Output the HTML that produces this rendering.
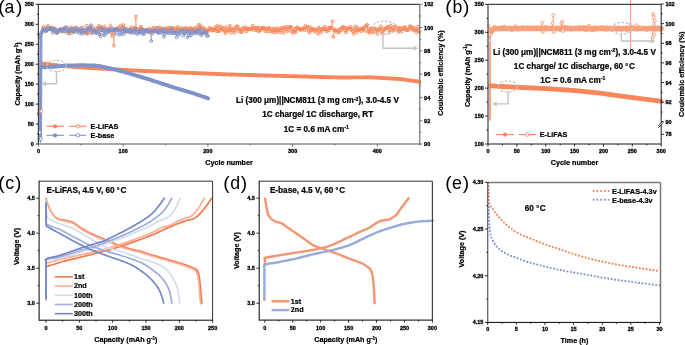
<!DOCTYPE html>
<html><head><meta charset="utf-8"><style>
html,body{margin:0;padding:0;background:#fff;width:685px;height:345px;overflow:hidden;}
svg{display:block;font-family:"Liberation Sans", sans-serif;filter:blur(0.3px);}
</style></head><body>
<svg width="685" height="345" viewBox="0 0 685 345">
<text x="-1.89" y="13.45" font-size="19.2" font-weight="normal" text-anchor="start" fill="#000" >(</text>
<text x="4.46" y="13" font-size="17.7" font-weight="normal" text-anchor="start" fill="#000" >a</text>
<text x="15.93" y="13.45" font-size="19.2" font-weight="normal" text-anchor="start" fill="#000" >)</text>
<text x="445.26" y="13.45" font-size="19.2" font-weight="normal" text-anchor="start" fill="#000" >(</text>
<text x="452.38" y="13" font-size="17.7" font-weight="normal" text-anchor="start" fill="#000" >b</text>
<text x="462.98" y="13.45" font-size="19.2" font-weight="normal" text-anchor="start" fill="#000" >)</text>
<text x="-1.89" y="189.05" font-size="19.2" font-weight="normal" text-anchor="start" fill="#000" >(</text>
<text x="5.18" y="188.6" font-size="17.7" font-weight="normal" text-anchor="start" fill="#000" >c</text>
<text x="14.88" y="189.05" font-size="19.2" font-weight="normal" text-anchor="start" fill="#000" >)</text>
<text x="223.31" y="189.05" font-size="19.2" font-weight="normal" text-anchor="start" fill="#000" >(</text>
<text x="230.17" y="188.6" font-size="17.7" font-weight="normal" text-anchor="start" fill="#000" >d</text>
<text x="240.78" y="189.05" font-size="19.2" font-weight="normal" text-anchor="start" fill="#000" >)</text>
<text x="445.31" y="189.05" font-size="19.2" font-weight="normal" text-anchor="start" fill="#000" >(</text>
<text x="451.95" y="188.6" font-size="17.7" font-weight="normal" text-anchor="start" fill="#000" >e</text>
<text x="462.73" y="189.05" font-size="19.2" font-weight="normal" text-anchor="start" fill="#000" >)</text>
<polyline points="39.35,112.08 40.2,63.3 41.04,63.39 41.89,63.49 42.73,63.59 43.58,63.7 44.42,63.81 45.27,63.92 46.11,64.03 46.96,64.13 47.8,64.24 48.65,64.35 49.49,64.46 50.34,64.57 51.18,64.67 52.03,64.78 52.87,64.89 53.72,65 54.56,65.11 55.41,65.21 56.25,65.32 57.1,65.43 57.94,65.54 58.79,65.65 59.63,65.75 60.48,65.84 61.32,65.9 62.17,65.96 63.01,66.02 63.86,66.08 64.7,66.15 65.55,66.21 66.39,66.27 67.24,66.33 68.08,66.39 68.93,66.45 69.77,66.52 70.62,66.58 71.46,66.64 72.31,66.7 73.15,66.76 74,66.83 74.84,66.89 75.69,66.95 76.53,67.01 77.38,67.07 78.22,67.14 79.07,67.2 79.91,67.26 80.76,67.32 81.6,67.38 82.45,67.45 83.29,67.51 84.14,67.57 84.98,67.63 85.83,67.69 86.67,67.76 87.52,67.82 88.36,67.88 89.21,67.94 90.05,68 90.9,68.05 91.74,68.1 92.59,68.15 93.43,68.19 94.28,68.24 95.12,68.29 95.97,68.33 96.81,68.38 97.66,68.43 98.5,68.48 99.35,68.52 100.19,68.57 101.04,68.62 101.88,68.67 102.73,68.71 103.57,68.76 104.42,68.81 105.26,68.85 106.11,68.9 106.95,68.95 107.8,69 108.64,69.04 109.49,69.09 110.33,69.14 111.18,69.19 112.02,69.23 112.87,69.28 113.71,69.33 114.56,69.38 115.4,69.42 116.25,69.47 117.09,69.52 117.94,69.56 118.78,69.61 119.63,69.66 120.47,69.71 121.32,69.75 122.16,69.8 123.01,69.85 123.85,69.9 124.7,69.94 125.54,69.99 126.39,70.04 127.23,70.09 128.08,70.13 128.92,70.18 129.77,70.23 130.61,70.27 131.46,70.32 132.3,70.37 133.15,70.42 133.99,70.46 134.84,70.51 135.68,70.56 136.53,70.61 137.37,70.65 138.22,70.7 139.06,70.75 139.91,70.79 140.75,70.83 141.6,70.87 142.44,70.9 143.29,70.94 144.13,70.97 144.98,71 145.82,71.04 146.67,71.07 147.51,71.11 148.36,71.14 149.2,71.18 150.05,71.21 150.89,71.25 151.74,71.28 152.58,71.32 153.43,71.35 154.27,71.39 155.12,71.42 155.96,71.46 156.81,71.49 157.65,71.53 158.5,71.56 159.34,71.6 160.19,71.63 161.03,71.66 161.88,71.7 162.72,71.73 163.57,71.77 164.41,71.8 165.26,71.84 166.1,71.87 166.95,71.91 167.79,71.94 168.64,71.98 169.48,72.01 170.33,72.05 171.17,72.08 172.02,72.12 172.86,72.15 173.71,72.19 174.55,72.22 175.4,72.26 176.24,72.29 177.09,72.32 177.93,72.36 178.78,72.39 179.62,72.43 180.47,72.46 181.31,72.5 182.16,72.53 183,72.57 183.85,72.6 184.69,72.64 185.54,72.67 186.38,72.71 187.23,72.74 188.07,72.78 188.92,72.81 189.76,72.85 190.61,72.88 191.45,72.92 192.3,72.95 193.14,72.98 193.99,73.02 194.83,73.05 195.68,73.09 196.52,73.12 197.37,73.16 198.21,73.19 199.06,73.23 199.9,73.26 200.75,73.3 201.59,73.33 202.44,73.37 203.28,73.4 204.13,73.44 204.97,73.47 205.82,73.51 206.66,73.54 207.51,73.58 208.35,73.61 209.2,73.64 210.04,73.68 210.89,73.71 211.73,73.75 212.58,73.78 213.42,73.82 214.27,73.85 215.11,73.89 215.96,73.92 216.8,73.96 217.65,73.99 218.49,74.03 219.34,74.06 220.18,74.1 221.03,74.13 221.87,74.17 222.72,74.2 223.56,74.24 224.41,74.27 225.25,74.3 226.1,74.34 226.94,74.37 227.79,74.41 228.63,74.44 229.48,74.48 230.32,74.51 231.17,74.53 232.01,74.55 232.86,74.58 233.7,74.6 234.55,74.62 235.39,74.65 236.24,74.67 237.08,74.69 237.93,74.72 238.77,74.74 239.62,74.76 240.46,74.79 241.31,74.81 242.15,74.83 243,74.85 243.84,74.88 244.69,74.9 245.53,74.92 246.38,74.95 247.22,74.97 248.07,74.99 248.91,75.02 249.76,75.04 250.6,75.06 251.45,75.08 252.29,75.11 253.14,75.13 253.98,75.15 254.83,75.18 255.67,75.2 256.52,75.22 257.36,75.25 258.21,75.27 259.05,75.29 259.9,75.32 260.74,75.34 261.59,75.36 262.43,75.38 263.28,75.41 264.12,75.43 264.97,75.45 265.81,75.48 266.66,75.5 267.5,75.52 268.35,75.55 269.19,75.57 270.04,75.59 270.88,75.61 271.73,75.64 272.57,75.66 273.42,75.68 274.26,75.71 275.11,75.73 275.95,75.75 276.8,75.78 277.64,75.8 278.49,75.82 279.33,75.85 280.18,75.87 281.02,75.89 281.87,75.91 282.71,75.94 283.56,75.96 284.4,75.98 285.25,76.01 286.09,76.03 286.94,76.05 287.78,76.08 288.63,76.1 289.47,76.12 290.32,76.15 291.16,76.17 292.01,76.19 292.85,76.21 293.7,76.24 294.54,76.26 295.39,76.28 296.23,76.31 297.08,76.33 297.92,76.35 298.77,76.38 299.61,76.4 300.46,76.42 301.3,76.44 302.15,76.47 302.99,76.49 303.84,76.51 304.68,76.54 305.53,76.56 306.37,76.58 307.22,76.61 308.06,76.63 308.91,76.65 309.75,76.68 310.6,76.7 311.44,76.72 312.29,76.74 313.13,76.77 313.98,76.79 314.82,76.81 315.67,76.84 316.51,76.86 317.36,76.88 318.2,76.91 319.05,76.93 319.89,76.95 320.74,76.97 321.58,77 322.43,77.02 323.27,77.04 324.12,77.07 324.96,77.09 325.81,77.11 326.65,77.14 327.5,77.16 328.34,77.18 329.19,77.21 330.03,77.23 330.88,77.25 331.72,77.27 332.57,77.3 333.41,77.32 334.26,77.34 335.1,77.37 335.95,77.39 336.79,77.41 337.64,77.44 338.48,77.46 339.33,77.48 340.17,77.5 341.02,77.49 341.86,77.49 342.71,77.48 343.55,77.48 344.4,77.47 345.24,77.47 346.09,77.46 346.93,77.45 347.78,77.45 348.62,77.44 349.47,77.44 350.31,77.43 351.16,77.43 352,77.42 352.85,77.41 353.69,77.41 354.54,77.4 355.38,77.4 356.23,77.39 357.07,77.39 357.92,77.38 358.76,77.37 359.61,77.37 360.45,77.36 361.3,77.36 362.14,77.35 362.99,77.35 363.83,77.34 364.68,77.34 365.52,77.33 366.37,77.32 367.21,77.32 368.06,77.31 368.9,77.31 369.75,77.3 370.59,77.33 371.44,77.38 372.28,77.43 373.13,77.48 373.97,77.53 374.82,77.57 375.66,77.62 376.51,77.67 377.35,77.72 378.2,77.76 379.04,77.81 379.89,77.86 380.73,77.91 381.58,77.96 382.42,78 383.27,78.05 384.11,78.1 384.96,78.15 385.8,78.2 386.65,78.24 387.49,78.29 388.34,78.34 389.18,78.39 390.03,78.43 390.87,78.48 391.72,78.53 392.56,78.58 393.41,78.63 394.25,78.67 395.1,78.72 395.94,78.77 396.79,78.82 397.63,78.87 398.48,78.91 399.32,78.96 400.17,79.02 401.01,79.14 401.86,79.27 402.7,79.39 403.55,79.51 404.39,79.63 405.24,79.75 406.08,79.87 406.93,79.99 407.77,80.11 408.62,80.23 409.46,80.35 410.31,80.47 411.15,80.59 412,80.71 412.84,80.83 413.69,80.96 414.53,81.08 415.38,81.2 416.22,81.32 417.07,81.44 417.91,81.56 418.76,81.68 419.6,81.8" fill="none" stroke="#F7875A" stroke-width="1.2" stroke-linejoin="round" stroke-linecap="round" />
<path d="M38.25,63.3a1.95,1.95 0 1,0 3.9,0a1.95,1.95 0 1,0 -3.9,0M39.09,63.39a1.95,1.95 0 1,0 3.9,0a1.95,1.95 0 1,0 -3.9,0M39.94,63.49a1.95,1.95 0 1,0 3.9,0a1.95,1.95 0 1,0 -3.9,0M40.78,63.59a1.95,1.95 0 1,0 3.9,0a1.95,1.95 0 1,0 -3.9,0M41.63,63.7a1.95,1.95 0 1,0 3.9,0a1.95,1.95 0 1,0 -3.9,0M42.47,63.81a1.95,1.95 0 1,0 3.9,0a1.95,1.95 0 1,0 -3.9,0M43.32,63.92a1.95,1.95 0 1,0 3.9,0a1.95,1.95 0 1,0 -3.9,0M44.16,64.03a1.95,1.95 0 1,0 3.9,0a1.95,1.95 0 1,0 -3.9,0M45.01,64.13a1.95,1.95 0 1,0 3.9,0a1.95,1.95 0 1,0 -3.9,0M45.85,64.24a1.95,1.95 0 1,0 3.9,0a1.95,1.95 0 1,0 -3.9,0M46.7,64.35a1.95,1.95 0 1,0 3.9,0a1.95,1.95 0 1,0 -3.9,0M47.54,64.46a1.95,1.95 0 1,0 3.9,0a1.95,1.95 0 1,0 -3.9,0M48.39,64.57a1.95,1.95 0 1,0 3.9,0a1.95,1.95 0 1,0 -3.9,0M49.23,64.67a1.95,1.95 0 1,0 3.9,0a1.95,1.95 0 1,0 -3.9,0M50.08,64.78a1.95,1.95 0 1,0 3.9,0a1.95,1.95 0 1,0 -3.9,0M50.92,64.89a1.95,1.95 0 1,0 3.9,0a1.95,1.95 0 1,0 -3.9,0M51.77,65a1.95,1.95 0 1,0 3.9,0a1.95,1.95 0 1,0 -3.9,0M52.61,65.11a1.95,1.95 0 1,0 3.9,0a1.95,1.95 0 1,0 -3.9,0M53.46,65.21a1.95,1.95 0 1,0 3.9,0a1.95,1.95 0 1,0 -3.9,0M54.3,65.32a1.95,1.95 0 1,0 3.9,0a1.95,1.95 0 1,0 -3.9,0M55.15,65.43a1.95,1.95 0 1,0 3.9,0a1.95,1.95 0 1,0 -3.9,0M55.99,65.54a1.95,1.95 0 1,0 3.9,0a1.95,1.95 0 1,0 -3.9,0M56.84,65.65a1.95,1.95 0 1,0 3.9,0a1.95,1.95 0 1,0 -3.9,0M57.68,65.75a1.95,1.95 0 1,0 3.9,0a1.95,1.95 0 1,0 -3.9,0M58.53,65.84a1.95,1.95 0 1,0 3.9,0a1.95,1.95 0 1,0 -3.9,0M59.37,65.9a1.95,1.95 0 1,0 3.9,0a1.95,1.95 0 1,0 -3.9,0M60.22,65.96a1.95,1.95 0 1,0 3.9,0a1.95,1.95 0 1,0 -3.9,0M61.06,66.02a1.95,1.95 0 1,0 3.9,0a1.95,1.95 0 1,0 -3.9,0M61.91,66.08a1.95,1.95 0 1,0 3.9,0a1.95,1.95 0 1,0 -3.9,0M62.75,66.15a1.95,1.95 0 1,0 3.9,0a1.95,1.95 0 1,0 -3.9,0M63.6,66.21a1.95,1.95 0 1,0 3.9,0a1.95,1.95 0 1,0 -3.9,0M64.44,66.27a1.95,1.95 0 1,0 3.9,0a1.95,1.95 0 1,0 -3.9,0M65.29,66.33a1.95,1.95 0 1,0 3.9,0a1.95,1.95 0 1,0 -3.9,0M66.13,66.39a1.95,1.95 0 1,0 3.9,0a1.95,1.95 0 1,0 -3.9,0M66.98,66.45a1.95,1.95 0 1,0 3.9,0a1.95,1.95 0 1,0 -3.9,0M67.82,66.52a1.95,1.95 0 1,0 3.9,0a1.95,1.95 0 1,0 -3.9,0M68.67,66.58a1.95,1.95 0 1,0 3.9,0a1.95,1.95 0 1,0 -3.9,0M69.51,66.64a1.95,1.95 0 1,0 3.9,0a1.95,1.95 0 1,0 -3.9,0M70.36,66.7a1.95,1.95 0 1,0 3.9,0a1.95,1.95 0 1,0 -3.9,0M71.2,66.76a1.95,1.95 0 1,0 3.9,0a1.95,1.95 0 1,0 -3.9,0M72.05,66.83a1.95,1.95 0 1,0 3.9,0a1.95,1.95 0 1,0 -3.9,0M72.89,66.89a1.95,1.95 0 1,0 3.9,0a1.95,1.95 0 1,0 -3.9,0M73.74,66.95a1.95,1.95 0 1,0 3.9,0a1.95,1.95 0 1,0 -3.9,0M74.58,67.01a1.95,1.95 0 1,0 3.9,0a1.95,1.95 0 1,0 -3.9,0M75.43,67.07a1.95,1.95 0 1,0 3.9,0a1.95,1.95 0 1,0 -3.9,0M76.27,67.14a1.95,1.95 0 1,0 3.9,0a1.95,1.95 0 1,0 -3.9,0M77.12,67.2a1.95,1.95 0 1,0 3.9,0a1.95,1.95 0 1,0 -3.9,0M77.96,67.26a1.95,1.95 0 1,0 3.9,0a1.95,1.95 0 1,0 -3.9,0M78.81,67.32a1.95,1.95 0 1,0 3.9,0a1.95,1.95 0 1,0 -3.9,0M79.65,67.38a1.95,1.95 0 1,0 3.9,0a1.95,1.95 0 1,0 -3.9,0M80.5,67.45a1.95,1.95 0 1,0 3.9,0a1.95,1.95 0 1,0 -3.9,0M81.34,67.51a1.95,1.95 0 1,0 3.9,0a1.95,1.95 0 1,0 -3.9,0M82.19,67.57a1.95,1.95 0 1,0 3.9,0a1.95,1.95 0 1,0 -3.9,0M83.03,67.63a1.95,1.95 0 1,0 3.9,0a1.95,1.95 0 1,0 -3.9,0M83.88,67.69a1.95,1.95 0 1,0 3.9,0a1.95,1.95 0 1,0 -3.9,0M84.72,67.76a1.95,1.95 0 1,0 3.9,0a1.95,1.95 0 1,0 -3.9,0M85.57,67.82a1.95,1.95 0 1,0 3.9,0a1.95,1.95 0 1,0 -3.9,0M86.41,67.88a1.95,1.95 0 1,0 3.9,0a1.95,1.95 0 1,0 -3.9,0M87.26,67.94a1.95,1.95 0 1,0 3.9,0a1.95,1.95 0 1,0 -3.9,0M88.1,68a1.95,1.95 0 1,0 3.9,0a1.95,1.95 0 1,0 -3.9,0M88.95,68.05a1.95,1.95 0 1,0 3.9,0a1.95,1.95 0 1,0 -3.9,0M89.79,68.1a1.95,1.95 0 1,0 3.9,0a1.95,1.95 0 1,0 -3.9,0M90.64,68.15a1.95,1.95 0 1,0 3.9,0a1.95,1.95 0 1,0 -3.9,0M91.48,68.19a1.95,1.95 0 1,0 3.9,0a1.95,1.95 0 1,0 -3.9,0M92.33,68.24a1.95,1.95 0 1,0 3.9,0a1.95,1.95 0 1,0 -3.9,0M93.17,68.29a1.95,1.95 0 1,0 3.9,0a1.95,1.95 0 1,0 -3.9,0M94.02,68.33a1.95,1.95 0 1,0 3.9,0a1.95,1.95 0 1,0 -3.9,0M94.86,68.38a1.95,1.95 0 1,0 3.9,0a1.95,1.95 0 1,0 -3.9,0M95.71,68.43a1.95,1.95 0 1,0 3.9,0a1.95,1.95 0 1,0 -3.9,0M96.55,68.48a1.95,1.95 0 1,0 3.9,0a1.95,1.95 0 1,0 -3.9,0M97.4,68.52a1.95,1.95 0 1,0 3.9,0a1.95,1.95 0 1,0 -3.9,0M98.24,68.57a1.95,1.95 0 1,0 3.9,0a1.95,1.95 0 1,0 -3.9,0M99.09,68.62a1.95,1.95 0 1,0 3.9,0a1.95,1.95 0 1,0 -3.9,0M99.93,68.67a1.95,1.95 0 1,0 3.9,0a1.95,1.95 0 1,0 -3.9,0M100.78,68.71a1.95,1.95 0 1,0 3.9,0a1.95,1.95 0 1,0 -3.9,0M101.62,68.76a1.95,1.95 0 1,0 3.9,0a1.95,1.95 0 1,0 -3.9,0M102.47,68.81a1.95,1.95 0 1,0 3.9,0a1.95,1.95 0 1,0 -3.9,0M103.31,68.85a1.95,1.95 0 1,0 3.9,0a1.95,1.95 0 1,0 -3.9,0M104.16,68.9a1.95,1.95 0 1,0 3.9,0a1.95,1.95 0 1,0 -3.9,0M105,68.95a1.95,1.95 0 1,0 3.9,0a1.95,1.95 0 1,0 -3.9,0M105.85,69a1.95,1.95 0 1,0 3.9,0a1.95,1.95 0 1,0 -3.9,0M106.69,69.04a1.95,1.95 0 1,0 3.9,0a1.95,1.95 0 1,0 -3.9,0M107.54,69.09a1.95,1.95 0 1,0 3.9,0a1.95,1.95 0 1,0 -3.9,0M108.38,69.14a1.95,1.95 0 1,0 3.9,0a1.95,1.95 0 1,0 -3.9,0M109.23,69.19a1.95,1.95 0 1,0 3.9,0a1.95,1.95 0 1,0 -3.9,0M110.07,69.23a1.95,1.95 0 1,0 3.9,0a1.95,1.95 0 1,0 -3.9,0M110.92,69.28a1.95,1.95 0 1,0 3.9,0a1.95,1.95 0 1,0 -3.9,0M111.76,69.33a1.95,1.95 0 1,0 3.9,0a1.95,1.95 0 1,0 -3.9,0M112.61,69.38a1.95,1.95 0 1,0 3.9,0a1.95,1.95 0 1,0 -3.9,0M113.45,69.42a1.95,1.95 0 1,0 3.9,0a1.95,1.95 0 1,0 -3.9,0M114.3,69.47a1.95,1.95 0 1,0 3.9,0a1.95,1.95 0 1,0 -3.9,0M115.14,69.52a1.95,1.95 0 1,0 3.9,0a1.95,1.95 0 1,0 -3.9,0M115.99,69.56a1.95,1.95 0 1,0 3.9,0a1.95,1.95 0 1,0 -3.9,0M116.83,69.61a1.95,1.95 0 1,0 3.9,0a1.95,1.95 0 1,0 -3.9,0M117.68,69.66a1.95,1.95 0 1,0 3.9,0a1.95,1.95 0 1,0 -3.9,0M118.52,69.71a1.95,1.95 0 1,0 3.9,0a1.95,1.95 0 1,0 -3.9,0M119.37,69.75a1.95,1.95 0 1,0 3.9,0a1.95,1.95 0 1,0 -3.9,0M120.21,69.8a1.95,1.95 0 1,0 3.9,0a1.95,1.95 0 1,0 -3.9,0M121.06,69.85a1.95,1.95 0 1,0 3.9,0a1.95,1.95 0 1,0 -3.9,0M121.9,69.9a1.95,1.95 0 1,0 3.9,0a1.95,1.95 0 1,0 -3.9,0M122.75,69.94a1.95,1.95 0 1,0 3.9,0a1.95,1.95 0 1,0 -3.9,0M123.59,69.99a1.95,1.95 0 1,0 3.9,0a1.95,1.95 0 1,0 -3.9,0M124.44,70.04a1.95,1.95 0 1,0 3.9,0a1.95,1.95 0 1,0 -3.9,0M125.28,70.09a1.95,1.95 0 1,0 3.9,0a1.95,1.95 0 1,0 -3.9,0M126.13,70.13a1.95,1.95 0 1,0 3.9,0a1.95,1.95 0 1,0 -3.9,0M126.97,70.18a1.95,1.95 0 1,0 3.9,0a1.95,1.95 0 1,0 -3.9,0M127.82,70.23a1.95,1.95 0 1,0 3.9,0a1.95,1.95 0 1,0 -3.9,0M128.66,70.27a1.95,1.95 0 1,0 3.9,0a1.95,1.95 0 1,0 -3.9,0M129.51,70.32a1.95,1.95 0 1,0 3.9,0a1.95,1.95 0 1,0 -3.9,0M130.35,70.37a1.95,1.95 0 1,0 3.9,0a1.95,1.95 0 1,0 -3.9,0M131.2,70.42a1.95,1.95 0 1,0 3.9,0a1.95,1.95 0 1,0 -3.9,0M132.04,70.46a1.95,1.95 0 1,0 3.9,0a1.95,1.95 0 1,0 -3.9,0M132.89,70.51a1.95,1.95 0 1,0 3.9,0a1.95,1.95 0 1,0 -3.9,0M133.73,70.56a1.95,1.95 0 1,0 3.9,0a1.95,1.95 0 1,0 -3.9,0M134.58,70.61a1.95,1.95 0 1,0 3.9,0a1.95,1.95 0 1,0 -3.9,0M135.42,70.65a1.95,1.95 0 1,0 3.9,0a1.95,1.95 0 1,0 -3.9,0M136.27,70.7a1.95,1.95 0 1,0 3.9,0a1.95,1.95 0 1,0 -3.9,0M137.11,70.75a1.95,1.95 0 1,0 3.9,0a1.95,1.95 0 1,0 -3.9,0M137.96,70.79a1.95,1.95 0 1,0 3.9,0a1.95,1.95 0 1,0 -3.9,0M138.8,70.83a1.95,1.95 0 1,0 3.9,0a1.95,1.95 0 1,0 -3.9,0M139.65,70.87a1.95,1.95 0 1,0 3.9,0a1.95,1.95 0 1,0 -3.9,0M140.49,70.9a1.95,1.95 0 1,0 3.9,0a1.95,1.95 0 1,0 -3.9,0M141.34,70.94a1.95,1.95 0 1,0 3.9,0a1.95,1.95 0 1,0 -3.9,0M142.18,70.97a1.95,1.95 0 1,0 3.9,0a1.95,1.95 0 1,0 -3.9,0M143.03,71a1.95,1.95 0 1,0 3.9,0a1.95,1.95 0 1,0 -3.9,0M143.87,71.04a1.95,1.95 0 1,0 3.9,0a1.95,1.95 0 1,0 -3.9,0M144.72,71.07a1.95,1.95 0 1,0 3.9,0a1.95,1.95 0 1,0 -3.9,0M145.56,71.11a1.95,1.95 0 1,0 3.9,0a1.95,1.95 0 1,0 -3.9,0M146.41,71.14a1.95,1.95 0 1,0 3.9,0a1.95,1.95 0 1,0 -3.9,0M147.25,71.18a1.95,1.95 0 1,0 3.9,0a1.95,1.95 0 1,0 -3.9,0M148.1,71.21a1.95,1.95 0 1,0 3.9,0a1.95,1.95 0 1,0 -3.9,0M148.94,71.25a1.95,1.95 0 1,0 3.9,0a1.95,1.95 0 1,0 -3.9,0M149.79,71.28a1.95,1.95 0 1,0 3.9,0a1.95,1.95 0 1,0 -3.9,0M150.63,71.32a1.95,1.95 0 1,0 3.9,0a1.95,1.95 0 1,0 -3.9,0M151.48,71.35a1.95,1.95 0 1,0 3.9,0a1.95,1.95 0 1,0 -3.9,0M152.32,71.39a1.95,1.95 0 1,0 3.9,0a1.95,1.95 0 1,0 -3.9,0M153.17,71.42a1.95,1.95 0 1,0 3.9,0a1.95,1.95 0 1,0 -3.9,0M154.01,71.46a1.95,1.95 0 1,0 3.9,0a1.95,1.95 0 1,0 -3.9,0M154.86,71.49a1.95,1.95 0 1,0 3.9,0a1.95,1.95 0 1,0 -3.9,0M155.7,71.53a1.95,1.95 0 1,0 3.9,0a1.95,1.95 0 1,0 -3.9,0M156.55,71.56a1.95,1.95 0 1,0 3.9,0a1.95,1.95 0 1,0 -3.9,0M157.39,71.6a1.95,1.95 0 1,0 3.9,0a1.95,1.95 0 1,0 -3.9,0M158.24,71.63a1.95,1.95 0 1,0 3.9,0a1.95,1.95 0 1,0 -3.9,0M159.08,71.66a1.95,1.95 0 1,0 3.9,0a1.95,1.95 0 1,0 -3.9,0M159.93,71.7a1.95,1.95 0 1,0 3.9,0a1.95,1.95 0 1,0 -3.9,0M160.77,71.73a1.95,1.95 0 1,0 3.9,0a1.95,1.95 0 1,0 -3.9,0M161.62,71.77a1.95,1.95 0 1,0 3.9,0a1.95,1.95 0 1,0 -3.9,0M162.46,71.8a1.95,1.95 0 1,0 3.9,0a1.95,1.95 0 1,0 -3.9,0M163.31,71.84a1.95,1.95 0 1,0 3.9,0a1.95,1.95 0 1,0 -3.9,0M164.15,71.87a1.95,1.95 0 1,0 3.9,0a1.95,1.95 0 1,0 -3.9,0M165,71.91a1.95,1.95 0 1,0 3.9,0a1.95,1.95 0 1,0 -3.9,0M165.84,71.94a1.95,1.95 0 1,0 3.9,0a1.95,1.95 0 1,0 -3.9,0M166.69,71.98a1.95,1.95 0 1,0 3.9,0a1.95,1.95 0 1,0 -3.9,0M167.53,72.01a1.95,1.95 0 1,0 3.9,0a1.95,1.95 0 1,0 -3.9,0M168.38,72.05a1.95,1.95 0 1,0 3.9,0a1.95,1.95 0 1,0 -3.9,0M169.22,72.08a1.95,1.95 0 1,0 3.9,0a1.95,1.95 0 1,0 -3.9,0M170.07,72.12a1.95,1.95 0 1,0 3.9,0a1.95,1.95 0 1,0 -3.9,0M170.91,72.15a1.95,1.95 0 1,0 3.9,0a1.95,1.95 0 1,0 -3.9,0M171.76,72.19a1.95,1.95 0 1,0 3.9,0a1.95,1.95 0 1,0 -3.9,0M172.6,72.22a1.95,1.95 0 1,0 3.9,0a1.95,1.95 0 1,0 -3.9,0M173.45,72.26a1.95,1.95 0 1,0 3.9,0a1.95,1.95 0 1,0 -3.9,0M174.29,72.29a1.95,1.95 0 1,0 3.9,0a1.95,1.95 0 1,0 -3.9,0M175.14,72.32a1.95,1.95 0 1,0 3.9,0a1.95,1.95 0 1,0 -3.9,0M175.98,72.36a1.95,1.95 0 1,0 3.9,0a1.95,1.95 0 1,0 -3.9,0M176.83,72.39a1.95,1.95 0 1,0 3.9,0a1.95,1.95 0 1,0 -3.9,0M177.67,72.43a1.95,1.95 0 1,0 3.9,0a1.95,1.95 0 1,0 -3.9,0M178.52,72.46a1.95,1.95 0 1,0 3.9,0a1.95,1.95 0 1,0 -3.9,0M179.36,72.5a1.95,1.95 0 1,0 3.9,0a1.95,1.95 0 1,0 -3.9,0M180.21,72.53a1.95,1.95 0 1,0 3.9,0a1.95,1.95 0 1,0 -3.9,0M181.05,72.57a1.95,1.95 0 1,0 3.9,0a1.95,1.95 0 1,0 -3.9,0M181.9,72.6a1.95,1.95 0 1,0 3.9,0a1.95,1.95 0 1,0 -3.9,0M182.74,72.64a1.95,1.95 0 1,0 3.9,0a1.95,1.95 0 1,0 -3.9,0M183.59,72.67a1.95,1.95 0 1,0 3.9,0a1.95,1.95 0 1,0 -3.9,0M184.43,72.71a1.95,1.95 0 1,0 3.9,0a1.95,1.95 0 1,0 -3.9,0M185.28,72.74a1.95,1.95 0 1,0 3.9,0a1.95,1.95 0 1,0 -3.9,0M186.12,72.78a1.95,1.95 0 1,0 3.9,0a1.95,1.95 0 1,0 -3.9,0M186.97,72.81a1.95,1.95 0 1,0 3.9,0a1.95,1.95 0 1,0 -3.9,0M187.81,72.85a1.95,1.95 0 1,0 3.9,0a1.95,1.95 0 1,0 -3.9,0M188.66,72.88a1.95,1.95 0 1,0 3.9,0a1.95,1.95 0 1,0 -3.9,0M189.5,72.92a1.95,1.95 0 1,0 3.9,0a1.95,1.95 0 1,0 -3.9,0M190.35,72.95a1.95,1.95 0 1,0 3.9,0a1.95,1.95 0 1,0 -3.9,0M191.19,72.98a1.95,1.95 0 1,0 3.9,0a1.95,1.95 0 1,0 -3.9,0M192.04,73.02a1.95,1.95 0 1,0 3.9,0a1.95,1.95 0 1,0 -3.9,0M192.88,73.05a1.95,1.95 0 1,0 3.9,0a1.95,1.95 0 1,0 -3.9,0M193.73,73.09a1.95,1.95 0 1,0 3.9,0a1.95,1.95 0 1,0 -3.9,0M194.57,73.12a1.95,1.95 0 1,0 3.9,0a1.95,1.95 0 1,0 -3.9,0M195.42,73.16a1.95,1.95 0 1,0 3.9,0a1.95,1.95 0 1,0 -3.9,0M196.26,73.19a1.95,1.95 0 1,0 3.9,0a1.95,1.95 0 1,0 -3.9,0M197.11,73.23a1.95,1.95 0 1,0 3.9,0a1.95,1.95 0 1,0 -3.9,0M197.95,73.26a1.95,1.95 0 1,0 3.9,0a1.95,1.95 0 1,0 -3.9,0M198.8,73.3a1.95,1.95 0 1,0 3.9,0a1.95,1.95 0 1,0 -3.9,0M199.64,73.33a1.95,1.95 0 1,0 3.9,0a1.95,1.95 0 1,0 -3.9,0M200.49,73.37a1.95,1.95 0 1,0 3.9,0a1.95,1.95 0 1,0 -3.9,0M201.33,73.4a1.95,1.95 0 1,0 3.9,0a1.95,1.95 0 1,0 -3.9,0M202.18,73.44a1.95,1.95 0 1,0 3.9,0a1.95,1.95 0 1,0 -3.9,0M203.02,73.47a1.95,1.95 0 1,0 3.9,0a1.95,1.95 0 1,0 -3.9,0M203.87,73.51a1.95,1.95 0 1,0 3.9,0a1.95,1.95 0 1,0 -3.9,0M204.71,73.54a1.95,1.95 0 1,0 3.9,0a1.95,1.95 0 1,0 -3.9,0M205.56,73.58a1.95,1.95 0 1,0 3.9,0a1.95,1.95 0 1,0 -3.9,0M206.4,73.61a1.95,1.95 0 1,0 3.9,0a1.95,1.95 0 1,0 -3.9,0M207.25,73.64a1.95,1.95 0 1,0 3.9,0a1.95,1.95 0 1,0 -3.9,0M208.09,73.68a1.95,1.95 0 1,0 3.9,0a1.95,1.95 0 1,0 -3.9,0M208.94,73.71a1.95,1.95 0 1,0 3.9,0a1.95,1.95 0 1,0 -3.9,0M209.78,73.75a1.95,1.95 0 1,0 3.9,0a1.95,1.95 0 1,0 -3.9,0M210.63,73.78a1.95,1.95 0 1,0 3.9,0a1.95,1.95 0 1,0 -3.9,0M211.47,73.82a1.95,1.95 0 1,0 3.9,0a1.95,1.95 0 1,0 -3.9,0M212.32,73.85a1.95,1.95 0 1,0 3.9,0a1.95,1.95 0 1,0 -3.9,0M213.16,73.89a1.95,1.95 0 1,0 3.9,0a1.95,1.95 0 1,0 -3.9,0M214.01,73.92a1.95,1.95 0 1,0 3.9,0a1.95,1.95 0 1,0 -3.9,0M214.85,73.96a1.95,1.95 0 1,0 3.9,0a1.95,1.95 0 1,0 -3.9,0M215.7,73.99a1.95,1.95 0 1,0 3.9,0a1.95,1.95 0 1,0 -3.9,0M216.54,74.03a1.95,1.95 0 1,0 3.9,0a1.95,1.95 0 1,0 -3.9,0M217.39,74.06a1.95,1.95 0 1,0 3.9,0a1.95,1.95 0 1,0 -3.9,0M218.23,74.1a1.95,1.95 0 1,0 3.9,0a1.95,1.95 0 1,0 -3.9,0M219.08,74.13a1.95,1.95 0 1,0 3.9,0a1.95,1.95 0 1,0 -3.9,0M219.92,74.17a1.95,1.95 0 1,0 3.9,0a1.95,1.95 0 1,0 -3.9,0M220.77,74.2a1.95,1.95 0 1,0 3.9,0a1.95,1.95 0 1,0 -3.9,0M221.61,74.24a1.95,1.95 0 1,0 3.9,0a1.95,1.95 0 1,0 -3.9,0M222.46,74.27a1.95,1.95 0 1,0 3.9,0a1.95,1.95 0 1,0 -3.9,0M223.3,74.3a1.95,1.95 0 1,0 3.9,0a1.95,1.95 0 1,0 -3.9,0M224.15,74.34a1.95,1.95 0 1,0 3.9,0a1.95,1.95 0 1,0 -3.9,0M224.99,74.37a1.95,1.95 0 1,0 3.9,0a1.95,1.95 0 1,0 -3.9,0M225.84,74.41a1.95,1.95 0 1,0 3.9,0a1.95,1.95 0 1,0 -3.9,0M226.68,74.44a1.95,1.95 0 1,0 3.9,0a1.95,1.95 0 1,0 -3.9,0M227.53,74.48a1.95,1.95 0 1,0 3.9,0a1.95,1.95 0 1,0 -3.9,0M228.37,74.51a1.95,1.95 0 1,0 3.9,0a1.95,1.95 0 1,0 -3.9,0M229.22,74.53a1.95,1.95 0 1,0 3.9,0a1.95,1.95 0 1,0 -3.9,0M230.06,74.55a1.95,1.95 0 1,0 3.9,0a1.95,1.95 0 1,0 -3.9,0M230.91,74.58a1.95,1.95 0 1,0 3.9,0a1.95,1.95 0 1,0 -3.9,0M231.75,74.6a1.95,1.95 0 1,0 3.9,0a1.95,1.95 0 1,0 -3.9,0M232.6,74.62a1.95,1.95 0 1,0 3.9,0a1.95,1.95 0 1,0 -3.9,0M233.44,74.65a1.95,1.95 0 1,0 3.9,0a1.95,1.95 0 1,0 -3.9,0M234.29,74.67a1.95,1.95 0 1,0 3.9,0a1.95,1.95 0 1,0 -3.9,0M235.13,74.69a1.95,1.95 0 1,0 3.9,0a1.95,1.95 0 1,0 -3.9,0M235.98,74.72a1.95,1.95 0 1,0 3.9,0a1.95,1.95 0 1,0 -3.9,0M236.82,74.74a1.95,1.95 0 1,0 3.9,0a1.95,1.95 0 1,0 -3.9,0M237.67,74.76a1.95,1.95 0 1,0 3.9,0a1.95,1.95 0 1,0 -3.9,0M238.51,74.79a1.95,1.95 0 1,0 3.9,0a1.95,1.95 0 1,0 -3.9,0M239.36,74.81a1.95,1.95 0 1,0 3.9,0a1.95,1.95 0 1,0 -3.9,0M240.2,74.83a1.95,1.95 0 1,0 3.9,0a1.95,1.95 0 1,0 -3.9,0M241.05,74.85a1.95,1.95 0 1,0 3.9,0a1.95,1.95 0 1,0 -3.9,0M241.89,74.88a1.95,1.95 0 1,0 3.9,0a1.95,1.95 0 1,0 -3.9,0M242.74,74.9a1.95,1.95 0 1,0 3.9,0a1.95,1.95 0 1,0 -3.9,0M243.58,74.92a1.95,1.95 0 1,0 3.9,0a1.95,1.95 0 1,0 -3.9,0M244.43,74.95a1.95,1.95 0 1,0 3.9,0a1.95,1.95 0 1,0 -3.9,0M245.27,74.97a1.95,1.95 0 1,0 3.9,0a1.95,1.95 0 1,0 -3.9,0M246.12,74.99a1.95,1.95 0 1,0 3.9,0a1.95,1.95 0 1,0 -3.9,0M246.96,75.02a1.95,1.95 0 1,0 3.9,0a1.95,1.95 0 1,0 -3.9,0M247.81,75.04a1.95,1.95 0 1,0 3.9,0a1.95,1.95 0 1,0 -3.9,0M248.65,75.06a1.95,1.95 0 1,0 3.9,0a1.95,1.95 0 1,0 -3.9,0M249.5,75.08a1.95,1.95 0 1,0 3.9,0a1.95,1.95 0 1,0 -3.9,0M250.34,75.11a1.95,1.95 0 1,0 3.9,0a1.95,1.95 0 1,0 -3.9,0M251.19,75.13a1.95,1.95 0 1,0 3.9,0a1.95,1.95 0 1,0 -3.9,0M252.03,75.15a1.95,1.95 0 1,0 3.9,0a1.95,1.95 0 1,0 -3.9,0M252.88,75.18a1.95,1.95 0 1,0 3.9,0a1.95,1.95 0 1,0 -3.9,0M253.72,75.2a1.95,1.95 0 1,0 3.9,0a1.95,1.95 0 1,0 -3.9,0M254.57,75.22a1.95,1.95 0 1,0 3.9,0a1.95,1.95 0 1,0 -3.9,0M255.41,75.25a1.95,1.95 0 1,0 3.9,0a1.95,1.95 0 1,0 -3.9,0M256.26,75.27a1.95,1.95 0 1,0 3.9,0a1.95,1.95 0 1,0 -3.9,0M257.1,75.29a1.95,1.95 0 1,0 3.9,0a1.95,1.95 0 1,0 -3.9,0M257.95,75.32a1.95,1.95 0 1,0 3.9,0a1.95,1.95 0 1,0 -3.9,0M258.79,75.34a1.95,1.95 0 1,0 3.9,0a1.95,1.95 0 1,0 -3.9,0M259.64,75.36a1.95,1.95 0 1,0 3.9,0a1.95,1.95 0 1,0 -3.9,0M260.48,75.38a1.95,1.95 0 1,0 3.9,0a1.95,1.95 0 1,0 -3.9,0M261.33,75.41a1.95,1.95 0 1,0 3.9,0a1.95,1.95 0 1,0 -3.9,0M262.17,75.43a1.95,1.95 0 1,0 3.9,0a1.95,1.95 0 1,0 -3.9,0M263.02,75.45a1.95,1.95 0 1,0 3.9,0a1.95,1.95 0 1,0 -3.9,0M263.86,75.48a1.95,1.95 0 1,0 3.9,0a1.95,1.95 0 1,0 -3.9,0M264.71,75.5a1.95,1.95 0 1,0 3.9,0a1.95,1.95 0 1,0 -3.9,0M265.55,75.52a1.95,1.95 0 1,0 3.9,0a1.95,1.95 0 1,0 -3.9,0M266.4,75.55a1.95,1.95 0 1,0 3.9,0a1.95,1.95 0 1,0 -3.9,0M267.24,75.57a1.95,1.95 0 1,0 3.9,0a1.95,1.95 0 1,0 -3.9,0M268.09,75.59a1.95,1.95 0 1,0 3.9,0a1.95,1.95 0 1,0 -3.9,0M268.93,75.61a1.95,1.95 0 1,0 3.9,0a1.95,1.95 0 1,0 -3.9,0M269.78,75.64a1.95,1.95 0 1,0 3.9,0a1.95,1.95 0 1,0 -3.9,0M270.62,75.66a1.95,1.95 0 1,0 3.9,0a1.95,1.95 0 1,0 -3.9,0M271.47,75.68a1.95,1.95 0 1,0 3.9,0a1.95,1.95 0 1,0 -3.9,0M272.31,75.71a1.95,1.95 0 1,0 3.9,0a1.95,1.95 0 1,0 -3.9,0M273.16,75.73a1.95,1.95 0 1,0 3.9,0a1.95,1.95 0 1,0 -3.9,0M274,75.75a1.95,1.95 0 1,0 3.9,0a1.95,1.95 0 1,0 -3.9,0M274.85,75.78a1.95,1.95 0 1,0 3.9,0a1.95,1.95 0 1,0 -3.9,0M275.69,75.8a1.95,1.95 0 1,0 3.9,0a1.95,1.95 0 1,0 -3.9,0M276.54,75.82a1.95,1.95 0 1,0 3.9,0a1.95,1.95 0 1,0 -3.9,0M277.38,75.85a1.95,1.95 0 1,0 3.9,0a1.95,1.95 0 1,0 -3.9,0M278.23,75.87a1.95,1.95 0 1,0 3.9,0a1.95,1.95 0 1,0 -3.9,0M279.07,75.89a1.95,1.95 0 1,0 3.9,0a1.95,1.95 0 1,0 -3.9,0M279.92,75.91a1.95,1.95 0 1,0 3.9,0a1.95,1.95 0 1,0 -3.9,0M280.76,75.94a1.95,1.95 0 1,0 3.9,0a1.95,1.95 0 1,0 -3.9,0M281.61,75.96a1.95,1.95 0 1,0 3.9,0a1.95,1.95 0 1,0 -3.9,0M282.45,75.98a1.95,1.95 0 1,0 3.9,0a1.95,1.95 0 1,0 -3.9,0M283.3,76.01a1.95,1.95 0 1,0 3.9,0a1.95,1.95 0 1,0 -3.9,0M284.14,76.03a1.95,1.95 0 1,0 3.9,0a1.95,1.95 0 1,0 -3.9,0M284.99,76.05a1.95,1.95 0 1,0 3.9,0a1.95,1.95 0 1,0 -3.9,0M285.83,76.08a1.95,1.95 0 1,0 3.9,0a1.95,1.95 0 1,0 -3.9,0M286.68,76.1a1.95,1.95 0 1,0 3.9,0a1.95,1.95 0 1,0 -3.9,0M287.52,76.12a1.95,1.95 0 1,0 3.9,0a1.95,1.95 0 1,0 -3.9,0M288.37,76.15a1.95,1.95 0 1,0 3.9,0a1.95,1.95 0 1,0 -3.9,0M289.21,76.17a1.95,1.95 0 1,0 3.9,0a1.95,1.95 0 1,0 -3.9,0M290.06,76.19a1.95,1.95 0 1,0 3.9,0a1.95,1.95 0 1,0 -3.9,0M290.9,76.21a1.95,1.95 0 1,0 3.9,0a1.95,1.95 0 1,0 -3.9,0M291.75,76.24a1.95,1.95 0 1,0 3.9,0a1.95,1.95 0 1,0 -3.9,0M292.59,76.26a1.95,1.95 0 1,0 3.9,0a1.95,1.95 0 1,0 -3.9,0M293.44,76.28a1.95,1.95 0 1,0 3.9,0a1.95,1.95 0 1,0 -3.9,0M294.28,76.31a1.95,1.95 0 1,0 3.9,0a1.95,1.95 0 1,0 -3.9,0M295.13,76.33a1.95,1.95 0 1,0 3.9,0a1.95,1.95 0 1,0 -3.9,0M295.97,76.35a1.95,1.95 0 1,0 3.9,0a1.95,1.95 0 1,0 -3.9,0M296.82,76.38a1.95,1.95 0 1,0 3.9,0a1.95,1.95 0 1,0 -3.9,0M297.66,76.4a1.95,1.95 0 1,0 3.9,0a1.95,1.95 0 1,0 -3.9,0M298.51,76.42a1.95,1.95 0 1,0 3.9,0a1.95,1.95 0 1,0 -3.9,0M299.35,76.44a1.95,1.95 0 1,0 3.9,0a1.95,1.95 0 1,0 -3.9,0M300.2,76.47a1.95,1.95 0 1,0 3.9,0a1.95,1.95 0 1,0 -3.9,0M301.04,76.49a1.95,1.95 0 1,0 3.9,0a1.95,1.95 0 1,0 -3.9,0M301.89,76.51a1.95,1.95 0 1,0 3.9,0a1.95,1.95 0 1,0 -3.9,0M302.73,76.54a1.95,1.95 0 1,0 3.9,0a1.95,1.95 0 1,0 -3.9,0M303.58,76.56a1.95,1.95 0 1,0 3.9,0a1.95,1.95 0 1,0 -3.9,0M304.42,76.58a1.95,1.95 0 1,0 3.9,0a1.95,1.95 0 1,0 -3.9,0M305.27,76.61a1.95,1.95 0 1,0 3.9,0a1.95,1.95 0 1,0 -3.9,0M306.11,76.63a1.95,1.95 0 1,0 3.9,0a1.95,1.95 0 1,0 -3.9,0M306.96,76.65a1.95,1.95 0 1,0 3.9,0a1.95,1.95 0 1,0 -3.9,0M307.8,76.68a1.95,1.95 0 1,0 3.9,0a1.95,1.95 0 1,0 -3.9,0M308.65,76.7a1.95,1.95 0 1,0 3.9,0a1.95,1.95 0 1,0 -3.9,0M309.49,76.72a1.95,1.95 0 1,0 3.9,0a1.95,1.95 0 1,0 -3.9,0M310.34,76.74a1.95,1.95 0 1,0 3.9,0a1.95,1.95 0 1,0 -3.9,0M311.18,76.77a1.95,1.95 0 1,0 3.9,0a1.95,1.95 0 1,0 -3.9,0M312.03,76.79a1.95,1.95 0 1,0 3.9,0a1.95,1.95 0 1,0 -3.9,0M312.87,76.81a1.95,1.95 0 1,0 3.9,0a1.95,1.95 0 1,0 -3.9,0M313.72,76.84a1.95,1.95 0 1,0 3.9,0a1.95,1.95 0 1,0 -3.9,0M314.56,76.86a1.95,1.95 0 1,0 3.9,0a1.95,1.95 0 1,0 -3.9,0M315.41,76.88a1.95,1.95 0 1,0 3.9,0a1.95,1.95 0 1,0 -3.9,0M316.25,76.91a1.95,1.95 0 1,0 3.9,0a1.95,1.95 0 1,0 -3.9,0M317.1,76.93a1.95,1.95 0 1,0 3.9,0a1.95,1.95 0 1,0 -3.9,0M317.94,76.95a1.95,1.95 0 1,0 3.9,0a1.95,1.95 0 1,0 -3.9,0M318.79,76.97a1.95,1.95 0 1,0 3.9,0a1.95,1.95 0 1,0 -3.9,0M319.63,77a1.95,1.95 0 1,0 3.9,0a1.95,1.95 0 1,0 -3.9,0M320.48,77.02a1.95,1.95 0 1,0 3.9,0a1.95,1.95 0 1,0 -3.9,0M321.32,77.04a1.95,1.95 0 1,0 3.9,0a1.95,1.95 0 1,0 -3.9,0M322.17,77.07a1.95,1.95 0 1,0 3.9,0a1.95,1.95 0 1,0 -3.9,0M323.01,77.09a1.95,1.95 0 1,0 3.9,0a1.95,1.95 0 1,0 -3.9,0M323.86,77.11a1.95,1.95 0 1,0 3.9,0a1.95,1.95 0 1,0 -3.9,0M324.7,77.14a1.95,1.95 0 1,0 3.9,0a1.95,1.95 0 1,0 -3.9,0M325.55,77.16a1.95,1.95 0 1,0 3.9,0a1.95,1.95 0 1,0 -3.9,0M326.39,77.18a1.95,1.95 0 1,0 3.9,0a1.95,1.95 0 1,0 -3.9,0M327.24,77.21a1.95,1.95 0 1,0 3.9,0a1.95,1.95 0 1,0 -3.9,0M328.08,77.23a1.95,1.95 0 1,0 3.9,0a1.95,1.95 0 1,0 -3.9,0M328.93,77.25a1.95,1.95 0 1,0 3.9,0a1.95,1.95 0 1,0 -3.9,0M329.77,77.27a1.95,1.95 0 1,0 3.9,0a1.95,1.95 0 1,0 -3.9,0M330.62,77.3a1.95,1.95 0 1,0 3.9,0a1.95,1.95 0 1,0 -3.9,0M331.46,77.32a1.95,1.95 0 1,0 3.9,0a1.95,1.95 0 1,0 -3.9,0M332.31,77.34a1.95,1.95 0 1,0 3.9,0a1.95,1.95 0 1,0 -3.9,0M333.15,77.37a1.95,1.95 0 1,0 3.9,0a1.95,1.95 0 1,0 -3.9,0M334,77.39a1.95,1.95 0 1,0 3.9,0a1.95,1.95 0 1,0 -3.9,0M334.84,77.41a1.95,1.95 0 1,0 3.9,0a1.95,1.95 0 1,0 -3.9,0M335.69,77.44a1.95,1.95 0 1,0 3.9,0a1.95,1.95 0 1,0 -3.9,0M336.53,77.46a1.95,1.95 0 1,0 3.9,0a1.95,1.95 0 1,0 -3.9,0M337.38,77.48a1.95,1.95 0 1,0 3.9,0a1.95,1.95 0 1,0 -3.9,0M338.22,77.5a1.95,1.95 0 1,0 3.9,0a1.95,1.95 0 1,0 -3.9,0M339.07,77.49a1.95,1.95 0 1,0 3.9,0a1.95,1.95 0 1,0 -3.9,0M339.91,77.49a1.95,1.95 0 1,0 3.9,0a1.95,1.95 0 1,0 -3.9,0M340.76,77.48a1.95,1.95 0 1,0 3.9,0a1.95,1.95 0 1,0 -3.9,0M341.6,77.48a1.95,1.95 0 1,0 3.9,0a1.95,1.95 0 1,0 -3.9,0M342.45,77.47a1.95,1.95 0 1,0 3.9,0a1.95,1.95 0 1,0 -3.9,0M343.29,77.47a1.95,1.95 0 1,0 3.9,0a1.95,1.95 0 1,0 -3.9,0M344.14,77.46a1.95,1.95 0 1,0 3.9,0a1.95,1.95 0 1,0 -3.9,0M344.98,77.45a1.95,1.95 0 1,0 3.9,0a1.95,1.95 0 1,0 -3.9,0M345.83,77.45a1.95,1.95 0 1,0 3.9,0a1.95,1.95 0 1,0 -3.9,0M346.67,77.44a1.95,1.95 0 1,0 3.9,0a1.95,1.95 0 1,0 -3.9,0M347.52,77.44a1.95,1.95 0 1,0 3.9,0a1.95,1.95 0 1,0 -3.9,0M348.36,77.43a1.95,1.95 0 1,0 3.9,0a1.95,1.95 0 1,0 -3.9,0M349.21,77.43a1.95,1.95 0 1,0 3.9,0a1.95,1.95 0 1,0 -3.9,0M350.05,77.42a1.95,1.95 0 1,0 3.9,0a1.95,1.95 0 1,0 -3.9,0M350.9,77.41a1.95,1.95 0 1,0 3.9,0a1.95,1.95 0 1,0 -3.9,0M351.74,77.41a1.95,1.95 0 1,0 3.9,0a1.95,1.95 0 1,0 -3.9,0M352.59,77.4a1.95,1.95 0 1,0 3.9,0a1.95,1.95 0 1,0 -3.9,0M353.43,77.4a1.95,1.95 0 1,0 3.9,0a1.95,1.95 0 1,0 -3.9,0M354.28,77.39a1.95,1.95 0 1,0 3.9,0a1.95,1.95 0 1,0 -3.9,0M355.12,77.39a1.95,1.95 0 1,0 3.9,0a1.95,1.95 0 1,0 -3.9,0M355.97,77.38a1.95,1.95 0 1,0 3.9,0a1.95,1.95 0 1,0 -3.9,0M356.81,77.37a1.95,1.95 0 1,0 3.9,0a1.95,1.95 0 1,0 -3.9,0M357.66,77.37a1.95,1.95 0 1,0 3.9,0a1.95,1.95 0 1,0 -3.9,0M358.5,77.36a1.95,1.95 0 1,0 3.9,0a1.95,1.95 0 1,0 -3.9,0M359.35,77.36a1.95,1.95 0 1,0 3.9,0a1.95,1.95 0 1,0 -3.9,0M360.19,77.35a1.95,1.95 0 1,0 3.9,0a1.95,1.95 0 1,0 -3.9,0M361.04,77.35a1.95,1.95 0 1,0 3.9,0a1.95,1.95 0 1,0 -3.9,0M361.88,77.34a1.95,1.95 0 1,0 3.9,0a1.95,1.95 0 1,0 -3.9,0M362.73,77.34a1.95,1.95 0 1,0 3.9,0a1.95,1.95 0 1,0 -3.9,0M363.57,77.33a1.95,1.95 0 1,0 3.9,0a1.95,1.95 0 1,0 -3.9,0M364.42,77.32a1.95,1.95 0 1,0 3.9,0a1.95,1.95 0 1,0 -3.9,0M365.26,77.32a1.95,1.95 0 1,0 3.9,0a1.95,1.95 0 1,0 -3.9,0M366.11,77.31a1.95,1.95 0 1,0 3.9,0a1.95,1.95 0 1,0 -3.9,0M366.95,77.31a1.95,1.95 0 1,0 3.9,0a1.95,1.95 0 1,0 -3.9,0M367.8,77.3a1.95,1.95 0 1,0 3.9,0a1.95,1.95 0 1,0 -3.9,0M368.64,77.33a1.95,1.95 0 1,0 3.9,0a1.95,1.95 0 1,0 -3.9,0M369.49,77.38a1.95,1.95 0 1,0 3.9,0a1.95,1.95 0 1,0 -3.9,0M370.33,77.43a1.95,1.95 0 1,0 3.9,0a1.95,1.95 0 1,0 -3.9,0M371.18,77.48a1.95,1.95 0 1,0 3.9,0a1.95,1.95 0 1,0 -3.9,0M372.02,77.53a1.95,1.95 0 1,0 3.9,0a1.95,1.95 0 1,0 -3.9,0M372.87,77.57a1.95,1.95 0 1,0 3.9,0a1.95,1.95 0 1,0 -3.9,0M373.71,77.62a1.95,1.95 0 1,0 3.9,0a1.95,1.95 0 1,0 -3.9,0M374.56,77.67a1.95,1.95 0 1,0 3.9,0a1.95,1.95 0 1,0 -3.9,0M375.4,77.72a1.95,1.95 0 1,0 3.9,0a1.95,1.95 0 1,0 -3.9,0M376.25,77.76a1.95,1.95 0 1,0 3.9,0a1.95,1.95 0 1,0 -3.9,0M377.09,77.81a1.95,1.95 0 1,0 3.9,0a1.95,1.95 0 1,0 -3.9,0M377.94,77.86a1.95,1.95 0 1,0 3.9,0a1.95,1.95 0 1,0 -3.9,0M378.78,77.91a1.95,1.95 0 1,0 3.9,0a1.95,1.95 0 1,0 -3.9,0M379.63,77.96a1.95,1.95 0 1,0 3.9,0a1.95,1.95 0 1,0 -3.9,0M380.47,78a1.95,1.95 0 1,0 3.9,0a1.95,1.95 0 1,0 -3.9,0M381.32,78.05a1.95,1.95 0 1,0 3.9,0a1.95,1.95 0 1,0 -3.9,0M382.16,78.1a1.95,1.95 0 1,0 3.9,0a1.95,1.95 0 1,0 -3.9,0M383.01,78.15a1.95,1.95 0 1,0 3.9,0a1.95,1.95 0 1,0 -3.9,0M383.85,78.2a1.95,1.95 0 1,0 3.9,0a1.95,1.95 0 1,0 -3.9,0M384.7,78.24a1.95,1.95 0 1,0 3.9,0a1.95,1.95 0 1,0 -3.9,0M385.54,78.29a1.95,1.95 0 1,0 3.9,0a1.95,1.95 0 1,0 -3.9,0M386.39,78.34a1.95,1.95 0 1,0 3.9,0a1.95,1.95 0 1,0 -3.9,0M387.23,78.39a1.95,1.95 0 1,0 3.9,0a1.95,1.95 0 1,0 -3.9,0M388.08,78.43a1.95,1.95 0 1,0 3.9,0a1.95,1.95 0 1,0 -3.9,0M388.92,78.48a1.95,1.95 0 1,0 3.9,0a1.95,1.95 0 1,0 -3.9,0M389.77,78.53a1.95,1.95 0 1,0 3.9,0a1.95,1.95 0 1,0 -3.9,0M390.61,78.58a1.95,1.95 0 1,0 3.9,0a1.95,1.95 0 1,0 -3.9,0M391.46,78.63a1.95,1.95 0 1,0 3.9,0a1.95,1.95 0 1,0 -3.9,0M392.3,78.67a1.95,1.95 0 1,0 3.9,0a1.95,1.95 0 1,0 -3.9,0M393.15,78.72a1.95,1.95 0 1,0 3.9,0a1.95,1.95 0 1,0 -3.9,0M393.99,78.77a1.95,1.95 0 1,0 3.9,0a1.95,1.95 0 1,0 -3.9,0M394.84,78.82a1.95,1.95 0 1,0 3.9,0a1.95,1.95 0 1,0 -3.9,0M395.68,78.87a1.95,1.95 0 1,0 3.9,0a1.95,1.95 0 1,0 -3.9,0M396.53,78.91a1.95,1.95 0 1,0 3.9,0a1.95,1.95 0 1,0 -3.9,0M397.37,78.96a1.95,1.95 0 1,0 3.9,0a1.95,1.95 0 1,0 -3.9,0M398.22,79.02a1.95,1.95 0 1,0 3.9,0a1.95,1.95 0 1,0 -3.9,0M399.06,79.14a1.95,1.95 0 1,0 3.9,0a1.95,1.95 0 1,0 -3.9,0M399.91,79.27a1.95,1.95 0 1,0 3.9,0a1.95,1.95 0 1,0 -3.9,0M400.75,79.39a1.95,1.95 0 1,0 3.9,0a1.95,1.95 0 1,0 -3.9,0M401.6,79.51a1.95,1.95 0 1,0 3.9,0a1.95,1.95 0 1,0 -3.9,0M402.44,79.63a1.95,1.95 0 1,0 3.9,0a1.95,1.95 0 1,0 -3.9,0M403.29,79.75a1.95,1.95 0 1,0 3.9,0a1.95,1.95 0 1,0 -3.9,0M404.13,79.87a1.95,1.95 0 1,0 3.9,0a1.95,1.95 0 1,0 -3.9,0M404.98,79.99a1.95,1.95 0 1,0 3.9,0a1.95,1.95 0 1,0 -3.9,0M405.82,80.11a1.95,1.95 0 1,0 3.9,0a1.95,1.95 0 1,0 -3.9,0M406.67,80.23a1.95,1.95 0 1,0 3.9,0a1.95,1.95 0 1,0 -3.9,0M407.51,80.35a1.95,1.95 0 1,0 3.9,0a1.95,1.95 0 1,0 -3.9,0M408.36,80.47a1.95,1.95 0 1,0 3.9,0a1.95,1.95 0 1,0 -3.9,0M409.2,80.59a1.95,1.95 0 1,0 3.9,0a1.95,1.95 0 1,0 -3.9,0M410.05,80.71a1.95,1.95 0 1,0 3.9,0a1.95,1.95 0 1,0 -3.9,0M410.89,80.83a1.95,1.95 0 1,0 3.9,0a1.95,1.95 0 1,0 -3.9,0M411.74,80.96a1.95,1.95 0 1,0 3.9,0a1.95,1.95 0 1,0 -3.9,0M412.58,81.08a1.95,1.95 0 1,0 3.9,0a1.95,1.95 0 1,0 -3.9,0M413.43,81.2a1.95,1.95 0 1,0 3.9,0a1.95,1.95 0 1,0 -3.9,0M414.27,81.32a1.95,1.95 0 1,0 3.9,0a1.95,1.95 0 1,0 -3.9,0M415.12,81.44a1.95,1.95 0 1,0 3.9,0a1.95,1.95 0 1,0 -3.9,0M415.96,81.56a1.95,1.95 0 1,0 3.9,0a1.95,1.95 0 1,0 -3.9,0M416.81,81.68a1.95,1.95 0 1,0 3.9,0a1.95,1.95 0 1,0 -3.9,0M417.65,81.8a1.95,1.95 0 1,0 3.9,0a1.95,1.95 0 1,0 -3.9,0" fill="#F7875A" stroke="none" stroke-width="0"/>
<polyline points="39.35,112.58 40.19,36.35 41.04,33.44 41.89,31.7 42.74,29.19 43.58,27.04 44.43,31.1 45.28,27.52 46.12,29.85 46.97,29.86 47.82,25.83 48.67,29.08 49.51,29.45 50.36,28.01 51.21,27.27 52.05,29.43 52.9,28.28 53.75,31.18 54.6,30.05 55.44,30.19 56.29,31.85 57.14,32.18 57.98,32.4 58.83,29.81 59.68,29.69 60.52,29.97 61.37,29.24 62.22,31.86 63.07,29.52 63.91,28.93 64.76,27.97 65.61,30.95 66.45,30.12 67.3,33.12 68.15,30.31 69,33.46 69.84,32.01 70.69,27.32 71.54,33.47 72.38,27.88 73.23,28.76 74.08,29.95 74.93,28.52 75.77,28.39 76.62,27.42 77.47,29.8 78.31,30.47 79.16,30.5 80.01,31.21 80.86,29.45 81.7,30.83 82.55,27.38 83.4,32.85 84.24,31.41 85.09,31.15 85.94,33.27 86.79,25.83 87.63,33.85 88.48,29.9 89.33,30.35 90.17,26.29 91.02,33.07 91.87,27.37 92.72,30.73 93.56,29.66 94.41,30.62 95.26,28.18 96.1,31.49 96.95,29.52 97.8,28.71 98.64,25.94 99.49,33.85 100.34,26.53 101.19,27.61 102.03,30.27 102.88,28.8 103.73,30.24 104.57,26.3 105.42,28.98 106.27,29.77 107.12,29.8 107.96,29.74 108.81,29.7 109.66,31.01 110.5,25.54 111.35,32.93 112.2,36.08 113.05,29.6 113.89,45.66 114.74,28.68 115.59,29.75 116.43,29.65 117.28,28.75 118.13,27.57 118.98,30.2 119.82,30.06 120.67,25.76 121.52,28.38 122.36,31.21 123.21,25.04 124.06,27.93 124.91,30.47 125.75,31.56 126.6,28.82 127.45,30.92 128.29,31.34 129.14,31.78 129.99,30.31 130.84,27.31 131.68,30.18 132.53,32.07 133.38,28.13 134.22,29.25 135.07,27.8 135.92,16.69 136.76,29.68 137.61,29.64 138.46,29.46 139.31,31.48 140.15,28.12 141,26.82 141.85,29.05 142.69,29.81 143.54,29.85 144.39,30.82 145.24,30.87 146.08,30.12 146.93,30.94 147.78,30.18 148.62,32.31 149.47,28.72 150.32,29.28 151.17,31.52 152.01,33.65 152.86,29.39 153.71,27.32 154.55,30.74 155.4,30.27 156.25,30.43 157.1,28.15 157.94,31.08 158.79,27.54 159.64,29.93 160.48,27.65 161.33,29.31 162.18,29.8 163.03,32.12 163.87,30.65 164.72,29.86 165.57,28.14 166.41,28.91 167.26,30.67 168.11,28.61 168.96,27.53 169.8,29.65 170.65,30.19 171.5,30.1 172.34,27.86 173.19,28.37 174.04,31.1 174.88,28.67 175.73,30.26 176.58,30.77 177.43,27.06 178.27,27.84 179.12,30.72 179.97,29.22 180.81,28.44 181.66,30.56 182.51,29.59 183.36,28.13 184.2,32.7 185.05,28.76 185.9,27.99 186.74,28.43 187.59,31.87 188.44,28.78 189.29,30.98 190.13,28.31 190.98,28.24 191.83,28.97 192.67,30.8 193.52,30.47 194.37,27.78 195.22,31.04 196.06,28.45 196.91,28.42 197.76,29.89 198.6,24.91 199.45,29.24 200.3,25.37 201.15,33.12 201.99,33.55 202.84,27.54 203.69,28.19 204.53,29.95 205.38,29.47 206.23,32.91 207.08,30.54 207.92,31.3 208.77,29.78 209.62,27.72 210.46,29.27 211.31,28.68 212.16,30.67 213,30.18 213.85,29.16 214.7,29.9 215.55,27.02 216.39,31 217.24,25.85 218.09,31.2 218.93,27.4 219.78,30.81 220.63,26.3 221.48,29.12 222.32,28.63 223.17,27.98 224.02,30.55 224.86,31.31 225.71,33.14 226.56,27.1 227.41,30.67 228.25,30.47 229.1,29.43 229.95,25.67 230.79,32.59 231.64,28.91 232.49,30.11 233.34,28.38 234.18,32.72 235.03,30.11 235.88,27.81 236.72,26.47 237.57,26.4 238.42,30.96 239.27,29.27 240.11,29.58 240.96,31.93 241.81,32.05 242.65,27.96 243.5,28.91 244.35,29.64 245.2,27.11 246.04,31.24 246.89,28.39 247.74,29.35 248.58,29.48 249.43,28.46 250.28,29.04 251.12,28.87 251.97,28.88 252.82,25.76 253.67,29.95 254.51,27.49 255.36,28.24 256.21,30.02 257.05,27.89 257.9,30.97 258.75,27.21 259.6,30.88 260.44,30.28 261.29,28.77 262.14,27.82 262.98,27.68 263.83,27.71 264.68,29.76 265.53,31.15 266.37,28.35 267.22,28.81 268.07,31.14 268.91,27.56 269.76,29 270.61,31.15 271.46,28.55 272.3,31.84 273.15,31 274,28.62 274.84,32.27 275.69,29.3 276.54,31.89 277.39,28 278.23,30.72 279.08,29.03 279.93,32.17 280.77,30.01 281.62,27.61 282.47,28.52 283.32,32.79 284.16,27.65 285.01,27.71 285.86,30.07 286.7,26.73 287.55,31.34 288.4,29.53 289.24,27.3 290.09,26.93 290.94,26.99 291.79,31.41 292.63,32.69 293.48,28.64 294.33,32.04 295.17,29.62 296.02,31.76 296.87,27.39 297.72,27.87 298.56,28.33 299.41,29.34 300.26,29.29 301.1,29.92 301.95,28.66 302.8,28.91 303.65,28.52 304.49,30.17 305.34,25.84 306.19,28.85 307.03,26.77 307.88,26.89 308.73,31.01 309.58,32.51 310.42,27.03 311.27,30.09 312.12,29.22 312.96,29.85 313.81,29.13 314.66,31.59 315.51,29.56 316.35,30.23 317.2,29.4 318.05,33.72 318.89,27.84 319.74,28.75 320.59,32.59 321.44,30.74 322.28,29.31 323.13,28.2 323.98,29.37 324.82,26.79 325.67,29.33 326.52,31.23 327.36,30.63 328.21,27.99 329.06,30.51 329.91,27.8 330.75,27.47 331.6,28.27 332.45,21.22 333.29,36.82 334.14,29.39 334.99,30.47 335.84,30.51 336.68,32.28 337.53,30.4 338.38,31.37 339.22,32.03 340.07,29.1 340.92,28.52 341.77,30.01 342.61,26.82 343.46,27.62 344.31,27.42 345.15,30.49 346,32.15 346.85,28.33 347.7,28.8 348.54,28.02 349.39,28.59 350.24,27.02 351.08,29.91 351.93,28.13 352.78,31.04 353.63,33.67 354.47,30.2 355.32,26.58 356.17,32.49 357.01,27.48 357.86,30.64 358.71,30.12 359.56,29.29 360.4,28.98 361.25,31.18 362.1,29.14 362.94,28.54 363.79,27.82 364.64,30.78 365.48,26.48 366.33,25.82 367.18,24.87 368.03,31.87 368.87,29.05 369.72,32.83 370.57,28.67 371.41,28.34 372.26,31.51 373.11,32.32 373.96,29.02 374.8,28.2 375.65,30.85 376.5,29.86 377.34,34.07 378.19,30.69 379.04,29.1 379.89,29.09 380.73,26.42 381.58,31.5 382.43,33.56 383.27,28.53 384.12,30.47 384.97,28.84 385.82,28.03 386.66,28.25 387.51,26.69 388.36,26.85 389.2,32.47 390.05,29.49 390.9,25.65 391.75,30.13 392.59,27.57 393.44,29.47 394.29,30.15 395.13,26.42 395.98,27.43 396.83,29.82 397.68,27.68 398.52,31.82 399.37,30.72 400.22,27.69 401.06,29.3 401.91,31.35 402.76,28.53 403.6,28.76 404.45,26.98 405.3,27.59 406.15,29.88 406.99,30.27 407.84,29.63 408.69,29.8 409.53,26.65 410.38,26.41 411.23,26.84 412.08,28.66 412.92,29.83 413.77,27.69 414.62,30.02 415.46,28.93 416.31,32.47 417.16,30.16 418.01,26.69 418.85,31.28 419.7,32.15" fill="none" stroke="#F7875A" stroke-width="0.6" stroke-linejoin="round" stroke-linecap="round" />
<path d="M37.9,112.58a1.45,1.45 0 1,0 2.9,0a1.45,1.45 0 1,0 -2.9,0M38.74,36.35a1.45,1.45 0 1,0 2.9,0a1.45,1.45 0 1,0 -2.9,0M39.59,33.44a1.45,1.45 0 1,0 2.9,0a1.45,1.45 0 1,0 -2.9,0M40.44,31.7a1.45,1.45 0 1,0 2.9,0a1.45,1.45 0 1,0 -2.9,0M41.29,29.19a1.45,1.45 0 1,0 2.9,0a1.45,1.45 0 1,0 -2.9,0M42.13,27.04a1.45,1.45 0 1,0 2.9,0a1.45,1.45 0 1,0 -2.9,0M42.98,31.1a1.45,1.45 0 1,0 2.9,0a1.45,1.45 0 1,0 -2.9,0M43.83,27.52a1.45,1.45 0 1,0 2.9,0a1.45,1.45 0 1,0 -2.9,0M44.67,29.85a1.45,1.45 0 1,0 2.9,0a1.45,1.45 0 1,0 -2.9,0M45.52,29.86a1.45,1.45 0 1,0 2.9,0a1.45,1.45 0 1,0 -2.9,0M46.37,25.83a1.45,1.45 0 1,0 2.9,0a1.45,1.45 0 1,0 -2.9,0M47.22,29.08a1.45,1.45 0 1,0 2.9,0a1.45,1.45 0 1,0 -2.9,0M48.06,29.45a1.45,1.45 0 1,0 2.9,0a1.45,1.45 0 1,0 -2.9,0M48.91,28.01a1.45,1.45 0 1,0 2.9,0a1.45,1.45 0 1,0 -2.9,0M49.76,27.27a1.45,1.45 0 1,0 2.9,0a1.45,1.45 0 1,0 -2.9,0M50.6,29.43a1.45,1.45 0 1,0 2.9,0a1.45,1.45 0 1,0 -2.9,0M51.45,28.28a1.45,1.45 0 1,0 2.9,0a1.45,1.45 0 1,0 -2.9,0M52.3,31.18a1.45,1.45 0 1,0 2.9,0a1.45,1.45 0 1,0 -2.9,0M53.15,30.05a1.45,1.45 0 1,0 2.9,0a1.45,1.45 0 1,0 -2.9,0M53.99,30.19a1.45,1.45 0 1,0 2.9,0a1.45,1.45 0 1,0 -2.9,0M54.84,31.85a1.45,1.45 0 1,0 2.9,0a1.45,1.45 0 1,0 -2.9,0M55.69,32.18a1.45,1.45 0 1,0 2.9,0a1.45,1.45 0 1,0 -2.9,0M56.53,32.4a1.45,1.45 0 1,0 2.9,0a1.45,1.45 0 1,0 -2.9,0M57.38,29.81a1.45,1.45 0 1,0 2.9,0a1.45,1.45 0 1,0 -2.9,0M58.23,29.69a1.45,1.45 0 1,0 2.9,0a1.45,1.45 0 1,0 -2.9,0M59.07,29.97a1.45,1.45 0 1,0 2.9,0a1.45,1.45 0 1,0 -2.9,0M59.92,29.24a1.45,1.45 0 1,0 2.9,0a1.45,1.45 0 1,0 -2.9,0M60.77,31.86a1.45,1.45 0 1,0 2.9,0a1.45,1.45 0 1,0 -2.9,0M61.62,29.52a1.45,1.45 0 1,0 2.9,0a1.45,1.45 0 1,0 -2.9,0M62.46,28.93a1.45,1.45 0 1,0 2.9,0a1.45,1.45 0 1,0 -2.9,0M63.31,27.97a1.45,1.45 0 1,0 2.9,0a1.45,1.45 0 1,0 -2.9,0M64.16,30.95a1.45,1.45 0 1,0 2.9,0a1.45,1.45 0 1,0 -2.9,0M65,30.12a1.45,1.45 0 1,0 2.9,0a1.45,1.45 0 1,0 -2.9,0M65.85,33.12a1.45,1.45 0 1,0 2.9,0a1.45,1.45 0 1,0 -2.9,0M66.7,30.31a1.45,1.45 0 1,0 2.9,0a1.45,1.45 0 1,0 -2.9,0M67.55,33.46a1.45,1.45 0 1,0 2.9,0a1.45,1.45 0 1,0 -2.9,0M68.39,32.01a1.45,1.45 0 1,0 2.9,0a1.45,1.45 0 1,0 -2.9,0M69.24,27.32a1.45,1.45 0 1,0 2.9,0a1.45,1.45 0 1,0 -2.9,0M70.09,33.47a1.45,1.45 0 1,0 2.9,0a1.45,1.45 0 1,0 -2.9,0M70.93,27.88a1.45,1.45 0 1,0 2.9,0a1.45,1.45 0 1,0 -2.9,0M71.78,28.76a1.45,1.45 0 1,0 2.9,0a1.45,1.45 0 1,0 -2.9,0M72.63,29.95a1.45,1.45 0 1,0 2.9,0a1.45,1.45 0 1,0 -2.9,0M73.48,28.52a1.45,1.45 0 1,0 2.9,0a1.45,1.45 0 1,0 -2.9,0M74.32,28.39a1.45,1.45 0 1,0 2.9,0a1.45,1.45 0 1,0 -2.9,0M75.17,27.42a1.45,1.45 0 1,0 2.9,0a1.45,1.45 0 1,0 -2.9,0M76.02,29.8a1.45,1.45 0 1,0 2.9,0a1.45,1.45 0 1,0 -2.9,0M76.86,30.47a1.45,1.45 0 1,0 2.9,0a1.45,1.45 0 1,0 -2.9,0M77.71,30.5a1.45,1.45 0 1,0 2.9,0a1.45,1.45 0 1,0 -2.9,0M78.56,31.21a1.45,1.45 0 1,0 2.9,0a1.45,1.45 0 1,0 -2.9,0M79.41,29.45a1.45,1.45 0 1,0 2.9,0a1.45,1.45 0 1,0 -2.9,0M80.25,30.83a1.45,1.45 0 1,0 2.9,0a1.45,1.45 0 1,0 -2.9,0M81.1,27.38a1.45,1.45 0 1,0 2.9,0a1.45,1.45 0 1,0 -2.9,0M81.95,32.85a1.45,1.45 0 1,0 2.9,0a1.45,1.45 0 1,0 -2.9,0M82.79,31.41a1.45,1.45 0 1,0 2.9,0a1.45,1.45 0 1,0 -2.9,0M83.64,31.15a1.45,1.45 0 1,0 2.9,0a1.45,1.45 0 1,0 -2.9,0M84.49,33.27a1.45,1.45 0 1,0 2.9,0a1.45,1.45 0 1,0 -2.9,0M85.34,25.83a1.45,1.45 0 1,0 2.9,0a1.45,1.45 0 1,0 -2.9,0M86.18,33.85a1.45,1.45 0 1,0 2.9,0a1.45,1.45 0 1,0 -2.9,0M87.03,29.9a1.45,1.45 0 1,0 2.9,0a1.45,1.45 0 1,0 -2.9,0M87.88,30.35a1.45,1.45 0 1,0 2.9,0a1.45,1.45 0 1,0 -2.9,0M88.72,26.29a1.45,1.45 0 1,0 2.9,0a1.45,1.45 0 1,0 -2.9,0M89.57,33.07a1.45,1.45 0 1,0 2.9,0a1.45,1.45 0 1,0 -2.9,0M90.42,27.37a1.45,1.45 0 1,0 2.9,0a1.45,1.45 0 1,0 -2.9,0M91.27,30.73a1.45,1.45 0 1,0 2.9,0a1.45,1.45 0 1,0 -2.9,0M92.11,29.66a1.45,1.45 0 1,0 2.9,0a1.45,1.45 0 1,0 -2.9,0M92.96,30.62a1.45,1.45 0 1,0 2.9,0a1.45,1.45 0 1,0 -2.9,0M93.81,28.18a1.45,1.45 0 1,0 2.9,0a1.45,1.45 0 1,0 -2.9,0M94.65,31.49a1.45,1.45 0 1,0 2.9,0a1.45,1.45 0 1,0 -2.9,0M95.5,29.52a1.45,1.45 0 1,0 2.9,0a1.45,1.45 0 1,0 -2.9,0M96.35,28.71a1.45,1.45 0 1,0 2.9,0a1.45,1.45 0 1,0 -2.9,0M97.19,25.94a1.45,1.45 0 1,0 2.9,0a1.45,1.45 0 1,0 -2.9,0M98.04,33.85a1.45,1.45 0 1,0 2.9,0a1.45,1.45 0 1,0 -2.9,0M98.89,26.53a1.45,1.45 0 1,0 2.9,0a1.45,1.45 0 1,0 -2.9,0M99.74,27.61a1.45,1.45 0 1,0 2.9,0a1.45,1.45 0 1,0 -2.9,0M100.58,30.27a1.45,1.45 0 1,0 2.9,0a1.45,1.45 0 1,0 -2.9,0M101.43,28.8a1.45,1.45 0 1,0 2.9,0a1.45,1.45 0 1,0 -2.9,0M102.28,30.24a1.45,1.45 0 1,0 2.9,0a1.45,1.45 0 1,0 -2.9,0M103.12,26.3a1.45,1.45 0 1,0 2.9,0a1.45,1.45 0 1,0 -2.9,0M103.97,28.98a1.45,1.45 0 1,0 2.9,0a1.45,1.45 0 1,0 -2.9,0M104.82,29.77a1.45,1.45 0 1,0 2.9,0a1.45,1.45 0 1,0 -2.9,0M105.67,29.8a1.45,1.45 0 1,0 2.9,0a1.45,1.45 0 1,0 -2.9,0M106.51,29.74a1.45,1.45 0 1,0 2.9,0a1.45,1.45 0 1,0 -2.9,0M107.36,29.7a1.45,1.45 0 1,0 2.9,0a1.45,1.45 0 1,0 -2.9,0M108.21,31.01a1.45,1.45 0 1,0 2.9,0a1.45,1.45 0 1,0 -2.9,0M109.05,25.54a1.45,1.45 0 1,0 2.9,0a1.45,1.45 0 1,0 -2.9,0M109.9,32.93a1.45,1.45 0 1,0 2.9,0a1.45,1.45 0 1,0 -2.9,0M110.75,36.08a1.45,1.45 0 1,0 2.9,0a1.45,1.45 0 1,0 -2.9,0M111.6,29.6a1.45,1.45 0 1,0 2.9,0a1.45,1.45 0 1,0 -2.9,0M112.44,45.66a1.45,1.45 0 1,0 2.9,0a1.45,1.45 0 1,0 -2.9,0M113.29,28.68a1.45,1.45 0 1,0 2.9,0a1.45,1.45 0 1,0 -2.9,0M114.14,29.75a1.45,1.45 0 1,0 2.9,0a1.45,1.45 0 1,0 -2.9,0M114.98,29.65a1.45,1.45 0 1,0 2.9,0a1.45,1.45 0 1,0 -2.9,0M115.83,28.75a1.45,1.45 0 1,0 2.9,0a1.45,1.45 0 1,0 -2.9,0M116.68,27.57a1.45,1.45 0 1,0 2.9,0a1.45,1.45 0 1,0 -2.9,0M117.53,30.2a1.45,1.45 0 1,0 2.9,0a1.45,1.45 0 1,0 -2.9,0M118.37,30.06a1.45,1.45 0 1,0 2.9,0a1.45,1.45 0 1,0 -2.9,0M119.22,25.76a1.45,1.45 0 1,0 2.9,0a1.45,1.45 0 1,0 -2.9,0M120.07,28.38a1.45,1.45 0 1,0 2.9,0a1.45,1.45 0 1,0 -2.9,0M120.91,31.21a1.45,1.45 0 1,0 2.9,0a1.45,1.45 0 1,0 -2.9,0M121.76,25.04a1.45,1.45 0 1,0 2.9,0a1.45,1.45 0 1,0 -2.9,0M122.61,27.93a1.45,1.45 0 1,0 2.9,0a1.45,1.45 0 1,0 -2.9,0M123.46,30.47a1.45,1.45 0 1,0 2.9,0a1.45,1.45 0 1,0 -2.9,0M124.3,31.56a1.45,1.45 0 1,0 2.9,0a1.45,1.45 0 1,0 -2.9,0M125.15,28.82a1.45,1.45 0 1,0 2.9,0a1.45,1.45 0 1,0 -2.9,0M126,30.92a1.45,1.45 0 1,0 2.9,0a1.45,1.45 0 1,0 -2.9,0M126.84,31.34a1.45,1.45 0 1,0 2.9,0a1.45,1.45 0 1,0 -2.9,0M127.69,31.78a1.45,1.45 0 1,0 2.9,0a1.45,1.45 0 1,0 -2.9,0M128.54,30.31a1.45,1.45 0 1,0 2.9,0a1.45,1.45 0 1,0 -2.9,0M129.39,27.31a1.45,1.45 0 1,0 2.9,0a1.45,1.45 0 1,0 -2.9,0M130.23,30.18a1.45,1.45 0 1,0 2.9,0a1.45,1.45 0 1,0 -2.9,0M131.08,32.07a1.45,1.45 0 1,0 2.9,0a1.45,1.45 0 1,0 -2.9,0M131.93,28.13a1.45,1.45 0 1,0 2.9,0a1.45,1.45 0 1,0 -2.9,0M132.77,29.25a1.45,1.45 0 1,0 2.9,0a1.45,1.45 0 1,0 -2.9,0M133.62,27.8a1.45,1.45 0 1,0 2.9,0a1.45,1.45 0 1,0 -2.9,0M134.47,16.69a1.45,1.45 0 1,0 2.9,0a1.45,1.45 0 1,0 -2.9,0M135.31,29.68a1.45,1.45 0 1,0 2.9,0a1.45,1.45 0 1,0 -2.9,0M136.16,29.64a1.45,1.45 0 1,0 2.9,0a1.45,1.45 0 1,0 -2.9,0M137.01,29.46a1.45,1.45 0 1,0 2.9,0a1.45,1.45 0 1,0 -2.9,0M137.86,31.48a1.45,1.45 0 1,0 2.9,0a1.45,1.45 0 1,0 -2.9,0M138.7,28.12a1.45,1.45 0 1,0 2.9,0a1.45,1.45 0 1,0 -2.9,0M139.55,26.82a1.45,1.45 0 1,0 2.9,0a1.45,1.45 0 1,0 -2.9,0M140.4,29.05a1.45,1.45 0 1,0 2.9,0a1.45,1.45 0 1,0 -2.9,0M141.24,29.81a1.45,1.45 0 1,0 2.9,0a1.45,1.45 0 1,0 -2.9,0M142.09,29.85a1.45,1.45 0 1,0 2.9,0a1.45,1.45 0 1,0 -2.9,0M142.94,30.82a1.45,1.45 0 1,0 2.9,0a1.45,1.45 0 1,0 -2.9,0M143.79,30.87a1.45,1.45 0 1,0 2.9,0a1.45,1.45 0 1,0 -2.9,0M144.63,30.12a1.45,1.45 0 1,0 2.9,0a1.45,1.45 0 1,0 -2.9,0M145.48,30.94a1.45,1.45 0 1,0 2.9,0a1.45,1.45 0 1,0 -2.9,0M146.33,30.18a1.45,1.45 0 1,0 2.9,0a1.45,1.45 0 1,0 -2.9,0M147.17,32.31a1.45,1.45 0 1,0 2.9,0a1.45,1.45 0 1,0 -2.9,0M148.02,28.72a1.45,1.45 0 1,0 2.9,0a1.45,1.45 0 1,0 -2.9,0M148.87,29.28a1.45,1.45 0 1,0 2.9,0a1.45,1.45 0 1,0 -2.9,0M149.72,31.52a1.45,1.45 0 1,0 2.9,0a1.45,1.45 0 1,0 -2.9,0M150.56,33.65a1.45,1.45 0 1,0 2.9,0a1.45,1.45 0 1,0 -2.9,0M151.41,29.39a1.45,1.45 0 1,0 2.9,0a1.45,1.45 0 1,0 -2.9,0M152.26,27.32a1.45,1.45 0 1,0 2.9,0a1.45,1.45 0 1,0 -2.9,0M153.1,30.74a1.45,1.45 0 1,0 2.9,0a1.45,1.45 0 1,0 -2.9,0M153.95,30.27a1.45,1.45 0 1,0 2.9,0a1.45,1.45 0 1,0 -2.9,0M154.8,30.43a1.45,1.45 0 1,0 2.9,0a1.45,1.45 0 1,0 -2.9,0M155.65,28.15a1.45,1.45 0 1,0 2.9,0a1.45,1.45 0 1,0 -2.9,0M156.49,31.08a1.45,1.45 0 1,0 2.9,0a1.45,1.45 0 1,0 -2.9,0M157.34,27.54a1.45,1.45 0 1,0 2.9,0a1.45,1.45 0 1,0 -2.9,0M158.19,29.93a1.45,1.45 0 1,0 2.9,0a1.45,1.45 0 1,0 -2.9,0M159.03,27.65a1.45,1.45 0 1,0 2.9,0a1.45,1.45 0 1,0 -2.9,0M159.88,29.31a1.45,1.45 0 1,0 2.9,0a1.45,1.45 0 1,0 -2.9,0M160.73,29.8a1.45,1.45 0 1,0 2.9,0a1.45,1.45 0 1,0 -2.9,0M161.58,32.12a1.45,1.45 0 1,0 2.9,0a1.45,1.45 0 1,0 -2.9,0M162.42,30.65a1.45,1.45 0 1,0 2.9,0a1.45,1.45 0 1,0 -2.9,0M163.27,29.86a1.45,1.45 0 1,0 2.9,0a1.45,1.45 0 1,0 -2.9,0M164.12,28.14a1.45,1.45 0 1,0 2.9,0a1.45,1.45 0 1,0 -2.9,0M164.96,28.91a1.45,1.45 0 1,0 2.9,0a1.45,1.45 0 1,0 -2.9,0M165.81,30.67a1.45,1.45 0 1,0 2.9,0a1.45,1.45 0 1,0 -2.9,0M166.66,28.61a1.45,1.45 0 1,0 2.9,0a1.45,1.45 0 1,0 -2.9,0M167.51,27.53a1.45,1.45 0 1,0 2.9,0a1.45,1.45 0 1,0 -2.9,0M168.35,29.65a1.45,1.45 0 1,0 2.9,0a1.45,1.45 0 1,0 -2.9,0M169.2,30.19a1.45,1.45 0 1,0 2.9,0a1.45,1.45 0 1,0 -2.9,0M170.05,30.1a1.45,1.45 0 1,0 2.9,0a1.45,1.45 0 1,0 -2.9,0M170.89,27.86a1.45,1.45 0 1,0 2.9,0a1.45,1.45 0 1,0 -2.9,0M171.74,28.37a1.45,1.45 0 1,0 2.9,0a1.45,1.45 0 1,0 -2.9,0M172.59,31.1a1.45,1.45 0 1,0 2.9,0a1.45,1.45 0 1,0 -2.9,0M173.43,28.67a1.45,1.45 0 1,0 2.9,0a1.45,1.45 0 1,0 -2.9,0M174.28,30.26a1.45,1.45 0 1,0 2.9,0a1.45,1.45 0 1,0 -2.9,0M175.13,30.77a1.45,1.45 0 1,0 2.9,0a1.45,1.45 0 1,0 -2.9,0M175.98,27.06a1.45,1.45 0 1,0 2.9,0a1.45,1.45 0 1,0 -2.9,0M176.82,27.84a1.45,1.45 0 1,0 2.9,0a1.45,1.45 0 1,0 -2.9,0M177.67,30.72a1.45,1.45 0 1,0 2.9,0a1.45,1.45 0 1,0 -2.9,0M178.52,29.22a1.45,1.45 0 1,0 2.9,0a1.45,1.45 0 1,0 -2.9,0M179.36,28.44a1.45,1.45 0 1,0 2.9,0a1.45,1.45 0 1,0 -2.9,0M180.21,30.56a1.45,1.45 0 1,0 2.9,0a1.45,1.45 0 1,0 -2.9,0M181.06,29.59a1.45,1.45 0 1,0 2.9,0a1.45,1.45 0 1,0 -2.9,0M181.91,28.13a1.45,1.45 0 1,0 2.9,0a1.45,1.45 0 1,0 -2.9,0M182.75,32.7a1.45,1.45 0 1,0 2.9,0a1.45,1.45 0 1,0 -2.9,0M183.6,28.76a1.45,1.45 0 1,0 2.9,0a1.45,1.45 0 1,0 -2.9,0M184.45,27.99a1.45,1.45 0 1,0 2.9,0a1.45,1.45 0 1,0 -2.9,0M185.29,28.43a1.45,1.45 0 1,0 2.9,0a1.45,1.45 0 1,0 -2.9,0M186.14,31.87a1.45,1.45 0 1,0 2.9,0a1.45,1.45 0 1,0 -2.9,0M186.99,28.78a1.45,1.45 0 1,0 2.9,0a1.45,1.45 0 1,0 -2.9,0M187.84,30.98a1.45,1.45 0 1,0 2.9,0a1.45,1.45 0 1,0 -2.9,0M188.68,28.31a1.45,1.45 0 1,0 2.9,0a1.45,1.45 0 1,0 -2.9,0M189.53,28.24a1.45,1.45 0 1,0 2.9,0a1.45,1.45 0 1,0 -2.9,0M190.38,28.97a1.45,1.45 0 1,0 2.9,0a1.45,1.45 0 1,0 -2.9,0M191.22,30.8a1.45,1.45 0 1,0 2.9,0a1.45,1.45 0 1,0 -2.9,0M192.07,30.47a1.45,1.45 0 1,0 2.9,0a1.45,1.45 0 1,0 -2.9,0M192.92,27.78a1.45,1.45 0 1,0 2.9,0a1.45,1.45 0 1,0 -2.9,0M193.77,31.04a1.45,1.45 0 1,0 2.9,0a1.45,1.45 0 1,0 -2.9,0M194.61,28.45a1.45,1.45 0 1,0 2.9,0a1.45,1.45 0 1,0 -2.9,0M195.46,28.42a1.45,1.45 0 1,0 2.9,0a1.45,1.45 0 1,0 -2.9,0M196.31,29.89a1.45,1.45 0 1,0 2.9,0a1.45,1.45 0 1,0 -2.9,0M197.15,24.91a1.45,1.45 0 1,0 2.9,0a1.45,1.45 0 1,0 -2.9,0M198,29.24a1.45,1.45 0 1,0 2.9,0a1.45,1.45 0 1,0 -2.9,0M198.85,25.37a1.45,1.45 0 1,0 2.9,0a1.45,1.45 0 1,0 -2.9,0M199.7,33.12a1.45,1.45 0 1,0 2.9,0a1.45,1.45 0 1,0 -2.9,0M200.54,33.55a1.45,1.45 0 1,0 2.9,0a1.45,1.45 0 1,0 -2.9,0M201.39,27.54a1.45,1.45 0 1,0 2.9,0a1.45,1.45 0 1,0 -2.9,0M202.24,28.19a1.45,1.45 0 1,0 2.9,0a1.45,1.45 0 1,0 -2.9,0M203.08,29.95a1.45,1.45 0 1,0 2.9,0a1.45,1.45 0 1,0 -2.9,0M203.93,29.47a1.45,1.45 0 1,0 2.9,0a1.45,1.45 0 1,0 -2.9,0M204.78,32.91a1.45,1.45 0 1,0 2.9,0a1.45,1.45 0 1,0 -2.9,0M205.63,30.54a1.45,1.45 0 1,0 2.9,0a1.45,1.45 0 1,0 -2.9,0M206.47,31.3a1.45,1.45 0 1,0 2.9,0a1.45,1.45 0 1,0 -2.9,0M207.32,29.78a1.45,1.45 0 1,0 2.9,0a1.45,1.45 0 1,0 -2.9,0M208.17,27.72a1.45,1.45 0 1,0 2.9,0a1.45,1.45 0 1,0 -2.9,0M209.01,29.27a1.45,1.45 0 1,0 2.9,0a1.45,1.45 0 1,0 -2.9,0M209.86,28.68a1.45,1.45 0 1,0 2.9,0a1.45,1.45 0 1,0 -2.9,0M210.71,30.67a1.45,1.45 0 1,0 2.9,0a1.45,1.45 0 1,0 -2.9,0M211.55,30.18a1.45,1.45 0 1,0 2.9,0a1.45,1.45 0 1,0 -2.9,0M212.4,29.16a1.45,1.45 0 1,0 2.9,0a1.45,1.45 0 1,0 -2.9,0M213.25,29.9a1.45,1.45 0 1,0 2.9,0a1.45,1.45 0 1,0 -2.9,0M214.1,27.02a1.45,1.45 0 1,0 2.9,0a1.45,1.45 0 1,0 -2.9,0M214.94,31a1.45,1.45 0 1,0 2.9,0a1.45,1.45 0 1,0 -2.9,0M215.79,25.85a1.45,1.45 0 1,0 2.9,0a1.45,1.45 0 1,0 -2.9,0M216.64,31.2a1.45,1.45 0 1,0 2.9,0a1.45,1.45 0 1,0 -2.9,0M217.48,27.4a1.45,1.45 0 1,0 2.9,0a1.45,1.45 0 1,0 -2.9,0M218.33,30.81a1.45,1.45 0 1,0 2.9,0a1.45,1.45 0 1,0 -2.9,0M219.18,26.3a1.45,1.45 0 1,0 2.9,0a1.45,1.45 0 1,0 -2.9,0M220.03,29.12a1.45,1.45 0 1,0 2.9,0a1.45,1.45 0 1,0 -2.9,0M220.87,28.63a1.45,1.45 0 1,0 2.9,0a1.45,1.45 0 1,0 -2.9,0M221.72,27.98a1.45,1.45 0 1,0 2.9,0a1.45,1.45 0 1,0 -2.9,0M222.57,30.55a1.45,1.45 0 1,0 2.9,0a1.45,1.45 0 1,0 -2.9,0M223.41,31.31a1.45,1.45 0 1,0 2.9,0a1.45,1.45 0 1,0 -2.9,0M224.26,33.14a1.45,1.45 0 1,0 2.9,0a1.45,1.45 0 1,0 -2.9,0M225.11,27.1a1.45,1.45 0 1,0 2.9,0a1.45,1.45 0 1,0 -2.9,0M225.96,30.67a1.45,1.45 0 1,0 2.9,0a1.45,1.45 0 1,0 -2.9,0M226.8,30.47a1.45,1.45 0 1,0 2.9,0a1.45,1.45 0 1,0 -2.9,0M227.65,29.43a1.45,1.45 0 1,0 2.9,0a1.45,1.45 0 1,0 -2.9,0M228.5,25.67a1.45,1.45 0 1,0 2.9,0a1.45,1.45 0 1,0 -2.9,0M229.34,32.59a1.45,1.45 0 1,0 2.9,0a1.45,1.45 0 1,0 -2.9,0M230.19,28.91a1.45,1.45 0 1,0 2.9,0a1.45,1.45 0 1,0 -2.9,0M231.04,30.11a1.45,1.45 0 1,0 2.9,0a1.45,1.45 0 1,0 -2.9,0M231.89,28.38a1.45,1.45 0 1,0 2.9,0a1.45,1.45 0 1,0 -2.9,0M232.73,32.72a1.45,1.45 0 1,0 2.9,0a1.45,1.45 0 1,0 -2.9,0M233.58,30.11a1.45,1.45 0 1,0 2.9,0a1.45,1.45 0 1,0 -2.9,0M234.43,27.81a1.45,1.45 0 1,0 2.9,0a1.45,1.45 0 1,0 -2.9,0M235.27,26.47a1.45,1.45 0 1,0 2.9,0a1.45,1.45 0 1,0 -2.9,0M236.12,26.4a1.45,1.45 0 1,0 2.9,0a1.45,1.45 0 1,0 -2.9,0M236.97,30.96a1.45,1.45 0 1,0 2.9,0a1.45,1.45 0 1,0 -2.9,0M237.82,29.27a1.45,1.45 0 1,0 2.9,0a1.45,1.45 0 1,0 -2.9,0M238.66,29.58a1.45,1.45 0 1,0 2.9,0a1.45,1.45 0 1,0 -2.9,0M239.51,31.93a1.45,1.45 0 1,0 2.9,0a1.45,1.45 0 1,0 -2.9,0M240.36,32.05a1.45,1.45 0 1,0 2.9,0a1.45,1.45 0 1,0 -2.9,0M241.2,27.96a1.45,1.45 0 1,0 2.9,0a1.45,1.45 0 1,0 -2.9,0M242.05,28.91a1.45,1.45 0 1,0 2.9,0a1.45,1.45 0 1,0 -2.9,0M242.9,29.64a1.45,1.45 0 1,0 2.9,0a1.45,1.45 0 1,0 -2.9,0M243.75,27.11a1.45,1.45 0 1,0 2.9,0a1.45,1.45 0 1,0 -2.9,0M244.59,31.24a1.45,1.45 0 1,0 2.9,0a1.45,1.45 0 1,0 -2.9,0M245.44,28.39a1.45,1.45 0 1,0 2.9,0a1.45,1.45 0 1,0 -2.9,0M246.29,29.35a1.45,1.45 0 1,0 2.9,0a1.45,1.45 0 1,0 -2.9,0M247.13,29.48a1.45,1.45 0 1,0 2.9,0a1.45,1.45 0 1,0 -2.9,0M247.98,28.46a1.45,1.45 0 1,0 2.9,0a1.45,1.45 0 1,0 -2.9,0M248.83,29.04a1.45,1.45 0 1,0 2.9,0a1.45,1.45 0 1,0 -2.9,0M249.67,28.87a1.45,1.45 0 1,0 2.9,0a1.45,1.45 0 1,0 -2.9,0M250.52,28.88a1.45,1.45 0 1,0 2.9,0a1.45,1.45 0 1,0 -2.9,0M251.37,25.76a1.45,1.45 0 1,0 2.9,0a1.45,1.45 0 1,0 -2.9,0M252.22,29.95a1.45,1.45 0 1,0 2.9,0a1.45,1.45 0 1,0 -2.9,0M253.06,27.49a1.45,1.45 0 1,0 2.9,0a1.45,1.45 0 1,0 -2.9,0M253.91,28.24a1.45,1.45 0 1,0 2.9,0a1.45,1.45 0 1,0 -2.9,0M254.76,30.02a1.45,1.45 0 1,0 2.9,0a1.45,1.45 0 1,0 -2.9,0M255.6,27.89a1.45,1.45 0 1,0 2.9,0a1.45,1.45 0 1,0 -2.9,0M256.45,30.97a1.45,1.45 0 1,0 2.9,0a1.45,1.45 0 1,0 -2.9,0M257.3,27.21a1.45,1.45 0 1,0 2.9,0a1.45,1.45 0 1,0 -2.9,0M258.15,30.88a1.45,1.45 0 1,0 2.9,0a1.45,1.45 0 1,0 -2.9,0M258.99,30.28a1.45,1.45 0 1,0 2.9,0a1.45,1.45 0 1,0 -2.9,0M259.84,28.77a1.45,1.45 0 1,0 2.9,0a1.45,1.45 0 1,0 -2.9,0M260.69,27.82a1.45,1.45 0 1,0 2.9,0a1.45,1.45 0 1,0 -2.9,0M261.53,27.68a1.45,1.45 0 1,0 2.9,0a1.45,1.45 0 1,0 -2.9,0M262.38,27.71a1.45,1.45 0 1,0 2.9,0a1.45,1.45 0 1,0 -2.9,0M263.23,29.76a1.45,1.45 0 1,0 2.9,0a1.45,1.45 0 1,0 -2.9,0M264.08,31.15a1.45,1.45 0 1,0 2.9,0a1.45,1.45 0 1,0 -2.9,0M264.92,28.35a1.45,1.45 0 1,0 2.9,0a1.45,1.45 0 1,0 -2.9,0M265.77,28.81a1.45,1.45 0 1,0 2.9,0a1.45,1.45 0 1,0 -2.9,0M266.62,31.14a1.45,1.45 0 1,0 2.9,0a1.45,1.45 0 1,0 -2.9,0M267.46,27.56a1.45,1.45 0 1,0 2.9,0a1.45,1.45 0 1,0 -2.9,0M268.31,29a1.45,1.45 0 1,0 2.9,0a1.45,1.45 0 1,0 -2.9,0M269.16,31.15a1.45,1.45 0 1,0 2.9,0a1.45,1.45 0 1,0 -2.9,0M270.01,28.55a1.45,1.45 0 1,0 2.9,0a1.45,1.45 0 1,0 -2.9,0M270.85,31.84a1.45,1.45 0 1,0 2.9,0a1.45,1.45 0 1,0 -2.9,0M271.7,31a1.45,1.45 0 1,0 2.9,0a1.45,1.45 0 1,0 -2.9,0M272.55,28.62a1.45,1.45 0 1,0 2.9,0a1.45,1.45 0 1,0 -2.9,0M273.39,32.27a1.45,1.45 0 1,0 2.9,0a1.45,1.45 0 1,0 -2.9,0M274.24,29.3a1.45,1.45 0 1,0 2.9,0a1.45,1.45 0 1,0 -2.9,0M275.09,31.89a1.45,1.45 0 1,0 2.9,0a1.45,1.45 0 1,0 -2.9,0M275.94,28a1.45,1.45 0 1,0 2.9,0a1.45,1.45 0 1,0 -2.9,0M276.78,30.72a1.45,1.45 0 1,0 2.9,0a1.45,1.45 0 1,0 -2.9,0M277.63,29.03a1.45,1.45 0 1,0 2.9,0a1.45,1.45 0 1,0 -2.9,0M278.48,32.17a1.45,1.45 0 1,0 2.9,0a1.45,1.45 0 1,0 -2.9,0M279.32,30.01a1.45,1.45 0 1,0 2.9,0a1.45,1.45 0 1,0 -2.9,0M280.17,27.61a1.45,1.45 0 1,0 2.9,0a1.45,1.45 0 1,0 -2.9,0M281.02,28.52a1.45,1.45 0 1,0 2.9,0a1.45,1.45 0 1,0 -2.9,0M281.87,32.79a1.45,1.45 0 1,0 2.9,0a1.45,1.45 0 1,0 -2.9,0M282.71,27.65a1.45,1.45 0 1,0 2.9,0a1.45,1.45 0 1,0 -2.9,0M283.56,27.71a1.45,1.45 0 1,0 2.9,0a1.45,1.45 0 1,0 -2.9,0M284.41,30.07a1.45,1.45 0 1,0 2.9,0a1.45,1.45 0 1,0 -2.9,0M285.25,26.73a1.45,1.45 0 1,0 2.9,0a1.45,1.45 0 1,0 -2.9,0M286.1,31.34a1.45,1.45 0 1,0 2.9,0a1.45,1.45 0 1,0 -2.9,0M286.95,29.53a1.45,1.45 0 1,0 2.9,0a1.45,1.45 0 1,0 -2.9,0M287.79,27.3a1.45,1.45 0 1,0 2.9,0a1.45,1.45 0 1,0 -2.9,0M288.64,26.93a1.45,1.45 0 1,0 2.9,0a1.45,1.45 0 1,0 -2.9,0M289.49,26.99a1.45,1.45 0 1,0 2.9,0a1.45,1.45 0 1,0 -2.9,0M290.34,31.41a1.45,1.45 0 1,0 2.9,0a1.45,1.45 0 1,0 -2.9,0M291.18,32.69a1.45,1.45 0 1,0 2.9,0a1.45,1.45 0 1,0 -2.9,0M292.03,28.64a1.45,1.45 0 1,0 2.9,0a1.45,1.45 0 1,0 -2.9,0M292.88,32.04a1.45,1.45 0 1,0 2.9,0a1.45,1.45 0 1,0 -2.9,0M293.72,29.62a1.45,1.45 0 1,0 2.9,0a1.45,1.45 0 1,0 -2.9,0M294.57,31.76a1.45,1.45 0 1,0 2.9,0a1.45,1.45 0 1,0 -2.9,0M295.42,27.39a1.45,1.45 0 1,0 2.9,0a1.45,1.45 0 1,0 -2.9,0M296.27,27.87a1.45,1.45 0 1,0 2.9,0a1.45,1.45 0 1,0 -2.9,0M297.11,28.33a1.45,1.45 0 1,0 2.9,0a1.45,1.45 0 1,0 -2.9,0M297.96,29.34a1.45,1.45 0 1,0 2.9,0a1.45,1.45 0 1,0 -2.9,0M298.81,29.29a1.45,1.45 0 1,0 2.9,0a1.45,1.45 0 1,0 -2.9,0M299.65,29.92a1.45,1.45 0 1,0 2.9,0a1.45,1.45 0 1,0 -2.9,0M300.5,28.66a1.45,1.45 0 1,0 2.9,0a1.45,1.45 0 1,0 -2.9,0M301.35,28.91a1.45,1.45 0 1,0 2.9,0a1.45,1.45 0 1,0 -2.9,0M302.2,28.52a1.45,1.45 0 1,0 2.9,0a1.45,1.45 0 1,0 -2.9,0M303.04,30.17a1.45,1.45 0 1,0 2.9,0a1.45,1.45 0 1,0 -2.9,0M303.89,25.84a1.45,1.45 0 1,0 2.9,0a1.45,1.45 0 1,0 -2.9,0M304.74,28.85a1.45,1.45 0 1,0 2.9,0a1.45,1.45 0 1,0 -2.9,0M305.58,26.77a1.45,1.45 0 1,0 2.9,0a1.45,1.45 0 1,0 -2.9,0M306.43,26.89a1.45,1.45 0 1,0 2.9,0a1.45,1.45 0 1,0 -2.9,0M307.28,31.01a1.45,1.45 0 1,0 2.9,0a1.45,1.45 0 1,0 -2.9,0M308.13,32.51a1.45,1.45 0 1,0 2.9,0a1.45,1.45 0 1,0 -2.9,0M308.97,27.03a1.45,1.45 0 1,0 2.9,0a1.45,1.45 0 1,0 -2.9,0M309.82,30.09a1.45,1.45 0 1,0 2.9,0a1.45,1.45 0 1,0 -2.9,0M310.67,29.22a1.45,1.45 0 1,0 2.9,0a1.45,1.45 0 1,0 -2.9,0M311.51,29.85a1.45,1.45 0 1,0 2.9,0a1.45,1.45 0 1,0 -2.9,0M312.36,29.13a1.45,1.45 0 1,0 2.9,0a1.45,1.45 0 1,0 -2.9,0M313.21,31.59a1.45,1.45 0 1,0 2.9,0a1.45,1.45 0 1,0 -2.9,0M314.06,29.56a1.45,1.45 0 1,0 2.9,0a1.45,1.45 0 1,0 -2.9,0M314.9,30.23a1.45,1.45 0 1,0 2.9,0a1.45,1.45 0 1,0 -2.9,0M315.75,29.4a1.45,1.45 0 1,0 2.9,0a1.45,1.45 0 1,0 -2.9,0M316.6,33.72a1.45,1.45 0 1,0 2.9,0a1.45,1.45 0 1,0 -2.9,0M317.44,27.84a1.45,1.45 0 1,0 2.9,0a1.45,1.45 0 1,0 -2.9,0M318.29,28.75a1.45,1.45 0 1,0 2.9,0a1.45,1.45 0 1,0 -2.9,0M319.14,32.59a1.45,1.45 0 1,0 2.9,0a1.45,1.45 0 1,0 -2.9,0M319.99,30.74a1.45,1.45 0 1,0 2.9,0a1.45,1.45 0 1,0 -2.9,0M320.83,29.31a1.45,1.45 0 1,0 2.9,0a1.45,1.45 0 1,0 -2.9,0M321.68,28.2a1.45,1.45 0 1,0 2.9,0a1.45,1.45 0 1,0 -2.9,0M322.53,29.37a1.45,1.45 0 1,0 2.9,0a1.45,1.45 0 1,0 -2.9,0M323.37,26.79a1.45,1.45 0 1,0 2.9,0a1.45,1.45 0 1,0 -2.9,0M324.22,29.33a1.45,1.45 0 1,0 2.9,0a1.45,1.45 0 1,0 -2.9,0M325.07,31.23a1.45,1.45 0 1,0 2.9,0a1.45,1.45 0 1,0 -2.9,0M325.91,30.63a1.45,1.45 0 1,0 2.9,0a1.45,1.45 0 1,0 -2.9,0M326.76,27.99a1.45,1.45 0 1,0 2.9,0a1.45,1.45 0 1,0 -2.9,0M327.61,30.51a1.45,1.45 0 1,0 2.9,0a1.45,1.45 0 1,0 -2.9,0M328.46,27.8a1.45,1.45 0 1,0 2.9,0a1.45,1.45 0 1,0 -2.9,0M329.3,27.47a1.45,1.45 0 1,0 2.9,0a1.45,1.45 0 1,0 -2.9,0M330.15,28.27a1.45,1.45 0 1,0 2.9,0a1.45,1.45 0 1,0 -2.9,0M331,21.22a1.45,1.45 0 1,0 2.9,0a1.45,1.45 0 1,0 -2.9,0M331.84,36.82a1.45,1.45 0 1,0 2.9,0a1.45,1.45 0 1,0 -2.9,0M332.69,29.39a1.45,1.45 0 1,0 2.9,0a1.45,1.45 0 1,0 -2.9,0M333.54,30.47a1.45,1.45 0 1,0 2.9,0a1.45,1.45 0 1,0 -2.9,0M334.39,30.51a1.45,1.45 0 1,0 2.9,0a1.45,1.45 0 1,0 -2.9,0M335.23,32.28a1.45,1.45 0 1,0 2.9,0a1.45,1.45 0 1,0 -2.9,0M336.08,30.4a1.45,1.45 0 1,0 2.9,0a1.45,1.45 0 1,0 -2.9,0M336.93,31.37a1.45,1.45 0 1,0 2.9,0a1.45,1.45 0 1,0 -2.9,0M337.77,32.03a1.45,1.45 0 1,0 2.9,0a1.45,1.45 0 1,0 -2.9,0M338.62,29.1a1.45,1.45 0 1,0 2.9,0a1.45,1.45 0 1,0 -2.9,0M339.47,28.52a1.45,1.45 0 1,0 2.9,0a1.45,1.45 0 1,0 -2.9,0M340.32,30.01a1.45,1.45 0 1,0 2.9,0a1.45,1.45 0 1,0 -2.9,0M341.16,26.82a1.45,1.45 0 1,0 2.9,0a1.45,1.45 0 1,0 -2.9,0M342.01,27.62a1.45,1.45 0 1,0 2.9,0a1.45,1.45 0 1,0 -2.9,0M342.86,27.42a1.45,1.45 0 1,0 2.9,0a1.45,1.45 0 1,0 -2.9,0M343.7,30.49a1.45,1.45 0 1,0 2.9,0a1.45,1.45 0 1,0 -2.9,0M344.55,32.15a1.45,1.45 0 1,0 2.9,0a1.45,1.45 0 1,0 -2.9,0M345.4,28.33a1.45,1.45 0 1,0 2.9,0a1.45,1.45 0 1,0 -2.9,0M346.25,28.8a1.45,1.45 0 1,0 2.9,0a1.45,1.45 0 1,0 -2.9,0M347.09,28.02a1.45,1.45 0 1,0 2.9,0a1.45,1.45 0 1,0 -2.9,0M347.94,28.59a1.45,1.45 0 1,0 2.9,0a1.45,1.45 0 1,0 -2.9,0M348.79,27.02a1.45,1.45 0 1,0 2.9,0a1.45,1.45 0 1,0 -2.9,0M349.63,29.91a1.45,1.45 0 1,0 2.9,0a1.45,1.45 0 1,0 -2.9,0M350.48,28.13a1.45,1.45 0 1,0 2.9,0a1.45,1.45 0 1,0 -2.9,0M351.33,31.04a1.45,1.45 0 1,0 2.9,0a1.45,1.45 0 1,0 -2.9,0M352.18,33.67a1.45,1.45 0 1,0 2.9,0a1.45,1.45 0 1,0 -2.9,0M353.02,30.2a1.45,1.45 0 1,0 2.9,0a1.45,1.45 0 1,0 -2.9,0M353.87,26.58a1.45,1.45 0 1,0 2.9,0a1.45,1.45 0 1,0 -2.9,0M354.72,32.49a1.45,1.45 0 1,0 2.9,0a1.45,1.45 0 1,0 -2.9,0M355.56,27.48a1.45,1.45 0 1,0 2.9,0a1.45,1.45 0 1,0 -2.9,0M356.41,30.64a1.45,1.45 0 1,0 2.9,0a1.45,1.45 0 1,0 -2.9,0M357.26,30.12a1.45,1.45 0 1,0 2.9,0a1.45,1.45 0 1,0 -2.9,0M358.11,29.29a1.45,1.45 0 1,0 2.9,0a1.45,1.45 0 1,0 -2.9,0M358.95,28.98a1.45,1.45 0 1,0 2.9,0a1.45,1.45 0 1,0 -2.9,0M359.8,31.18a1.45,1.45 0 1,0 2.9,0a1.45,1.45 0 1,0 -2.9,0M360.65,29.14a1.45,1.45 0 1,0 2.9,0a1.45,1.45 0 1,0 -2.9,0M361.49,28.54a1.45,1.45 0 1,0 2.9,0a1.45,1.45 0 1,0 -2.9,0M362.34,27.82a1.45,1.45 0 1,0 2.9,0a1.45,1.45 0 1,0 -2.9,0M363.19,30.78a1.45,1.45 0 1,0 2.9,0a1.45,1.45 0 1,0 -2.9,0M364.03,26.48a1.45,1.45 0 1,0 2.9,0a1.45,1.45 0 1,0 -2.9,0M364.88,25.82a1.45,1.45 0 1,0 2.9,0a1.45,1.45 0 1,0 -2.9,0M365.73,24.87a1.45,1.45 0 1,0 2.9,0a1.45,1.45 0 1,0 -2.9,0M366.58,31.87a1.45,1.45 0 1,0 2.9,0a1.45,1.45 0 1,0 -2.9,0M367.42,29.05a1.45,1.45 0 1,0 2.9,0a1.45,1.45 0 1,0 -2.9,0M368.27,32.83a1.45,1.45 0 1,0 2.9,0a1.45,1.45 0 1,0 -2.9,0M369.12,28.67a1.45,1.45 0 1,0 2.9,0a1.45,1.45 0 1,0 -2.9,0M369.96,28.34a1.45,1.45 0 1,0 2.9,0a1.45,1.45 0 1,0 -2.9,0M370.81,31.51a1.45,1.45 0 1,0 2.9,0a1.45,1.45 0 1,0 -2.9,0M371.66,32.32a1.45,1.45 0 1,0 2.9,0a1.45,1.45 0 1,0 -2.9,0M372.51,29.02a1.45,1.45 0 1,0 2.9,0a1.45,1.45 0 1,0 -2.9,0M373.35,28.2a1.45,1.45 0 1,0 2.9,0a1.45,1.45 0 1,0 -2.9,0M374.2,30.85a1.45,1.45 0 1,0 2.9,0a1.45,1.45 0 1,0 -2.9,0M375.05,29.86a1.45,1.45 0 1,0 2.9,0a1.45,1.45 0 1,0 -2.9,0M375.89,34.07a1.45,1.45 0 1,0 2.9,0a1.45,1.45 0 1,0 -2.9,0M376.74,30.69a1.45,1.45 0 1,0 2.9,0a1.45,1.45 0 1,0 -2.9,0M377.59,29.1a1.45,1.45 0 1,0 2.9,0a1.45,1.45 0 1,0 -2.9,0M378.44,29.09a1.45,1.45 0 1,0 2.9,0a1.45,1.45 0 1,0 -2.9,0M379.28,26.42a1.45,1.45 0 1,0 2.9,0a1.45,1.45 0 1,0 -2.9,0M380.13,31.5a1.45,1.45 0 1,0 2.9,0a1.45,1.45 0 1,0 -2.9,0M380.98,33.56a1.45,1.45 0 1,0 2.9,0a1.45,1.45 0 1,0 -2.9,0M381.82,28.53a1.45,1.45 0 1,0 2.9,0a1.45,1.45 0 1,0 -2.9,0M382.67,30.47a1.45,1.45 0 1,0 2.9,0a1.45,1.45 0 1,0 -2.9,0M383.52,28.84a1.45,1.45 0 1,0 2.9,0a1.45,1.45 0 1,0 -2.9,0M384.37,28.03a1.45,1.45 0 1,0 2.9,0a1.45,1.45 0 1,0 -2.9,0M385.21,28.25a1.45,1.45 0 1,0 2.9,0a1.45,1.45 0 1,0 -2.9,0M386.06,26.69a1.45,1.45 0 1,0 2.9,0a1.45,1.45 0 1,0 -2.9,0M386.91,26.85a1.45,1.45 0 1,0 2.9,0a1.45,1.45 0 1,0 -2.9,0M387.75,32.47a1.45,1.45 0 1,0 2.9,0a1.45,1.45 0 1,0 -2.9,0M388.6,29.49a1.45,1.45 0 1,0 2.9,0a1.45,1.45 0 1,0 -2.9,0M389.45,25.65a1.45,1.45 0 1,0 2.9,0a1.45,1.45 0 1,0 -2.9,0M390.3,30.13a1.45,1.45 0 1,0 2.9,0a1.45,1.45 0 1,0 -2.9,0M391.14,27.57a1.45,1.45 0 1,0 2.9,0a1.45,1.45 0 1,0 -2.9,0M391.99,29.47a1.45,1.45 0 1,0 2.9,0a1.45,1.45 0 1,0 -2.9,0M392.84,30.15a1.45,1.45 0 1,0 2.9,0a1.45,1.45 0 1,0 -2.9,0M393.68,26.42a1.45,1.45 0 1,0 2.9,0a1.45,1.45 0 1,0 -2.9,0M394.53,27.43a1.45,1.45 0 1,0 2.9,0a1.45,1.45 0 1,0 -2.9,0M395.38,29.82a1.45,1.45 0 1,0 2.9,0a1.45,1.45 0 1,0 -2.9,0M396.23,27.68a1.45,1.45 0 1,0 2.9,0a1.45,1.45 0 1,0 -2.9,0M397.07,31.82a1.45,1.45 0 1,0 2.9,0a1.45,1.45 0 1,0 -2.9,0M397.92,30.72a1.45,1.45 0 1,0 2.9,0a1.45,1.45 0 1,0 -2.9,0M398.77,27.69a1.45,1.45 0 1,0 2.9,0a1.45,1.45 0 1,0 -2.9,0M399.61,29.3a1.45,1.45 0 1,0 2.9,0a1.45,1.45 0 1,0 -2.9,0M400.46,31.35a1.45,1.45 0 1,0 2.9,0a1.45,1.45 0 1,0 -2.9,0M401.31,28.53a1.45,1.45 0 1,0 2.9,0a1.45,1.45 0 1,0 -2.9,0M402.15,28.76a1.45,1.45 0 1,0 2.9,0a1.45,1.45 0 1,0 -2.9,0M403,26.98a1.45,1.45 0 1,0 2.9,0a1.45,1.45 0 1,0 -2.9,0M403.85,27.59a1.45,1.45 0 1,0 2.9,0a1.45,1.45 0 1,0 -2.9,0M404.7,29.88a1.45,1.45 0 1,0 2.9,0a1.45,1.45 0 1,0 -2.9,0M405.54,30.27a1.45,1.45 0 1,0 2.9,0a1.45,1.45 0 1,0 -2.9,0M406.39,29.63a1.45,1.45 0 1,0 2.9,0a1.45,1.45 0 1,0 -2.9,0M407.24,29.8a1.45,1.45 0 1,0 2.9,0a1.45,1.45 0 1,0 -2.9,0M408.08,26.65a1.45,1.45 0 1,0 2.9,0a1.45,1.45 0 1,0 -2.9,0M408.93,26.41a1.45,1.45 0 1,0 2.9,0a1.45,1.45 0 1,0 -2.9,0M409.78,26.84a1.45,1.45 0 1,0 2.9,0a1.45,1.45 0 1,0 -2.9,0M410.63,28.66a1.45,1.45 0 1,0 2.9,0a1.45,1.45 0 1,0 -2.9,0M411.47,29.83a1.45,1.45 0 1,0 2.9,0a1.45,1.45 0 1,0 -2.9,0M412.32,27.69a1.45,1.45 0 1,0 2.9,0a1.45,1.45 0 1,0 -2.9,0M413.17,30.02a1.45,1.45 0 1,0 2.9,0a1.45,1.45 0 1,0 -2.9,0M414.01,28.93a1.45,1.45 0 1,0 2.9,0a1.45,1.45 0 1,0 -2.9,0M414.86,32.47a1.45,1.45 0 1,0 2.9,0a1.45,1.45 0 1,0 -2.9,0M415.71,30.16a1.45,1.45 0 1,0 2.9,0a1.45,1.45 0 1,0 -2.9,0M416.56,26.69a1.45,1.45 0 1,0 2.9,0a1.45,1.45 0 1,0 -2.9,0M417.4,31.28a1.45,1.45 0 1,0 2.9,0a1.45,1.45 0 1,0 -2.9,0M418.25,32.15a1.45,1.45 0 1,0 2.9,0a1.45,1.45 0 1,0 -2.9,0" fill="none" stroke="#F7875A" stroke-width="0.95"/>
<polyline points="40.5,138.8 41,33.5" fill="none" stroke="#8C9DD2" stroke-width="3" stroke-linejoin="round" stroke-linecap="round" />
<polyline points="40.6,142 40.6,67 41.44,67.04 42.28,67.08 43.13,67.11 43.97,67.15 44.81,67.19 45.65,67.16 46.49,67.11 47.33,67.06 48.18,67.01 49.02,66.96 49.86,66.91 50.7,66.86 51.54,66.81 52.38,66.76 53.23,66.71 54.07,66.66 54.91,66.61 55.75,66.53 56.59,66.46 57.43,66.38 58.28,66.31 59.12,66.23 59.96,66.15 60.8,66.08 61.64,66 62.48,65.93 63.33,65.85 64.17,65.77 65.01,65.7 65.85,65.68 66.69,65.65 67.53,65.63 68.38,65.61 69.22,65.59 70.06,65.57 70.9,65.54 71.74,65.52 72.58,65.5 73.43,65.48 74.27,65.45 75.11,65.43 75.95,65.41 76.79,65.39 77.64,65.36 78.48,65.34 79.32,65.32 80.16,65.3 81,65.31 81.84,65.33 82.69,65.34 83.53,65.35 84.37,65.36 85.21,65.37 86.05,65.39 86.89,65.4 87.74,65.41 88.58,65.42 89.42,65.43 90.26,65.45 91.1,65.46 91.94,65.47 92.79,65.48 93.63,65.49 94.47,65.55 95.31,65.65 96.15,65.75 96.99,65.85 97.84,65.95 98.68,66.05 99.52,66.14 100.36,66.28 101.2,66.47 102.04,66.65 102.89,66.84 103.73,67.02 104.57,67.21 105.41,67.39 106.25,67.58 107.09,67.77 107.94,67.95 108.78,68.14 109.62,68.32 110.46,68.51 111.3,68.69 112.15,68.88 112.99,69.07 113.83,69.25 114.67,69.45 115.51,69.69 116.35,69.93 117.2,70.17 118.04,70.41 118.88,70.65 119.72,70.9 120.56,71.14 121.4,71.38 122.25,71.62 123.09,71.86 123.93,72.1 124.77,72.34 125.61,72.58 126.45,72.83 127.3,73.07 128.14,73.31 128.98,73.55 129.82,73.79 130.66,74.03 131.5,74.28 132.35,74.53 133.19,74.78 134.03,75.04 134.87,75.29 135.71,75.54 136.55,75.79 137.4,76.04 138.24,76.29 139.08,76.55 139.92,76.8 140.76,77.05 141.61,77.3 142.45,77.55 143.29,77.8 144.13,78.05 144.97,78.31 145.81,78.56 146.66,78.81 147.5,79.06 148.34,79.31 149.18,79.56 150.02,79.84 150.86,80.11 151.71,80.38 152.55,80.66 153.39,80.93 154.23,81.21 155.07,81.48 155.91,81.76 156.76,82.03 157.6,82.3 158.44,82.58 159.28,82.85 160.12,83.13 160.96,83.4 161.81,83.68 162.65,83.95 163.49,84.22 164.33,84.5 165.17,84.77 166.01,85.05 166.86,85.32 167.7,85.6 168.54,85.87 169.38,86.14 170.22,86.42 171.06,86.69 171.91,86.96 172.75,87.21 173.59,87.46 174.43,87.71 175.27,87.96 176.12,88.21 176.96,88.46 177.8,88.71 178.64,88.97 179.48,89.22 180.32,89.47 181.17,89.72 182.01,89.97 182.85,90.22 183.69,90.47 184.53,90.72 185.37,90.97 186.22,91.22 187.06,91.47 187.9,91.72 188.74,91.97 189.58,92.22 190.42,92.47 191.27,92.72 192.11,92.97 192.95,93.25 193.79,93.54 194.63,93.83 195.47,94.11 196.32,94.4 197.16,94.68 198,94.97 198.84,95.26 199.68,95.54 200.52,95.83 201.37,96.11 202.21,96.4 203.05,96.68 203.89,96.97 204.73,97.26 205.57,97.54 206.42,97.83 207.26,98.11 208.1,98.4" fill="none" stroke="#7F92C9" stroke-width="1.4" stroke-linejoin="round" stroke-linecap="round" />
<path d="M38.6,67a2,2 0 1,0 4,0a2,2 0 1,0 -4,0M39.44,67.04a2,2 0 1,0 4,0a2,2 0 1,0 -4,0M40.28,67.08a2,2 0 1,0 4,0a2,2 0 1,0 -4,0M41.13,67.11a2,2 0 1,0 4,0a2,2 0 1,0 -4,0M41.97,67.15a2,2 0 1,0 4,0a2,2 0 1,0 -4,0M42.81,67.19a2,2 0 1,0 4,0a2,2 0 1,0 -4,0M43.65,67.16a2,2 0 1,0 4,0a2,2 0 1,0 -4,0M44.49,67.11a2,2 0 1,0 4,0a2,2 0 1,0 -4,0M45.33,67.06a2,2 0 1,0 4,0a2,2 0 1,0 -4,0M46.18,67.01a2,2 0 1,0 4,0a2,2 0 1,0 -4,0M47.02,66.96a2,2 0 1,0 4,0a2,2 0 1,0 -4,0M47.86,66.91a2,2 0 1,0 4,0a2,2 0 1,0 -4,0M48.7,66.86a2,2 0 1,0 4,0a2,2 0 1,0 -4,0M49.54,66.81a2,2 0 1,0 4,0a2,2 0 1,0 -4,0M50.38,66.76a2,2 0 1,0 4,0a2,2 0 1,0 -4,0M51.23,66.71a2,2 0 1,0 4,0a2,2 0 1,0 -4,0M52.07,66.66a2,2 0 1,0 4,0a2,2 0 1,0 -4,0M52.91,66.61a2,2 0 1,0 4,0a2,2 0 1,0 -4,0M53.75,66.53a2,2 0 1,0 4,0a2,2 0 1,0 -4,0M54.59,66.46a2,2 0 1,0 4,0a2,2 0 1,0 -4,0M55.43,66.38a2,2 0 1,0 4,0a2,2 0 1,0 -4,0M56.28,66.31a2,2 0 1,0 4,0a2,2 0 1,0 -4,0M57.12,66.23a2,2 0 1,0 4,0a2,2 0 1,0 -4,0M57.96,66.15a2,2 0 1,0 4,0a2,2 0 1,0 -4,0M58.8,66.08a2,2 0 1,0 4,0a2,2 0 1,0 -4,0M59.64,66a2,2 0 1,0 4,0a2,2 0 1,0 -4,0M60.48,65.93a2,2 0 1,0 4,0a2,2 0 1,0 -4,0M61.33,65.85a2,2 0 1,0 4,0a2,2 0 1,0 -4,0M62.17,65.77a2,2 0 1,0 4,0a2,2 0 1,0 -4,0M63.01,65.7a2,2 0 1,0 4,0a2,2 0 1,0 -4,0M63.85,65.68a2,2 0 1,0 4,0a2,2 0 1,0 -4,0M64.69,65.65a2,2 0 1,0 4,0a2,2 0 1,0 -4,0M65.53,65.63a2,2 0 1,0 4,0a2,2 0 1,0 -4,0M66.38,65.61a2,2 0 1,0 4,0a2,2 0 1,0 -4,0M67.22,65.59a2,2 0 1,0 4,0a2,2 0 1,0 -4,0M68.06,65.57a2,2 0 1,0 4,0a2,2 0 1,0 -4,0M68.9,65.54a2,2 0 1,0 4,0a2,2 0 1,0 -4,0M69.74,65.52a2,2 0 1,0 4,0a2,2 0 1,0 -4,0M70.58,65.5a2,2 0 1,0 4,0a2,2 0 1,0 -4,0M71.43,65.48a2,2 0 1,0 4,0a2,2 0 1,0 -4,0M72.27,65.45a2,2 0 1,0 4,0a2,2 0 1,0 -4,0M73.11,65.43a2,2 0 1,0 4,0a2,2 0 1,0 -4,0M73.95,65.41a2,2 0 1,0 4,0a2,2 0 1,0 -4,0M74.79,65.39a2,2 0 1,0 4,0a2,2 0 1,0 -4,0M75.64,65.36a2,2 0 1,0 4,0a2,2 0 1,0 -4,0M76.48,65.34a2,2 0 1,0 4,0a2,2 0 1,0 -4,0M77.32,65.32a2,2 0 1,0 4,0a2,2 0 1,0 -4,0M78.16,65.3a2,2 0 1,0 4,0a2,2 0 1,0 -4,0M79,65.31a2,2 0 1,0 4,0a2,2 0 1,0 -4,0M79.84,65.33a2,2 0 1,0 4,0a2,2 0 1,0 -4,0M80.69,65.34a2,2 0 1,0 4,0a2,2 0 1,0 -4,0M81.53,65.35a2,2 0 1,0 4,0a2,2 0 1,0 -4,0M82.37,65.36a2,2 0 1,0 4,0a2,2 0 1,0 -4,0M83.21,65.37a2,2 0 1,0 4,0a2,2 0 1,0 -4,0M84.05,65.39a2,2 0 1,0 4,0a2,2 0 1,0 -4,0M84.89,65.4a2,2 0 1,0 4,0a2,2 0 1,0 -4,0M85.74,65.41a2,2 0 1,0 4,0a2,2 0 1,0 -4,0M86.58,65.42a2,2 0 1,0 4,0a2,2 0 1,0 -4,0M87.42,65.43a2,2 0 1,0 4,0a2,2 0 1,0 -4,0M88.26,65.45a2,2 0 1,0 4,0a2,2 0 1,0 -4,0M89.1,65.46a2,2 0 1,0 4,0a2,2 0 1,0 -4,0M89.94,65.47a2,2 0 1,0 4,0a2,2 0 1,0 -4,0M90.79,65.48a2,2 0 1,0 4,0a2,2 0 1,0 -4,0M91.63,65.49a2,2 0 1,0 4,0a2,2 0 1,0 -4,0M92.47,65.55a2,2 0 1,0 4,0a2,2 0 1,0 -4,0M93.31,65.65a2,2 0 1,0 4,0a2,2 0 1,0 -4,0M94.15,65.75a2,2 0 1,0 4,0a2,2 0 1,0 -4,0M94.99,65.85a2,2 0 1,0 4,0a2,2 0 1,0 -4,0M95.84,65.95a2,2 0 1,0 4,0a2,2 0 1,0 -4,0M96.68,66.05a2,2 0 1,0 4,0a2,2 0 1,0 -4,0M97.52,66.14a2,2 0 1,0 4,0a2,2 0 1,0 -4,0M98.36,66.28a2,2 0 1,0 4,0a2,2 0 1,0 -4,0M99.2,66.47a2,2 0 1,0 4,0a2,2 0 1,0 -4,0M100.04,66.65a2,2 0 1,0 4,0a2,2 0 1,0 -4,0M100.89,66.84a2,2 0 1,0 4,0a2,2 0 1,0 -4,0M101.73,67.02a2,2 0 1,0 4,0a2,2 0 1,0 -4,0M102.57,67.21a2,2 0 1,0 4,0a2,2 0 1,0 -4,0M103.41,67.39a2,2 0 1,0 4,0a2,2 0 1,0 -4,0M104.25,67.58a2,2 0 1,0 4,0a2,2 0 1,0 -4,0M105.09,67.77a2,2 0 1,0 4,0a2,2 0 1,0 -4,0M105.94,67.95a2,2 0 1,0 4,0a2,2 0 1,0 -4,0M106.78,68.14a2,2 0 1,0 4,0a2,2 0 1,0 -4,0M107.62,68.32a2,2 0 1,0 4,0a2,2 0 1,0 -4,0M108.46,68.51a2,2 0 1,0 4,0a2,2 0 1,0 -4,0M109.3,68.69a2,2 0 1,0 4,0a2,2 0 1,0 -4,0M110.15,68.88a2,2 0 1,0 4,0a2,2 0 1,0 -4,0M110.99,69.07a2,2 0 1,0 4,0a2,2 0 1,0 -4,0M111.83,69.25a2,2 0 1,0 4,0a2,2 0 1,0 -4,0M112.67,69.45a2,2 0 1,0 4,0a2,2 0 1,0 -4,0M113.51,69.69a2,2 0 1,0 4,0a2,2 0 1,0 -4,0M114.35,69.93a2,2 0 1,0 4,0a2,2 0 1,0 -4,0M115.2,70.17a2,2 0 1,0 4,0a2,2 0 1,0 -4,0M116.04,70.41a2,2 0 1,0 4,0a2,2 0 1,0 -4,0M116.88,70.65a2,2 0 1,0 4,0a2,2 0 1,0 -4,0M117.72,70.9a2,2 0 1,0 4,0a2,2 0 1,0 -4,0M118.56,71.14a2,2 0 1,0 4,0a2,2 0 1,0 -4,0M119.4,71.38a2,2 0 1,0 4,0a2,2 0 1,0 -4,0M120.25,71.62a2,2 0 1,0 4,0a2,2 0 1,0 -4,0M121.09,71.86a2,2 0 1,0 4,0a2,2 0 1,0 -4,0M121.93,72.1a2,2 0 1,0 4,0a2,2 0 1,0 -4,0M122.77,72.34a2,2 0 1,0 4,0a2,2 0 1,0 -4,0M123.61,72.58a2,2 0 1,0 4,0a2,2 0 1,0 -4,0M124.45,72.83a2,2 0 1,0 4,0a2,2 0 1,0 -4,0M125.3,73.07a2,2 0 1,0 4,0a2,2 0 1,0 -4,0M126.14,73.31a2,2 0 1,0 4,0a2,2 0 1,0 -4,0M126.98,73.55a2,2 0 1,0 4,0a2,2 0 1,0 -4,0M127.82,73.79a2,2 0 1,0 4,0a2,2 0 1,0 -4,0M128.66,74.03a2,2 0 1,0 4,0a2,2 0 1,0 -4,0M129.5,74.28a2,2 0 1,0 4,0a2,2 0 1,0 -4,0M130.35,74.53a2,2 0 1,0 4,0a2,2 0 1,0 -4,0M131.19,74.78a2,2 0 1,0 4,0a2,2 0 1,0 -4,0M132.03,75.04a2,2 0 1,0 4,0a2,2 0 1,0 -4,0M132.87,75.29a2,2 0 1,0 4,0a2,2 0 1,0 -4,0M133.71,75.54a2,2 0 1,0 4,0a2,2 0 1,0 -4,0M134.55,75.79a2,2 0 1,0 4,0a2,2 0 1,0 -4,0M135.4,76.04a2,2 0 1,0 4,0a2,2 0 1,0 -4,0M136.24,76.29a2,2 0 1,0 4,0a2,2 0 1,0 -4,0M137.08,76.55a2,2 0 1,0 4,0a2,2 0 1,0 -4,0M137.92,76.8a2,2 0 1,0 4,0a2,2 0 1,0 -4,0M138.76,77.05a2,2 0 1,0 4,0a2,2 0 1,0 -4,0M139.61,77.3a2,2 0 1,0 4,0a2,2 0 1,0 -4,0M140.45,77.55a2,2 0 1,0 4,0a2,2 0 1,0 -4,0M141.29,77.8a2,2 0 1,0 4,0a2,2 0 1,0 -4,0M142.13,78.05a2,2 0 1,0 4,0a2,2 0 1,0 -4,0M142.97,78.31a2,2 0 1,0 4,0a2,2 0 1,0 -4,0M143.81,78.56a2,2 0 1,0 4,0a2,2 0 1,0 -4,0M144.66,78.81a2,2 0 1,0 4,0a2,2 0 1,0 -4,0M145.5,79.06a2,2 0 1,0 4,0a2,2 0 1,0 -4,0M146.34,79.31a2,2 0 1,0 4,0a2,2 0 1,0 -4,0M147.18,79.56a2,2 0 1,0 4,0a2,2 0 1,0 -4,0M148.02,79.84a2,2 0 1,0 4,0a2,2 0 1,0 -4,0M148.86,80.11a2,2 0 1,0 4,0a2,2 0 1,0 -4,0M149.71,80.38a2,2 0 1,0 4,0a2,2 0 1,0 -4,0M150.55,80.66a2,2 0 1,0 4,0a2,2 0 1,0 -4,0M151.39,80.93a2,2 0 1,0 4,0a2,2 0 1,0 -4,0M152.23,81.21a2,2 0 1,0 4,0a2,2 0 1,0 -4,0M153.07,81.48a2,2 0 1,0 4,0a2,2 0 1,0 -4,0M153.91,81.76a2,2 0 1,0 4,0a2,2 0 1,0 -4,0M154.76,82.03a2,2 0 1,0 4,0a2,2 0 1,0 -4,0M155.6,82.3a2,2 0 1,0 4,0a2,2 0 1,0 -4,0M156.44,82.58a2,2 0 1,0 4,0a2,2 0 1,0 -4,0M157.28,82.85a2,2 0 1,0 4,0a2,2 0 1,0 -4,0M158.12,83.13a2,2 0 1,0 4,0a2,2 0 1,0 -4,0M158.96,83.4a2,2 0 1,0 4,0a2,2 0 1,0 -4,0M159.81,83.68a2,2 0 1,0 4,0a2,2 0 1,0 -4,0M160.65,83.95a2,2 0 1,0 4,0a2,2 0 1,0 -4,0M161.49,84.22a2,2 0 1,0 4,0a2,2 0 1,0 -4,0M162.33,84.5a2,2 0 1,0 4,0a2,2 0 1,0 -4,0M163.17,84.77a2,2 0 1,0 4,0a2,2 0 1,0 -4,0M164.01,85.05a2,2 0 1,0 4,0a2,2 0 1,0 -4,0M164.86,85.32a2,2 0 1,0 4,0a2,2 0 1,0 -4,0M165.7,85.6a2,2 0 1,0 4,0a2,2 0 1,0 -4,0M166.54,85.87a2,2 0 1,0 4,0a2,2 0 1,0 -4,0M167.38,86.14a2,2 0 1,0 4,0a2,2 0 1,0 -4,0M168.22,86.42a2,2 0 1,0 4,0a2,2 0 1,0 -4,0M169.06,86.69a2,2 0 1,0 4,0a2,2 0 1,0 -4,0M169.91,86.96a2,2 0 1,0 4,0a2,2 0 1,0 -4,0M170.75,87.21a2,2 0 1,0 4,0a2,2 0 1,0 -4,0M171.59,87.46a2,2 0 1,0 4,0a2,2 0 1,0 -4,0M172.43,87.71a2,2 0 1,0 4,0a2,2 0 1,0 -4,0M173.27,87.96a2,2 0 1,0 4,0a2,2 0 1,0 -4,0M174.12,88.21a2,2 0 1,0 4,0a2,2 0 1,0 -4,0M174.96,88.46a2,2 0 1,0 4,0a2,2 0 1,0 -4,0M175.8,88.71a2,2 0 1,0 4,0a2,2 0 1,0 -4,0M176.64,88.97a2,2 0 1,0 4,0a2,2 0 1,0 -4,0M177.48,89.22a2,2 0 1,0 4,0a2,2 0 1,0 -4,0M178.32,89.47a2,2 0 1,0 4,0a2,2 0 1,0 -4,0M179.17,89.72a2,2 0 1,0 4,0a2,2 0 1,0 -4,0M180.01,89.97a2,2 0 1,0 4,0a2,2 0 1,0 -4,0M180.85,90.22a2,2 0 1,0 4,0a2,2 0 1,0 -4,0M181.69,90.47a2,2 0 1,0 4,0a2,2 0 1,0 -4,0M182.53,90.72a2,2 0 1,0 4,0a2,2 0 1,0 -4,0M183.37,90.97a2,2 0 1,0 4,0a2,2 0 1,0 -4,0M184.22,91.22a2,2 0 1,0 4,0a2,2 0 1,0 -4,0M185.06,91.47a2,2 0 1,0 4,0a2,2 0 1,0 -4,0M185.9,91.72a2,2 0 1,0 4,0a2,2 0 1,0 -4,0M186.74,91.97a2,2 0 1,0 4,0a2,2 0 1,0 -4,0M187.58,92.22a2,2 0 1,0 4,0a2,2 0 1,0 -4,0M188.42,92.47a2,2 0 1,0 4,0a2,2 0 1,0 -4,0M189.27,92.72a2,2 0 1,0 4,0a2,2 0 1,0 -4,0M190.11,92.97a2,2 0 1,0 4,0a2,2 0 1,0 -4,0M190.95,93.25a2,2 0 1,0 4,0a2,2 0 1,0 -4,0M191.79,93.54a2,2 0 1,0 4,0a2,2 0 1,0 -4,0M192.63,93.83a2,2 0 1,0 4,0a2,2 0 1,0 -4,0M193.47,94.11a2,2 0 1,0 4,0a2,2 0 1,0 -4,0M194.32,94.4a2,2 0 1,0 4,0a2,2 0 1,0 -4,0M195.16,94.68a2,2 0 1,0 4,0a2,2 0 1,0 -4,0M196,94.97a2,2 0 1,0 4,0a2,2 0 1,0 -4,0M196.84,95.26a2,2 0 1,0 4,0a2,2 0 1,0 -4,0M197.68,95.54a2,2 0 1,0 4,0a2,2 0 1,0 -4,0M198.52,95.83a2,2 0 1,0 4,0a2,2 0 1,0 -4,0M199.37,96.11a2,2 0 1,0 4,0a2,2 0 1,0 -4,0M200.21,96.4a2,2 0 1,0 4,0a2,2 0 1,0 -4,0M201.05,96.68a2,2 0 1,0 4,0a2,2 0 1,0 -4,0M201.89,96.97a2,2 0 1,0 4,0a2,2 0 1,0 -4,0M202.73,97.26a2,2 0 1,0 4,0a2,2 0 1,0 -4,0M203.57,97.54a2,2 0 1,0 4,0a2,2 0 1,0 -4,0M204.42,97.83a2,2 0 1,0 4,0a2,2 0 1,0 -4,0M205.26,98.11a2,2 0 1,0 4,0a2,2 0 1,0 -4,0M206.1,98.4a2,2 0 1,0 4,0a2,2 0 1,0 -4,0" fill="#7F92C9" stroke="none" stroke-width="0"/>
<polyline points="39.35,139.34 40.19,36.93 41.04,34.03 41.89,32.28 42.74,30.03 43.58,28.71 44.43,30.01 45.28,30.19 46.12,31.28 46.97,30.05 47.82,27.75 48.67,28.97 49.51,27.92 50.36,29.31 51.21,29.08 52.05,29.46 52.9,32.71 53.75,28.33 54.6,28.96 55.44,28.99 56.29,32.83 57.14,32.94 57.98,31.47 58.83,30.75 59.68,29.42 60.52,30.05 61.37,29.08 62.22,31.13 63.07,29.49 63.91,29.36 64.76,31.22 65.61,27.08 66.45,29.13 67.3,28.03 68.15,31.22 69,31.45 69.84,30.78 70.69,30.38 71.54,29.11 72.38,29.8 73.23,31.03 74.08,31.94 74.93,31.2 75.77,28.18 76.62,31.74 77.47,29.92 78.31,29.62 79.16,32.98 80.01,30.31 80.86,28.14 81.7,33.95 82.55,31.02 83.4,30.66 84.24,31.92 85.09,29.64 85.94,30.64 86.79,33.11 87.63,29.12 88.48,29.42 89.33,28.95 90.17,28.11 91.02,25.3 91.87,30.45 92.72,32.95 93.56,29.62 94.41,31.78 95.26,31.52 96.1,32.96 96.95,32.46 97.8,31.72 98.64,28.56 99.49,34.37 100.34,36.35 101.19,30.45 102.03,28.36 102.88,29.89 103.73,34.24 104.57,35.34 105.42,30.33 106.27,32.26 107.12,32.95 107.96,29.31 108.81,29.11 109.66,30.78 110.5,30.64 111.35,30.33 112.2,28.32 113.05,30.04 113.89,30.24 114.74,30.21 115.59,33.92 116.43,28.96 117.28,29.55 118.13,30.31 118.98,34.7 119.82,32.38 120.67,29.82 121.52,34.47 122.36,31.65 123.21,29.57 124.06,33.66 124.91,28.58 125.75,30.44 126.6,31.69 127.45,30.88 128.29,30.33 129.14,31.27 129.99,29.5 130.84,32.67 131.68,32.26 132.53,29.74 133.38,31.53 134.22,33.13 135.07,29.96 135.92,29.07 136.76,32.42 137.61,34.07 138.46,31.92 139.31,31.96 140.15,32.24 141,29.29 141.85,33.55 142.69,29.58 143.54,34.01 144.39,33.19 145.24,30.73 146.08,29.88 146.93,30.37 147.78,31.29 148.62,31.66 149.47,31.66 150.32,30.94 151.17,41.01 152.01,31.5 152.86,31 153.71,32.02 154.55,30.7 155.4,31.07 156.25,28.57 157.1,31.53 157.94,32.86 158.79,32.78 159.64,32.17 160.48,30.56 161.33,32.77 162.18,31.53 163.03,29.02 163.87,36.72 164.72,34.22 165.57,31.85 166.41,31.6 167.26,31.9 168.11,33.09 168.96,31.21 169.8,31.88 170.65,33.3 171.5,28.17 172.34,31.81 173.19,33.42 174.04,32.64 174.88,32.88 175.73,32.61 176.58,37.28 177.43,33.39 178.27,30.8 179.12,34.62 179.97,32.71 180.81,30.95 181.66,31.14 182.51,30.05 183.36,35.64 184.2,33.31 185.05,33.3 185.9,31.64 186.74,30.84 187.59,37.45 188.44,30.88 189.29,35.33 190.13,31.63 190.98,35.44 191.83,32.55 192.67,30.79 193.52,33.16 194.37,32.58 195.22,31.54 196.06,32.7 196.91,33.12 197.76,30.31 198.6,31.18 199.45,33.54 200.3,28.25 201.15,35.06 201.99,31.48 202.84,33.56 203.69,32.89 204.53,31.91 205.38,32.77 206.23,32.06 207.08,35.86 207.92,35.85" fill="none" stroke="#7F92C9" stroke-width="0.6" stroke-linejoin="round" stroke-linecap="round" />
<path d="M37.9,139.34a1.45,1.45 0 1,0 2.9,0a1.45,1.45 0 1,0 -2.9,0M38.74,36.93a1.45,1.45 0 1,0 2.9,0a1.45,1.45 0 1,0 -2.9,0M39.59,34.03a1.45,1.45 0 1,0 2.9,0a1.45,1.45 0 1,0 -2.9,0M40.44,32.28a1.45,1.45 0 1,0 2.9,0a1.45,1.45 0 1,0 -2.9,0M41.29,30.03a1.45,1.45 0 1,0 2.9,0a1.45,1.45 0 1,0 -2.9,0M42.13,28.71a1.45,1.45 0 1,0 2.9,0a1.45,1.45 0 1,0 -2.9,0M42.98,30.01a1.45,1.45 0 1,0 2.9,0a1.45,1.45 0 1,0 -2.9,0M43.83,30.19a1.45,1.45 0 1,0 2.9,0a1.45,1.45 0 1,0 -2.9,0M44.67,31.28a1.45,1.45 0 1,0 2.9,0a1.45,1.45 0 1,0 -2.9,0M45.52,30.05a1.45,1.45 0 1,0 2.9,0a1.45,1.45 0 1,0 -2.9,0M46.37,27.75a1.45,1.45 0 1,0 2.9,0a1.45,1.45 0 1,0 -2.9,0M47.22,28.97a1.45,1.45 0 1,0 2.9,0a1.45,1.45 0 1,0 -2.9,0M48.06,27.92a1.45,1.45 0 1,0 2.9,0a1.45,1.45 0 1,0 -2.9,0M48.91,29.31a1.45,1.45 0 1,0 2.9,0a1.45,1.45 0 1,0 -2.9,0M49.76,29.08a1.45,1.45 0 1,0 2.9,0a1.45,1.45 0 1,0 -2.9,0M50.6,29.46a1.45,1.45 0 1,0 2.9,0a1.45,1.45 0 1,0 -2.9,0M51.45,32.71a1.45,1.45 0 1,0 2.9,0a1.45,1.45 0 1,0 -2.9,0M52.3,28.33a1.45,1.45 0 1,0 2.9,0a1.45,1.45 0 1,0 -2.9,0M53.15,28.96a1.45,1.45 0 1,0 2.9,0a1.45,1.45 0 1,0 -2.9,0M53.99,28.99a1.45,1.45 0 1,0 2.9,0a1.45,1.45 0 1,0 -2.9,0M54.84,32.83a1.45,1.45 0 1,0 2.9,0a1.45,1.45 0 1,0 -2.9,0M55.69,32.94a1.45,1.45 0 1,0 2.9,0a1.45,1.45 0 1,0 -2.9,0M56.53,31.47a1.45,1.45 0 1,0 2.9,0a1.45,1.45 0 1,0 -2.9,0M57.38,30.75a1.45,1.45 0 1,0 2.9,0a1.45,1.45 0 1,0 -2.9,0M58.23,29.42a1.45,1.45 0 1,0 2.9,0a1.45,1.45 0 1,0 -2.9,0M59.07,30.05a1.45,1.45 0 1,0 2.9,0a1.45,1.45 0 1,0 -2.9,0M59.92,29.08a1.45,1.45 0 1,0 2.9,0a1.45,1.45 0 1,0 -2.9,0M60.77,31.13a1.45,1.45 0 1,0 2.9,0a1.45,1.45 0 1,0 -2.9,0M61.62,29.49a1.45,1.45 0 1,0 2.9,0a1.45,1.45 0 1,0 -2.9,0M62.46,29.36a1.45,1.45 0 1,0 2.9,0a1.45,1.45 0 1,0 -2.9,0M63.31,31.22a1.45,1.45 0 1,0 2.9,0a1.45,1.45 0 1,0 -2.9,0M64.16,27.08a1.45,1.45 0 1,0 2.9,0a1.45,1.45 0 1,0 -2.9,0M65,29.13a1.45,1.45 0 1,0 2.9,0a1.45,1.45 0 1,0 -2.9,0M65.85,28.03a1.45,1.45 0 1,0 2.9,0a1.45,1.45 0 1,0 -2.9,0M66.7,31.22a1.45,1.45 0 1,0 2.9,0a1.45,1.45 0 1,0 -2.9,0M67.55,31.45a1.45,1.45 0 1,0 2.9,0a1.45,1.45 0 1,0 -2.9,0M68.39,30.78a1.45,1.45 0 1,0 2.9,0a1.45,1.45 0 1,0 -2.9,0M69.24,30.38a1.45,1.45 0 1,0 2.9,0a1.45,1.45 0 1,0 -2.9,0M70.09,29.11a1.45,1.45 0 1,0 2.9,0a1.45,1.45 0 1,0 -2.9,0M70.93,29.8a1.45,1.45 0 1,0 2.9,0a1.45,1.45 0 1,0 -2.9,0M71.78,31.03a1.45,1.45 0 1,0 2.9,0a1.45,1.45 0 1,0 -2.9,0M72.63,31.94a1.45,1.45 0 1,0 2.9,0a1.45,1.45 0 1,0 -2.9,0M73.48,31.2a1.45,1.45 0 1,0 2.9,0a1.45,1.45 0 1,0 -2.9,0M74.32,28.18a1.45,1.45 0 1,0 2.9,0a1.45,1.45 0 1,0 -2.9,0M75.17,31.74a1.45,1.45 0 1,0 2.9,0a1.45,1.45 0 1,0 -2.9,0M76.02,29.92a1.45,1.45 0 1,0 2.9,0a1.45,1.45 0 1,0 -2.9,0M76.86,29.62a1.45,1.45 0 1,0 2.9,0a1.45,1.45 0 1,0 -2.9,0M77.71,32.98a1.45,1.45 0 1,0 2.9,0a1.45,1.45 0 1,0 -2.9,0M78.56,30.31a1.45,1.45 0 1,0 2.9,0a1.45,1.45 0 1,0 -2.9,0M79.41,28.14a1.45,1.45 0 1,0 2.9,0a1.45,1.45 0 1,0 -2.9,0M80.25,33.95a1.45,1.45 0 1,0 2.9,0a1.45,1.45 0 1,0 -2.9,0M81.1,31.02a1.45,1.45 0 1,0 2.9,0a1.45,1.45 0 1,0 -2.9,0M81.95,30.66a1.45,1.45 0 1,0 2.9,0a1.45,1.45 0 1,0 -2.9,0M82.79,31.92a1.45,1.45 0 1,0 2.9,0a1.45,1.45 0 1,0 -2.9,0M83.64,29.64a1.45,1.45 0 1,0 2.9,0a1.45,1.45 0 1,0 -2.9,0M84.49,30.64a1.45,1.45 0 1,0 2.9,0a1.45,1.45 0 1,0 -2.9,0M85.34,33.11a1.45,1.45 0 1,0 2.9,0a1.45,1.45 0 1,0 -2.9,0M86.18,29.12a1.45,1.45 0 1,0 2.9,0a1.45,1.45 0 1,0 -2.9,0M87.03,29.42a1.45,1.45 0 1,0 2.9,0a1.45,1.45 0 1,0 -2.9,0M87.88,28.95a1.45,1.45 0 1,0 2.9,0a1.45,1.45 0 1,0 -2.9,0M88.72,28.11a1.45,1.45 0 1,0 2.9,0a1.45,1.45 0 1,0 -2.9,0M89.57,25.3a1.45,1.45 0 1,0 2.9,0a1.45,1.45 0 1,0 -2.9,0M90.42,30.45a1.45,1.45 0 1,0 2.9,0a1.45,1.45 0 1,0 -2.9,0M91.27,32.95a1.45,1.45 0 1,0 2.9,0a1.45,1.45 0 1,0 -2.9,0M92.11,29.62a1.45,1.45 0 1,0 2.9,0a1.45,1.45 0 1,0 -2.9,0M92.96,31.78a1.45,1.45 0 1,0 2.9,0a1.45,1.45 0 1,0 -2.9,0M93.81,31.52a1.45,1.45 0 1,0 2.9,0a1.45,1.45 0 1,0 -2.9,0M94.65,32.96a1.45,1.45 0 1,0 2.9,0a1.45,1.45 0 1,0 -2.9,0M95.5,32.46a1.45,1.45 0 1,0 2.9,0a1.45,1.45 0 1,0 -2.9,0M96.35,31.72a1.45,1.45 0 1,0 2.9,0a1.45,1.45 0 1,0 -2.9,0M97.19,28.56a1.45,1.45 0 1,0 2.9,0a1.45,1.45 0 1,0 -2.9,0M98.04,34.37a1.45,1.45 0 1,0 2.9,0a1.45,1.45 0 1,0 -2.9,0M98.89,36.35a1.45,1.45 0 1,0 2.9,0a1.45,1.45 0 1,0 -2.9,0M99.74,30.45a1.45,1.45 0 1,0 2.9,0a1.45,1.45 0 1,0 -2.9,0M100.58,28.36a1.45,1.45 0 1,0 2.9,0a1.45,1.45 0 1,0 -2.9,0M101.43,29.89a1.45,1.45 0 1,0 2.9,0a1.45,1.45 0 1,0 -2.9,0M102.28,34.24a1.45,1.45 0 1,0 2.9,0a1.45,1.45 0 1,0 -2.9,0M103.12,35.34a1.45,1.45 0 1,0 2.9,0a1.45,1.45 0 1,0 -2.9,0M103.97,30.33a1.45,1.45 0 1,0 2.9,0a1.45,1.45 0 1,0 -2.9,0M104.82,32.26a1.45,1.45 0 1,0 2.9,0a1.45,1.45 0 1,0 -2.9,0M105.67,32.95a1.45,1.45 0 1,0 2.9,0a1.45,1.45 0 1,0 -2.9,0M106.51,29.31a1.45,1.45 0 1,0 2.9,0a1.45,1.45 0 1,0 -2.9,0M107.36,29.11a1.45,1.45 0 1,0 2.9,0a1.45,1.45 0 1,0 -2.9,0M108.21,30.78a1.45,1.45 0 1,0 2.9,0a1.45,1.45 0 1,0 -2.9,0M109.05,30.64a1.45,1.45 0 1,0 2.9,0a1.45,1.45 0 1,0 -2.9,0M109.9,30.33a1.45,1.45 0 1,0 2.9,0a1.45,1.45 0 1,0 -2.9,0M110.75,28.32a1.45,1.45 0 1,0 2.9,0a1.45,1.45 0 1,0 -2.9,0M111.6,30.04a1.45,1.45 0 1,0 2.9,0a1.45,1.45 0 1,0 -2.9,0M112.44,30.24a1.45,1.45 0 1,0 2.9,0a1.45,1.45 0 1,0 -2.9,0M113.29,30.21a1.45,1.45 0 1,0 2.9,0a1.45,1.45 0 1,0 -2.9,0M114.14,33.92a1.45,1.45 0 1,0 2.9,0a1.45,1.45 0 1,0 -2.9,0M114.98,28.96a1.45,1.45 0 1,0 2.9,0a1.45,1.45 0 1,0 -2.9,0M115.83,29.55a1.45,1.45 0 1,0 2.9,0a1.45,1.45 0 1,0 -2.9,0M116.68,30.31a1.45,1.45 0 1,0 2.9,0a1.45,1.45 0 1,0 -2.9,0M117.53,34.7a1.45,1.45 0 1,0 2.9,0a1.45,1.45 0 1,0 -2.9,0M118.37,32.38a1.45,1.45 0 1,0 2.9,0a1.45,1.45 0 1,0 -2.9,0M119.22,29.82a1.45,1.45 0 1,0 2.9,0a1.45,1.45 0 1,0 -2.9,0M120.07,34.47a1.45,1.45 0 1,0 2.9,0a1.45,1.45 0 1,0 -2.9,0M120.91,31.65a1.45,1.45 0 1,0 2.9,0a1.45,1.45 0 1,0 -2.9,0M121.76,29.57a1.45,1.45 0 1,0 2.9,0a1.45,1.45 0 1,0 -2.9,0M122.61,33.66a1.45,1.45 0 1,0 2.9,0a1.45,1.45 0 1,0 -2.9,0M123.46,28.58a1.45,1.45 0 1,0 2.9,0a1.45,1.45 0 1,0 -2.9,0M124.3,30.44a1.45,1.45 0 1,0 2.9,0a1.45,1.45 0 1,0 -2.9,0M125.15,31.69a1.45,1.45 0 1,0 2.9,0a1.45,1.45 0 1,0 -2.9,0M126,30.88a1.45,1.45 0 1,0 2.9,0a1.45,1.45 0 1,0 -2.9,0M126.84,30.33a1.45,1.45 0 1,0 2.9,0a1.45,1.45 0 1,0 -2.9,0M127.69,31.27a1.45,1.45 0 1,0 2.9,0a1.45,1.45 0 1,0 -2.9,0M128.54,29.5a1.45,1.45 0 1,0 2.9,0a1.45,1.45 0 1,0 -2.9,0M129.39,32.67a1.45,1.45 0 1,0 2.9,0a1.45,1.45 0 1,0 -2.9,0M130.23,32.26a1.45,1.45 0 1,0 2.9,0a1.45,1.45 0 1,0 -2.9,0M131.08,29.74a1.45,1.45 0 1,0 2.9,0a1.45,1.45 0 1,0 -2.9,0M131.93,31.53a1.45,1.45 0 1,0 2.9,0a1.45,1.45 0 1,0 -2.9,0M132.77,33.13a1.45,1.45 0 1,0 2.9,0a1.45,1.45 0 1,0 -2.9,0M133.62,29.96a1.45,1.45 0 1,0 2.9,0a1.45,1.45 0 1,0 -2.9,0M134.47,29.07a1.45,1.45 0 1,0 2.9,0a1.45,1.45 0 1,0 -2.9,0M135.31,32.42a1.45,1.45 0 1,0 2.9,0a1.45,1.45 0 1,0 -2.9,0M136.16,34.07a1.45,1.45 0 1,0 2.9,0a1.45,1.45 0 1,0 -2.9,0M137.01,31.92a1.45,1.45 0 1,0 2.9,0a1.45,1.45 0 1,0 -2.9,0M137.86,31.96a1.45,1.45 0 1,0 2.9,0a1.45,1.45 0 1,0 -2.9,0M138.7,32.24a1.45,1.45 0 1,0 2.9,0a1.45,1.45 0 1,0 -2.9,0M139.55,29.29a1.45,1.45 0 1,0 2.9,0a1.45,1.45 0 1,0 -2.9,0M140.4,33.55a1.45,1.45 0 1,0 2.9,0a1.45,1.45 0 1,0 -2.9,0M141.24,29.58a1.45,1.45 0 1,0 2.9,0a1.45,1.45 0 1,0 -2.9,0M142.09,34.01a1.45,1.45 0 1,0 2.9,0a1.45,1.45 0 1,0 -2.9,0M142.94,33.19a1.45,1.45 0 1,0 2.9,0a1.45,1.45 0 1,0 -2.9,0M143.79,30.73a1.45,1.45 0 1,0 2.9,0a1.45,1.45 0 1,0 -2.9,0M144.63,29.88a1.45,1.45 0 1,0 2.9,0a1.45,1.45 0 1,0 -2.9,0M145.48,30.37a1.45,1.45 0 1,0 2.9,0a1.45,1.45 0 1,0 -2.9,0M146.33,31.29a1.45,1.45 0 1,0 2.9,0a1.45,1.45 0 1,0 -2.9,0M147.17,31.66a1.45,1.45 0 1,0 2.9,0a1.45,1.45 0 1,0 -2.9,0M148.02,31.66a1.45,1.45 0 1,0 2.9,0a1.45,1.45 0 1,0 -2.9,0M148.87,30.94a1.45,1.45 0 1,0 2.9,0a1.45,1.45 0 1,0 -2.9,0M149.72,41.01a1.45,1.45 0 1,0 2.9,0a1.45,1.45 0 1,0 -2.9,0M150.56,31.5a1.45,1.45 0 1,0 2.9,0a1.45,1.45 0 1,0 -2.9,0M151.41,31a1.45,1.45 0 1,0 2.9,0a1.45,1.45 0 1,0 -2.9,0M152.26,32.02a1.45,1.45 0 1,0 2.9,0a1.45,1.45 0 1,0 -2.9,0M153.1,30.7a1.45,1.45 0 1,0 2.9,0a1.45,1.45 0 1,0 -2.9,0M153.95,31.07a1.45,1.45 0 1,0 2.9,0a1.45,1.45 0 1,0 -2.9,0M154.8,28.57a1.45,1.45 0 1,0 2.9,0a1.45,1.45 0 1,0 -2.9,0M155.65,31.53a1.45,1.45 0 1,0 2.9,0a1.45,1.45 0 1,0 -2.9,0M156.49,32.86a1.45,1.45 0 1,0 2.9,0a1.45,1.45 0 1,0 -2.9,0M157.34,32.78a1.45,1.45 0 1,0 2.9,0a1.45,1.45 0 1,0 -2.9,0M158.19,32.17a1.45,1.45 0 1,0 2.9,0a1.45,1.45 0 1,0 -2.9,0M159.03,30.56a1.45,1.45 0 1,0 2.9,0a1.45,1.45 0 1,0 -2.9,0M159.88,32.77a1.45,1.45 0 1,0 2.9,0a1.45,1.45 0 1,0 -2.9,0M160.73,31.53a1.45,1.45 0 1,0 2.9,0a1.45,1.45 0 1,0 -2.9,0M161.58,29.02a1.45,1.45 0 1,0 2.9,0a1.45,1.45 0 1,0 -2.9,0M162.42,36.72a1.45,1.45 0 1,0 2.9,0a1.45,1.45 0 1,0 -2.9,0M163.27,34.22a1.45,1.45 0 1,0 2.9,0a1.45,1.45 0 1,0 -2.9,0M164.12,31.85a1.45,1.45 0 1,0 2.9,0a1.45,1.45 0 1,0 -2.9,0M164.96,31.6a1.45,1.45 0 1,0 2.9,0a1.45,1.45 0 1,0 -2.9,0M165.81,31.9a1.45,1.45 0 1,0 2.9,0a1.45,1.45 0 1,0 -2.9,0M166.66,33.09a1.45,1.45 0 1,0 2.9,0a1.45,1.45 0 1,0 -2.9,0M167.51,31.21a1.45,1.45 0 1,0 2.9,0a1.45,1.45 0 1,0 -2.9,0M168.35,31.88a1.45,1.45 0 1,0 2.9,0a1.45,1.45 0 1,0 -2.9,0M169.2,33.3a1.45,1.45 0 1,0 2.9,0a1.45,1.45 0 1,0 -2.9,0M170.05,28.17a1.45,1.45 0 1,0 2.9,0a1.45,1.45 0 1,0 -2.9,0M170.89,31.81a1.45,1.45 0 1,0 2.9,0a1.45,1.45 0 1,0 -2.9,0M171.74,33.42a1.45,1.45 0 1,0 2.9,0a1.45,1.45 0 1,0 -2.9,0M172.59,32.64a1.45,1.45 0 1,0 2.9,0a1.45,1.45 0 1,0 -2.9,0M173.43,32.88a1.45,1.45 0 1,0 2.9,0a1.45,1.45 0 1,0 -2.9,0M174.28,32.61a1.45,1.45 0 1,0 2.9,0a1.45,1.45 0 1,0 -2.9,0M175.13,37.28a1.45,1.45 0 1,0 2.9,0a1.45,1.45 0 1,0 -2.9,0M175.98,33.39a1.45,1.45 0 1,0 2.9,0a1.45,1.45 0 1,0 -2.9,0M176.82,30.8a1.45,1.45 0 1,0 2.9,0a1.45,1.45 0 1,0 -2.9,0M177.67,34.62a1.45,1.45 0 1,0 2.9,0a1.45,1.45 0 1,0 -2.9,0M178.52,32.71a1.45,1.45 0 1,0 2.9,0a1.45,1.45 0 1,0 -2.9,0M179.36,30.95a1.45,1.45 0 1,0 2.9,0a1.45,1.45 0 1,0 -2.9,0M180.21,31.14a1.45,1.45 0 1,0 2.9,0a1.45,1.45 0 1,0 -2.9,0M181.06,30.05a1.45,1.45 0 1,0 2.9,0a1.45,1.45 0 1,0 -2.9,0M181.91,35.64a1.45,1.45 0 1,0 2.9,0a1.45,1.45 0 1,0 -2.9,0M182.75,33.31a1.45,1.45 0 1,0 2.9,0a1.45,1.45 0 1,0 -2.9,0M183.6,33.3a1.45,1.45 0 1,0 2.9,0a1.45,1.45 0 1,0 -2.9,0M184.45,31.64a1.45,1.45 0 1,0 2.9,0a1.45,1.45 0 1,0 -2.9,0M185.29,30.84a1.45,1.45 0 1,0 2.9,0a1.45,1.45 0 1,0 -2.9,0M186.14,37.45a1.45,1.45 0 1,0 2.9,0a1.45,1.45 0 1,0 -2.9,0M186.99,30.88a1.45,1.45 0 1,0 2.9,0a1.45,1.45 0 1,0 -2.9,0M187.84,35.33a1.45,1.45 0 1,0 2.9,0a1.45,1.45 0 1,0 -2.9,0M188.68,31.63a1.45,1.45 0 1,0 2.9,0a1.45,1.45 0 1,0 -2.9,0M189.53,35.44a1.45,1.45 0 1,0 2.9,0a1.45,1.45 0 1,0 -2.9,0M190.38,32.55a1.45,1.45 0 1,0 2.9,0a1.45,1.45 0 1,0 -2.9,0M191.22,30.79a1.45,1.45 0 1,0 2.9,0a1.45,1.45 0 1,0 -2.9,0M192.07,33.16a1.45,1.45 0 1,0 2.9,0a1.45,1.45 0 1,0 -2.9,0M192.92,32.58a1.45,1.45 0 1,0 2.9,0a1.45,1.45 0 1,0 -2.9,0M193.77,31.54a1.45,1.45 0 1,0 2.9,0a1.45,1.45 0 1,0 -2.9,0M194.61,32.7a1.45,1.45 0 1,0 2.9,0a1.45,1.45 0 1,0 -2.9,0M195.46,33.12a1.45,1.45 0 1,0 2.9,0a1.45,1.45 0 1,0 -2.9,0M196.31,30.31a1.45,1.45 0 1,0 2.9,0a1.45,1.45 0 1,0 -2.9,0M197.15,31.18a1.45,1.45 0 1,0 2.9,0a1.45,1.45 0 1,0 -2.9,0M198,33.54a1.45,1.45 0 1,0 2.9,0a1.45,1.45 0 1,0 -2.9,0M198.85,28.25a1.45,1.45 0 1,0 2.9,0a1.45,1.45 0 1,0 -2.9,0M199.7,35.06a1.45,1.45 0 1,0 2.9,0a1.45,1.45 0 1,0 -2.9,0M200.54,31.48a1.45,1.45 0 1,0 2.9,0a1.45,1.45 0 1,0 -2.9,0M201.39,33.56a1.45,1.45 0 1,0 2.9,0a1.45,1.45 0 1,0 -2.9,0M202.24,32.89a1.45,1.45 0 1,0 2.9,0a1.45,1.45 0 1,0 -2.9,0M203.08,31.91a1.45,1.45 0 1,0 2.9,0a1.45,1.45 0 1,0 -2.9,0M203.93,32.77a1.45,1.45 0 1,0 2.9,0a1.45,1.45 0 1,0 -2.9,0M204.78,32.06a1.45,1.45 0 1,0 2.9,0a1.45,1.45 0 1,0 -2.9,0M205.63,35.86a1.45,1.45 0 1,0 2.9,0a1.45,1.45 0 1,0 -2.9,0M206.47,35.85a1.45,1.45 0 1,0 2.9,0a1.45,1.45 0 1,0 -2.9,0" fill="none" stroke="#7F92C9" stroke-width="0.95"/>
<circle cx="41.3" cy="111.3" r="1.5" fill="#fff" stroke="#F7875A" stroke-width="0.9"/>
<circle cx="39.7" cy="132.3" r="1.5" fill="#fff" stroke="#7F92C9" stroke-width="0.9"/>
<circle cx="40.8" cy="138.8" r="1.6" fill="#fff" stroke="#7F92C9" stroke-width="0.95"/>
<ellipse cx="56.5" cy="66" rx="9.8" ry="5.6" fill="none" stroke="#C4C4C4" stroke-width="1.25" stroke-dasharray="2.6 1.5"/>
<polyline points="56.5,71.6 56.5,83.8 44,83.8" fill="none" stroke="#C4C4C4" stroke-width="1.4" stroke-linejoin="round" stroke-linecap="round" stroke-linecap="butt" stroke-linejoin="miter"/>
<polygon points="41.3,83.8 46.3,81.1 45.55,83.8 46.3,86.5" fill="#C4C4C4"/>
<ellipse cx="384.3" cy="27.7" rx="12" ry="6.6" fill="none" stroke="#C4C4C4" stroke-width="1.25" stroke-dasharray="2.6 1.5"/>
<polyline points="383,34.3 383,48.2 413,48.2" fill="none" stroke="#C4C4C4" stroke-width="1.4" stroke-linejoin="round" stroke-linecap="round" stroke-linecap="butt" stroke-linejoin="miter"/>
<polygon points="418,48.2 413,45.5 413.75,48.2 413,50.9" fill="#C4C4C4"/>
<line x1="38.5" y1="4.35" x2="419.7" y2="4.35" stroke="#444" stroke-width="1.1" />
<line x1="38.4" y1="3.85" x2="38.4" y2="144" stroke="#444" stroke-width="1.2" />
<line x1="419.7" y1="4.35" x2="419.7" y2="144" stroke="#8a8a8a" stroke-width="1.5" />
<line x1="38.5" y1="144" x2="420.4" y2="144" stroke="#8a8a8a" stroke-width="1.5" />
<line x1="35.7" y1="144" x2="38.5" y2="144" stroke="#000" stroke-width="0.8" />
<text x="33.9" y="146.05" font-size="5.5" font-weight="bold" text-anchor="end" fill="#000"  stroke="#000" stroke-width="0.3">0</text>
<line x1="37" y1="134.03" x2="38.5" y2="134.03" stroke="#000" stroke-width="0.8" />
<line x1="35.7" y1="124.05" x2="38.5" y2="124.05" stroke="#000" stroke-width="0.8" />
<text x="33.9" y="126.1" font-size="5.5" font-weight="bold" text-anchor="end" fill="#000"  stroke="#000" stroke-width="0.3">50</text>
<line x1="37" y1="114.08" x2="38.5" y2="114.08" stroke="#000" stroke-width="0.8" />
<line x1="35.7" y1="104.1" x2="38.5" y2="104.1" stroke="#000" stroke-width="0.8" />
<text x="33.9" y="106.15" font-size="5.5" font-weight="bold" text-anchor="end" fill="#000"  stroke="#000" stroke-width="0.3">100</text>
<line x1="37" y1="94.12" x2="38.5" y2="94.12" stroke="#000" stroke-width="0.8" />
<line x1="35.7" y1="84.15" x2="38.5" y2="84.15" stroke="#000" stroke-width="0.8" />
<text x="33.9" y="86.2" font-size="5.5" font-weight="bold" text-anchor="end" fill="#000"  stroke="#000" stroke-width="0.3">150</text>
<line x1="37" y1="74.17" x2="38.5" y2="74.17" stroke="#000" stroke-width="0.8" />
<line x1="35.7" y1="64.2" x2="38.5" y2="64.2" stroke="#000" stroke-width="0.8" />
<text x="33.9" y="66.25" font-size="5.5" font-weight="bold" text-anchor="end" fill="#000"  stroke="#000" stroke-width="0.3">200</text>
<line x1="37" y1="54.22" x2="38.5" y2="54.22" stroke="#000" stroke-width="0.8" />
<line x1="35.7" y1="44.25" x2="38.5" y2="44.25" stroke="#000" stroke-width="0.8" />
<text x="33.9" y="46.3" font-size="5.5" font-weight="bold" text-anchor="end" fill="#000"  stroke="#000" stroke-width="0.3">250</text>
<line x1="37" y1="34.28" x2="38.5" y2="34.28" stroke="#000" stroke-width="0.8" />
<line x1="35.7" y1="24.3" x2="38.5" y2="24.3" stroke="#000" stroke-width="0.8" />
<text x="33.9" y="26.35" font-size="5.5" font-weight="bold" text-anchor="end" fill="#000"  stroke="#000" stroke-width="0.3">300</text>
<line x1="37" y1="14.32" x2="38.5" y2="14.32" stroke="#000" stroke-width="0.8" />
<line x1="35.7" y1="4.35" x2="38.5" y2="4.35" stroke="#000" stroke-width="0.8" />
<text x="33.9" y="6.4" font-size="5.5" font-weight="bold" text-anchor="end" fill="#000"  stroke="#000" stroke-width="0.3">350</text>
<line x1="38.5" y1="144" x2="38.5" y2="146.6" stroke="#555" stroke-width="0.8" />
<text x="38.5" y="153.2" font-size="5.5" font-weight="bold" text-anchor="middle" fill="#000"  stroke="#000" stroke-width="0.3">0</text>
<line x1="80.86" y1="144" x2="80.86" y2="145.4" stroke="#555" stroke-width="0.8" />
<line x1="123.21" y1="144" x2="123.21" y2="146.6" stroke="#555" stroke-width="0.8" />
<text x="123.21" y="153.2" font-size="5.5" font-weight="bold" text-anchor="middle" fill="#000"  stroke="#000" stroke-width="0.3">100</text>
<line x1="165.57" y1="144" x2="165.57" y2="145.4" stroke="#555" stroke-width="0.8" />
<line x1="207.92" y1="144" x2="207.92" y2="146.6" stroke="#555" stroke-width="0.8" />
<text x="207.92" y="153.2" font-size="5.5" font-weight="bold" text-anchor="middle" fill="#000"  stroke="#000" stroke-width="0.3">200</text>
<line x1="250.28" y1="144" x2="250.28" y2="145.4" stroke="#555" stroke-width="0.8" />
<line x1="292.63" y1="144" x2="292.63" y2="146.6" stroke="#555" stroke-width="0.8" />
<text x="292.63" y="153.2" font-size="5.5" font-weight="bold" text-anchor="middle" fill="#000"  stroke="#000" stroke-width="0.3">300</text>
<line x1="334.99" y1="144" x2="334.99" y2="145.4" stroke="#555" stroke-width="0.8" />
<line x1="377.34" y1="144" x2="377.34" y2="146.6" stroke="#555" stroke-width="0.8" />
<text x="377.34" y="153.2" font-size="5.5" font-weight="bold" text-anchor="middle" fill="#000"  stroke="#000" stroke-width="0.3">400</text>
<line x1="419.7" y1="144" x2="419.7" y2="145.4" stroke="#555" stroke-width="0.8" />
<line x1="419.7" y1="144" x2="422.5" y2="144" stroke="#555" stroke-width="0.8" />
<text x="424.1" y="146.05" font-size="5.5" font-weight="bold" text-anchor="start" fill="#000"  stroke="#000" stroke-width="0.3">90</text>
<line x1="419.7" y1="132.36" x2="421.2" y2="132.36" stroke="#555" stroke-width="0.8" />
<line x1="419.7" y1="120.72" x2="422.5" y2="120.72" stroke="#555" stroke-width="0.8" />
<text x="424.1" y="122.77" font-size="5.5" font-weight="bold" text-anchor="start" fill="#000"  stroke="#000" stroke-width="0.3">92</text>
<line x1="419.7" y1="109.09" x2="421.2" y2="109.09" stroke="#555" stroke-width="0.8" />
<line x1="419.7" y1="97.45" x2="422.5" y2="97.45" stroke="#555" stroke-width="0.8" />
<text x="424.1" y="99.5" font-size="5.5" font-weight="bold" text-anchor="start" fill="#000"  stroke="#000" stroke-width="0.3">94</text>
<line x1="419.7" y1="85.81" x2="421.2" y2="85.81" stroke="#555" stroke-width="0.8" />
<line x1="419.7" y1="74.17" x2="422.5" y2="74.17" stroke="#555" stroke-width="0.8" />
<text x="424.1" y="76.22" font-size="5.5" font-weight="bold" text-anchor="start" fill="#000"  stroke="#000" stroke-width="0.3">96</text>
<line x1="419.7" y1="62.54" x2="421.2" y2="62.54" stroke="#555" stroke-width="0.8" />
<line x1="419.7" y1="50.9" x2="422.5" y2="50.9" stroke="#555" stroke-width="0.8" />
<text x="424.1" y="52.95" font-size="5.5" font-weight="bold" text-anchor="start" fill="#000"  stroke="#000" stroke-width="0.3">98</text>
<line x1="419.7" y1="39.26" x2="421.2" y2="39.26" stroke="#555" stroke-width="0.8" />
<line x1="419.7" y1="27.62" x2="422.5" y2="27.62" stroke="#555" stroke-width="0.8" />
<text x="424.1" y="29.68" font-size="5.5" font-weight="bold" text-anchor="start" fill="#000"  stroke="#000" stroke-width="0.3">100</text>
<line x1="419.7" y1="15.99" x2="421.2" y2="15.99" stroke="#555" stroke-width="0.8" />
<line x1="419.7" y1="4.35" x2="422.5" y2="4.35" stroke="#555" stroke-width="0.8" />
<text x="424.1" y="6.4" font-size="5.5" font-weight="bold" text-anchor="start" fill="#000"  stroke="#000" stroke-width="0.3">102</text>
<text x="229" y="165.4" font-size="7.2" font-weight="bold" text-anchor="middle" fill="#000"  stroke="#000" stroke-width="0.22">Cycle number</text>
<text x="20.2" y="74" font-size="7.2" font-weight="bold" text-anchor="middle" fill="#000" transform="rotate(-90 20.2 74)"  stroke="#000" stroke-width="0.22">Capacity (mAh g<tspan dy="-2.4" font-size="4.6">-1</tspan><tspan dy="2.4">)</tspan></text>
<text x="442.6" y="73" font-size="7.2" font-weight="bold" text-anchor="middle" fill="#000" transform="rotate(-90 442.6 73)"  stroke="#000" stroke-width="0.22">Coulombic efficiency (%)</text>
<line x1="46.4" y1="126.3" x2="63.9" y2="126.3" stroke="#F7875A" stroke-width="1.1" />
<circle cx="55.1" cy="126.3" r="2.15" fill="#F7875A" stroke="none" stroke-width="0"/>
<line x1="69.1" y1="126.3" x2="86.2" y2="126.3" stroke="#F7875A" stroke-width="1.1" />
<circle cx="77.9" cy="126.3" r="1.75" fill="#fff" stroke="#F7875A" stroke-width="0.95"/>
<text x="90.6" y="128.8" font-size="7.25" font-weight="bold" text-anchor="start" fill="#000"  stroke="#000" stroke-width="0.22">E-LiFAS</text>
<line x1="46.4" y1="135.3" x2="63.9" y2="135.3" stroke="#7F92C9" stroke-width="1.1" />
<circle cx="55.1" cy="135.3" r="2.15" fill="#7F92C9" stroke="none" stroke-width="0"/>
<line x1="69.1" y1="135.3" x2="86.2" y2="135.3" stroke="#7F92C9" stroke-width="1.1" />
<circle cx="77.9" cy="135.3" r="1.75" fill="#fff" stroke="#7F92C9" stroke-width="0.95"/>
<text x="90.6" y="137.8" font-size="7.25" font-weight="bold" text-anchor="start" fill="#000"  stroke="#000" stroke-width="0.22">E-base</text>
<text x="317.4" y="103.1" font-size="8.2" font-weight="bold" text-anchor="middle" fill="#000"  stroke="#000" stroke-width="0.22">Li (300 μm)||NCM811 (3 mg cm<tspan dy="-2.6" font-size="5.2">-2</tspan><tspan dy="2.6">), 3.0-4.5 V</tspan></text>
<text x="317.7" y="117.2" font-size="8.2" font-weight="bold" text-anchor="middle" fill="#000"  stroke="#000" stroke-width="0.22">1C charge/ 1C discharge, RT</text>
<text x="316.3" y="132" font-size="8.2" font-weight="bold" text-anchor="middle" fill="#000"  stroke="#000" stroke-width="0.22">1C = 0.6 mA cm<tspan dy="-2.6" font-size="5.2">-1</tspan><tspan dy="2.6"></tspan></text>
<line x1="490" y1="27" x2="490" y2="120.4" stroke="#F89A74" stroke-width="1.7" />
<line x1="630.5" y1="0" x2="630.5" y2="49.8" stroke="#F9A07C" stroke-width="1" />
<polyline points="490.2,85.8 490.77,85.84 491.34,85.88 491.91,85.92 492.48,85.96 493.06,86 493.63,86.04 494.2,86.09 494.77,86.13 495.34,86.17 495.91,86.21 496.48,86.25 497.05,86.29 497.63,86.33 498.2,86.37 498.77,86.41 499.34,86.45 499.91,86.49 500.48,86.52 501.05,86.55 501.62,86.58 502.2,86.61 502.77,86.64 503.34,86.67 503.91,86.7 504.48,86.72 505.05,86.75 505.62,86.78 506.19,86.81 506.77,86.84 507.34,86.87 507.91,86.9 508.48,86.92 509.05,86.95 509.62,86.98 510.19,87.01 510.76,87.04 511.34,87.07 511.91,87.1 512.48,87.12 513.05,87.15 513.62,87.18 514.19,87.21 514.76,87.24 515.33,87.27 515.91,87.3 516.48,87.32 517.05,87.35 517.62,87.38 518.19,87.41 518.76,87.44 519.33,87.47 519.9,87.5 520.48,87.52 521.05,87.55 521.62,87.57 522.19,87.6 522.76,87.62 523.33,87.65 523.9,87.67 524.47,87.7 525.05,87.72 525.62,87.75 526.19,87.77 526.76,87.8 527.33,87.82 527.9,87.85 528.47,87.87 529.04,87.9 529.62,87.92 530.19,87.95 530.76,87.97 531.33,88 531.9,88.02 532.47,88.05 533.04,88.07 533.61,88.1 534.19,88.12 534.76,88.15 535.33,88.17 535.9,88.2 536.47,88.22 537.04,88.25 537.61,88.27 538.18,88.3 538.76,88.33 539.33,88.35 539.9,88.38 540.47,88.4 541.04,88.43 541.61,88.45 542.18,88.48 542.75,88.5 543.33,88.53 543.9,88.55 544.47,88.58 545.04,88.6 545.61,88.64 546.18,88.68 546.75,88.72 547.32,88.75 547.89,88.79 548.47,88.83 549.04,88.87 549.61,88.91 550.18,88.95 550.75,88.98 551.32,89.02 551.89,89.06 552.46,89.1 553.04,89.14 553.61,89.17 554.18,89.21 554.75,89.25 555.32,89.29 555.89,89.33 556.46,89.36 557.03,89.4 557.61,89.44 558.18,89.48 558.75,89.52 559.32,89.55 559.89,89.59 560.46,89.63 561.03,89.67 561.6,89.71 562.18,89.75 562.75,89.78 563.32,89.82 563.89,89.86 564.46,89.9 565.03,89.94 565.6,89.97 566.17,90.01 566.75,90.05 567.32,90.09 567.89,90.13 568.46,90.16 569.03,90.2 569.6,90.24 570.17,90.28 570.74,90.32 571.32,90.35 571.89,90.39 572.46,90.43 573.03,90.47 573.6,90.51 574.17,90.54 574.74,90.58 575.31,90.63 575.89,90.69 576.46,90.75 577.03,90.81 577.6,90.87 578.17,90.93 578.74,90.99 579.31,91.05 579.88,91.11 580.46,91.17 581.03,91.23 581.6,91.29 582.17,91.35 582.74,91.41 583.31,91.46 583.88,91.52 584.45,91.58 585.03,91.64 585.6,91.7 586.17,91.76 586.74,91.82 587.31,91.88 587.88,91.94 588.45,92 589.02,92.06 589.6,92.12 590.17,92.18 590.74,92.24 591.31,92.3 591.88,92.36 592.45,92.41 593.02,92.47 593.59,92.53 594.17,92.59 594.74,92.65 595.31,92.71 595.88,92.77 596.45,92.83 597.02,92.89 597.59,92.95 598.16,93.01 598.74,93.07 599.31,93.13 599.88,93.19 600.45,93.26 601.02,93.34 601.59,93.42 602.16,93.5 602.73,93.58 603.31,93.66 603.88,93.74 604.45,93.82 605.02,93.9 605.59,93.98 606.16,94.06 606.73,94.14 607.3,94.22 607.87,94.3 608.45,94.38 609.02,94.46 609.59,94.54 610.16,94.62 610.73,94.7 611.3,94.78 611.87,94.86 612.44,94.94 613.02,95.02 613.59,95.1 614.16,95.18 614.73,95.26 615.3,95.34 615.87,95.42 616.44,95.5 617.01,95.58 617.59,95.66 618.16,95.74 618.73,95.82 619.3,95.9 619.87,95.98 620.44,96.06 621.01,96.13 621.58,96.21 622.16,96.28 622.73,96.35 623.3,96.43 623.87,96.5 624.44,96.58 625.01,96.65 625.58,96.73 626.15,96.8 626.73,96.87 627.3,96.95 627.87,97.02 628.44,97.1 629.01,97.17 629.58,97.25 630.15,97.32 630.72,97.39 631.3,97.47 631.87,97.54 632.44,97.62 633.01,97.69 633.58,97.77 634.15,97.84 634.72,97.91 635.29,97.99 635.87,98.06 636.44,98.14 637.01,98.21 637.58,98.29 638.15,98.36 638.72,98.43 639.29,98.51 639.86,98.58 640.44,98.66 641.01,98.73 641.58,98.8 642.15,98.88 642.72,98.95 643.29,99.02 643.86,99.1 644.43,99.17 645.01,99.24 645.58,99.32 646.15,99.39 646.72,99.46 647.29,99.54 647.86,99.61 648.43,99.68 649,99.76 649.58,99.83 650.15,99.9 650.72,99.98 651.29,100.05 651.86,100.12 652.43,100.2 653,100.27 653.57,100.35 654.15,100.42 654.72,100.49 655.29,100.57 655.86,100.64 656.43,100.71 657,100.79 657.57,100.86 658.14,100.93 658.72,101.01 659.29,101.08 659.86,101.15 660.43,101.23 661,101.3" fill="none" stroke="#F7875A" stroke-width="1.5" stroke-linejoin="round" stroke-linecap="round" />
<path d="M487.85,85.8a2.35,2.35 0 1,0 4.7,0a2.35,2.35 0 1,0 -4.7,0M488.42,85.84a2.35,2.35 0 1,0 4.7,0a2.35,2.35 0 1,0 -4.7,0M488.99,85.88a2.35,2.35 0 1,0 4.7,0a2.35,2.35 0 1,0 -4.7,0M489.56,85.92a2.35,2.35 0 1,0 4.7,0a2.35,2.35 0 1,0 -4.7,0M490.13,85.96a2.35,2.35 0 1,0 4.7,0a2.35,2.35 0 1,0 -4.7,0M490.71,86a2.35,2.35 0 1,0 4.7,0a2.35,2.35 0 1,0 -4.7,0M491.28,86.04a2.35,2.35 0 1,0 4.7,0a2.35,2.35 0 1,0 -4.7,0M491.85,86.09a2.35,2.35 0 1,0 4.7,0a2.35,2.35 0 1,0 -4.7,0M492.42,86.13a2.35,2.35 0 1,0 4.7,0a2.35,2.35 0 1,0 -4.7,0M492.99,86.17a2.35,2.35 0 1,0 4.7,0a2.35,2.35 0 1,0 -4.7,0M493.56,86.21a2.35,2.35 0 1,0 4.7,0a2.35,2.35 0 1,0 -4.7,0M494.13,86.25a2.35,2.35 0 1,0 4.7,0a2.35,2.35 0 1,0 -4.7,0M494.7,86.29a2.35,2.35 0 1,0 4.7,0a2.35,2.35 0 1,0 -4.7,0M495.28,86.33a2.35,2.35 0 1,0 4.7,0a2.35,2.35 0 1,0 -4.7,0M495.85,86.37a2.35,2.35 0 1,0 4.7,0a2.35,2.35 0 1,0 -4.7,0M496.42,86.41a2.35,2.35 0 1,0 4.7,0a2.35,2.35 0 1,0 -4.7,0M496.99,86.45a2.35,2.35 0 1,0 4.7,0a2.35,2.35 0 1,0 -4.7,0M497.56,86.49a2.35,2.35 0 1,0 4.7,0a2.35,2.35 0 1,0 -4.7,0M498.13,86.52a2.35,2.35 0 1,0 4.7,0a2.35,2.35 0 1,0 -4.7,0M498.7,86.55a2.35,2.35 0 1,0 4.7,0a2.35,2.35 0 1,0 -4.7,0M499.27,86.58a2.35,2.35 0 1,0 4.7,0a2.35,2.35 0 1,0 -4.7,0M499.85,86.61a2.35,2.35 0 1,0 4.7,0a2.35,2.35 0 1,0 -4.7,0M500.42,86.64a2.35,2.35 0 1,0 4.7,0a2.35,2.35 0 1,0 -4.7,0M500.99,86.67a2.35,2.35 0 1,0 4.7,0a2.35,2.35 0 1,0 -4.7,0M501.56,86.7a2.35,2.35 0 1,0 4.7,0a2.35,2.35 0 1,0 -4.7,0M502.13,86.72a2.35,2.35 0 1,0 4.7,0a2.35,2.35 0 1,0 -4.7,0M502.7,86.75a2.35,2.35 0 1,0 4.7,0a2.35,2.35 0 1,0 -4.7,0M503.27,86.78a2.35,2.35 0 1,0 4.7,0a2.35,2.35 0 1,0 -4.7,0M503.84,86.81a2.35,2.35 0 1,0 4.7,0a2.35,2.35 0 1,0 -4.7,0M504.42,86.84a2.35,2.35 0 1,0 4.7,0a2.35,2.35 0 1,0 -4.7,0M504.99,86.87a2.35,2.35 0 1,0 4.7,0a2.35,2.35 0 1,0 -4.7,0M505.56,86.9a2.35,2.35 0 1,0 4.7,0a2.35,2.35 0 1,0 -4.7,0M506.13,86.92a2.35,2.35 0 1,0 4.7,0a2.35,2.35 0 1,0 -4.7,0M506.7,86.95a2.35,2.35 0 1,0 4.7,0a2.35,2.35 0 1,0 -4.7,0M507.27,86.98a2.35,2.35 0 1,0 4.7,0a2.35,2.35 0 1,0 -4.7,0M507.84,87.01a2.35,2.35 0 1,0 4.7,0a2.35,2.35 0 1,0 -4.7,0M508.41,87.04a2.35,2.35 0 1,0 4.7,0a2.35,2.35 0 1,0 -4.7,0M508.99,87.07a2.35,2.35 0 1,0 4.7,0a2.35,2.35 0 1,0 -4.7,0M509.56,87.1a2.35,2.35 0 1,0 4.7,0a2.35,2.35 0 1,0 -4.7,0M510.13,87.12a2.35,2.35 0 1,0 4.7,0a2.35,2.35 0 1,0 -4.7,0M510.7,87.15a2.35,2.35 0 1,0 4.7,0a2.35,2.35 0 1,0 -4.7,0M511.27,87.18a2.35,2.35 0 1,0 4.7,0a2.35,2.35 0 1,0 -4.7,0M511.84,87.21a2.35,2.35 0 1,0 4.7,0a2.35,2.35 0 1,0 -4.7,0M512.41,87.24a2.35,2.35 0 1,0 4.7,0a2.35,2.35 0 1,0 -4.7,0M512.98,87.27a2.35,2.35 0 1,0 4.7,0a2.35,2.35 0 1,0 -4.7,0M513.56,87.3a2.35,2.35 0 1,0 4.7,0a2.35,2.35 0 1,0 -4.7,0M514.13,87.32a2.35,2.35 0 1,0 4.7,0a2.35,2.35 0 1,0 -4.7,0M514.7,87.35a2.35,2.35 0 1,0 4.7,0a2.35,2.35 0 1,0 -4.7,0M515.27,87.38a2.35,2.35 0 1,0 4.7,0a2.35,2.35 0 1,0 -4.7,0M515.84,87.41a2.35,2.35 0 1,0 4.7,0a2.35,2.35 0 1,0 -4.7,0M516.41,87.44a2.35,2.35 0 1,0 4.7,0a2.35,2.35 0 1,0 -4.7,0M516.98,87.47a2.35,2.35 0 1,0 4.7,0a2.35,2.35 0 1,0 -4.7,0M517.55,87.5a2.35,2.35 0 1,0 4.7,0a2.35,2.35 0 1,0 -4.7,0M518.13,87.52a2.35,2.35 0 1,0 4.7,0a2.35,2.35 0 1,0 -4.7,0M518.7,87.55a2.35,2.35 0 1,0 4.7,0a2.35,2.35 0 1,0 -4.7,0M519.27,87.57a2.35,2.35 0 1,0 4.7,0a2.35,2.35 0 1,0 -4.7,0M519.84,87.6a2.35,2.35 0 1,0 4.7,0a2.35,2.35 0 1,0 -4.7,0M520.41,87.62a2.35,2.35 0 1,0 4.7,0a2.35,2.35 0 1,0 -4.7,0M520.98,87.65a2.35,2.35 0 1,0 4.7,0a2.35,2.35 0 1,0 -4.7,0M521.55,87.67a2.35,2.35 0 1,0 4.7,0a2.35,2.35 0 1,0 -4.7,0M522.12,87.7a2.35,2.35 0 1,0 4.7,0a2.35,2.35 0 1,0 -4.7,0M522.7,87.72a2.35,2.35 0 1,0 4.7,0a2.35,2.35 0 1,0 -4.7,0M523.27,87.75a2.35,2.35 0 1,0 4.7,0a2.35,2.35 0 1,0 -4.7,0M523.84,87.77a2.35,2.35 0 1,0 4.7,0a2.35,2.35 0 1,0 -4.7,0M524.41,87.8a2.35,2.35 0 1,0 4.7,0a2.35,2.35 0 1,0 -4.7,0M524.98,87.82a2.35,2.35 0 1,0 4.7,0a2.35,2.35 0 1,0 -4.7,0M525.55,87.85a2.35,2.35 0 1,0 4.7,0a2.35,2.35 0 1,0 -4.7,0M526.12,87.87a2.35,2.35 0 1,0 4.7,0a2.35,2.35 0 1,0 -4.7,0M526.69,87.9a2.35,2.35 0 1,0 4.7,0a2.35,2.35 0 1,0 -4.7,0M527.27,87.92a2.35,2.35 0 1,0 4.7,0a2.35,2.35 0 1,0 -4.7,0M527.84,87.95a2.35,2.35 0 1,0 4.7,0a2.35,2.35 0 1,0 -4.7,0M528.41,87.97a2.35,2.35 0 1,0 4.7,0a2.35,2.35 0 1,0 -4.7,0M528.98,88a2.35,2.35 0 1,0 4.7,0a2.35,2.35 0 1,0 -4.7,0M529.55,88.02a2.35,2.35 0 1,0 4.7,0a2.35,2.35 0 1,0 -4.7,0M530.12,88.05a2.35,2.35 0 1,0 4.7,0a2.35,2.35 0 1,0 -4.7,0M530.69,88.07a2.35,2.35 0 1,0 4.7,0a2.35,2.35 0 1,0 -4.7,0M531.26,88.1a2.35,2.35 0 1,0 4.7,0a2.35,2.35 0 1,0 -4.7,0M531.84,88.12a2.35,2.35 0 1,0 4.7,0a2.35,2.35 0 1,0 -4.7,0M532.41,88.15a2.35,2.35 0 1,0 4.7,0a2.35,2.35 0 1,0 -4.7,0M532.98,88.17a2.35,2.35 0 1,0 4.7,0a2.35,2.35 0 1,0 -4.7,0M533.55,88.2a2.35,2.35 0 1,0 4.7,0a2.35,2.35 0 1,0 -4.7,0M534.12,88.22a2.35,2.35 0 1,0 4.7,0a2.35,2.35 0 1,0 -4.7,0M534.69,88.25a2.35,2.35 0 1,0 4.7,0a2.35,2.35 0 1,0 -4.7,0M535.26,88.27a2.35,2.35 0 1,0 4.7,0a2.35,2.35 0 1,0 -4.7,0M535.83,88.3a2.35,2.35 0 1,0 4.7,0a2.35,2.35 0 1,0 -4.7,0M536.41,88.33a2.35,2.35 0 1,0 4.7,0a2.35,2.35 0 1,0 -4.7,0M536.98,88.35a2.35,2.35 0 1,0 4.7,0a2.35,2.35 0 1,0 -4.7,0M537.55,88.38a2.35,2.35 0 1,0 4.7,0a2.35,2.35 0 1,0 -4.7,0M538.12,88.4a2.35,2.35 0 1,0 4.7,0a2.35,2.35 0 1,0 -4.7,0M538.69,88.43a2.35,2.35 0 1,0 4.7,0a2.35,2.35 0 1,0 -4.7,0M539.26,88.45a2.35,2.35 0 1,0 4.7,0a2.35,2.35 0 1,0 -4.7,0M539.83,88.48a2.35,2.35 0 1,0 4.7,0a2.35,2.35 0 1,0 -4.7,0M540.4,88.5a2.35,2.35 0 1,0 4.7,0a2.35,2.35 0 1,0 -4.7,0M540.98,88.53a2.35,2.35 0 1,0 4.7,0a2.35,2.35 0 1,0 -4.7,0M541.55,88.55a2.35,2.35 0 1,0 4.7,0a2.35,2.35 0 1,0 -4.7,0M542.12,88.58a2.35,2.35 0 1,0 4.7,0a2.35,2.35 0 1,0 -4.7,0M542.69,88.6a2.35,2.35 0 1,0 4.7,0a2.35,2.35 0 1,0 -4.7,0M543.26,88.64a2.35,2.35 0 1,0 4.7,0a2.35,2.35 0 1,0 -4.7,0M543.83,88.68a2.35,2.35 0 1,0 4.7,0a2.35,2.35 0 1,0 -4.7,0M544.4,88.72a2.35,2.35 0 1,0 4.7,0a2.35,2.35 0 1,0 -4.7,0M544.97,88.75a2.35,2.35 0 1,0 4.7,0a2.35,2.35 0 1,0 -4.7,0M545.54,88.79a2.35,2.35 0 1,0 4.7,0a2.35,2.35 0 1,0 -4.7,0M546.12,88.83a2.35,2.35 0 1,0 4.7,0a2.35,2.35 0 1,0 -4.7,0M546.69,88.87a2.35,2.35 0 1,0 4.7,0a2.35,2.35 0 1,0 -4.7,0M547.26,88.91a2.35,2.35 0 1,0 4.7,0a2.35,2.35 0 1,0 -4.7,0M547.83,88.95a2.35,2.35 0 1,0 4.7,0a2.35,2.35 0 1,0 -4.7,0M548.4,88.98a2.35,2.35 0 1,0 4.7,0a2.35,2.35 0 1,0 -4.7,0M548.97,89.02a2.35,2.35 0 1,0 4.7,0a2.35,2.35 0 1,0 -4.7,0M549.54,89.06a2.35,2.35 0 1,0 4.7,0a2.35,2.35 0 1,0 -4.7,0M550.11,89.1a2.35,2.35 0 1,0 4.7,0a2.35,2.35 0 1,0 -4.7,0M550.69,89.14a2.35,2.35 0 1,0 4.7,0a2.35,2.35 0 1,0 -4.7,0M551.26,89.17a2.35,2.35 0 1,0 4.7,0a2.35,2.35 0 1,0 -4.7,0M551.83,89.21a2.35,2.35 0 1,0 4.7,0a2.35,2.35 0 1,0 -4.7,0M552.4,89.25a2.35,2.35 0 1,0 4.7,0a2.35,2.35 0 1,0 -4.7,0M552.97,89.29a2.35,2.35 0 1,0 4.7,0a2.35,2.35 0 1,0 -4.7,0M553.54,89.33a2.35,2.35 0 1,0 4.7,0a2.35,2.35 0 1,0 -4.7,0M554.11,89.36a2.35,2.35 0 1,0 4.7,0a2.35,2.35 0 1,0 -4.7,0M554.68,89.4a2.35,2.35 0 1,0 4.7,0a2.35,2.35 0 1,0 -4.7,0M555.26,89.44a2.35,2.35 0 1,0 4.7,0a2.35,2.35 0 1,0 -4.7,0M555.83,89.48a2.35,2.35 0 1,0 4.7,0a2.35,2.35 0 1,0 -4.7,0M556.4,89.52a2.35,2.35 0 1,0 4.7,0a2.35,2.35 0 1,0 -4.7,0M556.97,89.55a2.35,2.35 0 1,0 4.7,0a2.35,2.35 0 1,0 -4.7,0M557.54,89.59a2.35,2.35 0 1,0 4.7,0a2.35,2.35 0 1,0 -4.7,0M558.11,89.63a2.35,2.35 0 1,0 4.7,0a2.35,2.35 0 1,0 -4.7,0M558.68,89.67a2.35,2.35 0 1,0 4.7,0a2.35,2.35 0 1,0 -4.7,0M559.25,89.71a2.35,2.35 0 1,0 4.7,0a2.35,2.35 0 1,0 -4.7,0M559.83,89.75a2.35,2.35 0 1,0 4.7,0a2.35,2.35 0 1,0 -4.7,0M560.4,89.78a2.35,2.35 0 1,0 4.7,0a2.35,2.35 0 1,0 -4.7,0M560.97,89.82a2.35,2.35 0 1,0 4.7,0a2.35,2.35 0 1,0 -4.7,0M561.54,89.86a2.35,2.35 0 1,0 4.7,0a2.35,2.35 0 1,0 -4.7,0M562.11,89.9a2.35,2.35 0 1,0 4.7,0a2.35,2.35 0 1,0 -4.7,0M562.68,89.94a2.35,2.35 0 1,0 4.7,0a2.35,2.35 0 1,0 -4.7,0M563.25,89.97a2.35,2.35 0 1,0 4.7,0a2.35,2.35 0 1,0 -4.7,0M563.82,90.01a2.35,2.35 0 1,0 4.7,0a2.35,2.35 0 1,0 -4.7,0M564.4,90.05a2.35,2.35 0 1,0 4.7,0a2.35,2.35 0 1,0 -4.7,0M564.97,90.09a2.35,2.35 0 1,0 4.7,0a2.35,2.35 0 1,0 -4.7,0M565.54,90.13a2.35,2.35 0 1,0 4.7,0a2.35,2.35 0 1,0 -4.7,0M566.11,90.16a2.35,2.35 0 1,0 4.7,0a2.35,2.35 0 1,0 -4.7,0M566.68,90.2a2.35,2.35 0 1,0 4.7,0a2.35,2.35 0 1,0 -4.7,0M567.25,90.24a2.35,2.35 0 1,0 4.7,0a2.35,2.35 0 1,0 -4.7,0M567.82,90.28a2.35,2.35 0 1,0 4.7,0a2.35,2.35 0 1,0 -4.7,0M568.39,90.32a2.35,2.35 0 1,0 4.7,0a2.35,2.35 0 1,0 -4.7,0M568.97,90.35a2.35,2.35 0 1,0 4.7,0a2.35,2.35 0 1,0 -4.7,0M569.54,90.39a2.35,2.35 0 1,0 4.7,0a2.35,2.35 0 1,0 -4.7,0M570.11,90.43a2.35,2.35 0 1,0 4.7,0a2.35,2.35 0 1,0 -4.7,0M570.68,90.47a2.35,2.35 0 1,0 4.7,0a2.35,2.35 0 1,0 -4.7,0M571.25,90.51a2.35,2.35 0 1,0 4.7,0a2.35,2.35 0 1,0 -4.7,0M571.82,90.54a2.35,2.35 0 1,0 4.7,0a2.35,2.35 0 1,0 -4.7,0M572.39,90.58a2.35,2.35 0 1,0 4.7,0a2.35,2.35 0 1,0 -4.7,0M572.96,90.63a2.35,2.35 0 1,0 4.7,0a2.35,2.35 0 1,0 -4.7,0M573.54,90.69a2.35,2.35 0 1,0 4.7,0a2.35,2.35 0 1,0 -4.7,0M574.11,90.75a2.35,2.35 0 1,0 4.7,0a2.35,2.35 0 1,0 -4.7,0M574.68,90.81a2.35,2.35 0 1,0 4.7,0a2.35,2.35 0 1,0 -4.7,0M575.25,90.87a2.35,2.35 0 1,0 4.7,0a2.35,2.35 0 1,0 -4.7,0M575.82,90.93a2.35,2.35 0 1,0 4.7,0a2.35,2.35 0 1,0 -4.7,0M576.39,90.99a2.35,2.35 0 1,0 4.7,0a2.35,2.35 0 1,0 -4.7,0M576.96,91.05a2.35,2.35 0 1,0 4.7,0a2.35,2.35 0 1,0 -4.7,0M577.53,91.11a2.35,2.35 0 1,0 4.7,0a2.35,2.35 0 1,0 -4.7,0M578.11,91.17a2.35,2.35 0 1,0 4.7,0a2.35,2.35 0 1,0 -4.7,0M578.68,91.23a2.35,2.35 0 1,0 4.7,0a2.35,2.35 0 1,0 -4.7,0M579.25,91.29a2.35,2.35 0 1,0 4.7,0a2.35,2.35 0 1,0 -4.7,0M579.82,91.35a2.35,2.35 0 1,0 4.7,0a2.35,2.35 0 1,0 -4.7,0M580.39,91.41a2.35,2.35 0 1,0 4.7,0a2.35,2.35 0 1,0 -4.7,0M580.96,91.46a2.35,2.35 0 1,0 4.7,0a2.35,2.35 0 1,0 -4.7,0M581.53,91.52a2.35,2.35 0 1,0 4.7,0a2.35,2.35 0 1,0 -4.7,0M582.1,91.58a2.35,2.35 0 1,0 4.7,0a2.35,2.35 0 1,0 -4.7,0M582.68,91.64a2.35,2.35 0 1,0 4.7,0a2.35,2.35 0 1,0 -4.7,0M583.25,91.7a2.35,2.35 0 1,0 4.7,0a2.35,2.35 0 1,0 -4.7,0M583.82,91.76a2.35,2.35 0 1,0 4.7,0a2.35,2.35 0 1,0 -4.7,0M584.39,91.82a2.35,2.35 0 1,0 4.7,0a2.35,2.35 0 1,0 -4.7,0M584.96,91.88a2.35,2.35 0 1,0 4.7,0a2.35,2.35 0 1,0 -4.7,0M585.53,91.94a2.35,2.35 0 1,0 4.7,0a2.35,2.35 0 1,0 -4.7,0M586.1,92a2.35,2.35 0 1,0 4.7,0a2.35,2.35 0 1,0 -4.7,0M586.67,92.06a2.35,2.35 0 1,0 4.7,0a2.35,2.35 0 1,0 -4.7,0M587.25,92.12a2.35,2.35 0 1,0 4.7,0a2.35,2.35 0 1,0 -4.7,0M587.82,92.18a2.35,2.35 0 1,0 4.7,0a2.35,2.35 0 1,0 -4.7,0M588.39,92.24a2.35,2.35 0 1,0 4.7,0a2.35,2.35 0 1,0 -4.7,0M588.96,92.3a2.35,2.35 0 1,0 4.7,0a2.35,2.35 0 1,0 -4.7,0M589.53,92.36a2.35,2.35 0 1,0 4.7,0a2.35,2.35 0 1,0 -4.7,0M590.1,92.41a2.35,2.35 0 1,0 4.7,0a2.35,2.35 0 1,0 -4.7,0M590.67,92.47a2.35,2.35 0 1,0 4.7,0a2.35,2.35 0 1,0 -4.7,0M591.24,92.53a2.35,2.35 0 1,0 4.7,0a2.35,2.35 0 1,0 -4.7,0M591.82,92.59a2.35,2.35 0 1,0 4.7,0a2.35,2.35 0 1,0 -4.7,0M592.39,92.65a2.35,2.35 0 1,0 4.7,0a2.35,2.35 0 1,0 -4.7,0M592.96,92.71a2.35,2.35 0 1,0 4.7,0a2.35,2.35 0 1,0 -4.7,0M593.53,92.77a2.35,2.35 0 1,0 4.7,0a2.35,2.35 0 1,0 -4.7,0M594.1,92.83a2.35,2.35 0 1,0 4.7,0a2.35,2.35 0 1,0 -4.7,0M594.67,92.89a2.35,2.35 0 1,0 4.7,0a2.35,2.35 0 1,0 -4.7,0M595.24,92.95a2.35,2.35 0 1,0 4.7,0a2.35,2.35 0 1,0 -4.7,0M595.81,93.01a2.35,2.35 0 1,0 4.7,0a2.35,2.35 0 1,0 -4.7,0M596.39,93.07a2.35,2.35 0 1,0 4.7,0a2.35,2.35 0 1,0 -4.7,0M596.96,93.13a2.35,2.35 0 1,0 4.7,0a2.35,2.35 0 1,0 -4.7,0M597.53,93.19a2.35,2.35 0 1,0 4.7,0a2.35,2.35 0 1,0 -4.7,0M598.1,93.26a2.35,2.35 0 1,0 4.7,0a2.35,2.35 0 1,0 -4.7,0M598.67,93.34a2.35,2.35 0 1,0 4.7,0a2.35,2.35 0 1,0 -4.7,0M599.24,93.42a2.35,2.35 0 1,0 4.7,0a2.35,2.35 0 1,0 -4.7,0M599.81,93.5a2.35,2.35 0 1,0 4.7,0a2.35,2.35 0 1,0 -4.7,0M600.38,93.58a2.35,2.35 0 1,0 4.7,0a2.35,2.35 0 1,0 -4.7,0M600.96,93.66a2.35,2.35 0 1,0 4.7,0a2.35,2.35 0 1,0 -4.7,0M601.53,93.74a2.35,2.35 0 1,0 4.7,0a2.35,2.35 0 1,0 -4.7,0M602.1,93.82a2.35,2.35 0 1,0 4.7,0a2.35,2.35 0 1,0 -4.7,0M602.67,93.9a2.35,2.35 0 1,0 4.7,0a2.35,2.35 0 1,0 -4.7,0M603.24,93.98a2.35,2.35 0 1,0 4.7,0a2.35,2.35 0 1,0 -4.7,0M603.81,94.06a2.35,2.35 0 1,0 4.7,0a2.35,2.35 0 1,0 -4.7,0M604.38,94.14a2.35,2.35 0 1,0 4.7,0a2.35,2.35 0 1,0 -4.7,0M604.95,94.22a2.35,2.35 0 1,0 4.7,0a2.35,2.35 0 1,0 -4.7,0M605.52,94.3a2.35,2.35 0 1,0 4.7,0a2.35,2.35 0 1,0 -4.7,0M606.1,94.38a2.35,2.35 0 1,0 4.7,0a2.35,2.35 0 1,0 -4.7,0M606.67,94.46a2.35,2.35 0 1,0 4.7,0a2.35,2.35 0 1,0 -4.7,0M607.24,94.54a2.35,2.35 0 1,0 4.7,0a2.35,2.35 0 1,0 -4.7,0M607.81,94.62a2.35,2.35 0 1,0 4.7,0a2.35,2.35 0 1,0 -4.7,0M608.38,94.7a2.35,2.35 0 1,0 4.7,0a2.35,2.35 0 1,0 -4.7,0M608.95,94.78a2.35,2.35 0 1,0 4.7,0a2.35,2.35 0 1,0 -4.7,0M609.52,94.86a2.35,2.35 0 1,0 4.7,0a2.35,2.35 0 1,0 -4.7,0M610.09,94.94a2.35,2.35 0 1,0 4.7,0a2.35,2.35 0 1,0 -4.7,0M610.67,95.02a2.35,2.35 0 1,0 4.7,0a2.35,2.35 0 1,0 -4.7,0M611.24,95.1a2.35,2.35 0 1,0 4.7,0a2.35,2.35 0 1,0 -4.7,0M611.81,95.18a2.35,2.35 0 1,0 4.7,0a2.35,2.35 0 1,0 -4.7,0M612.38,95.26a2.35,2.35 0 1,0 4.7,0a2.35,2.35 0 1,0 -4.7,0M612.95,95.34a2.35,2.35 0 1,0 4.7,0a2.35,2.35 0 1,0 -4.7,0M613.52,95.42a2.35,2.35 0 1,0 4.7,0a2.35,2.35 0 1,0 -4.7,0M614.09,95.5a2.35,2.35 0 1,0 4.7,0a2.35,2.35 0 1,0 -4.7,0M614.66,95.58a2.35,2.35 0 1,0 4.7,0a2.35,2.35 0 1,0 -4.7,0M615.24,95.66a2.35,2.35 0 1,0 4.7,0a2.35,2.35 0 1,0 -4.7,0M615.81,95.74a2.35,2.35 0 1,0 4.7,0a2.35,2.35 0 1,0 -4.7,0M616.38,95.82a2.35,2.35 0 1,0 4.7,0a2.35,2.35 0 1,0 -4.7,0M616.95,95.9a2.35,2.35 0 1,0 4.7,0a2.35,2.35 0 1,0 -4.7,0M617.52,95.98a2.35,2.35 0 1,0 4.7,0a2.35,2.35 0 1,0 -4.7,0M618.09,96.06a2.35,2.35 0 1,0 4.7,0a2.35,2.35 0 1,0 -4.7,0M618.66,96.13a2.35,2.35 0 1,0 4.7,0a2.35,2.35 0 1,0 -4.7,0M619.23,96.21a2.35,2.35 0 1,0 4.7,0a2.35,2.35 0 1,0 -4.7,0M619.81,96.28a2.35,2.35 0 1,0 4.7,0a2.35,2.35 0 1,0 -4.7,0M620.38,96.35a2.35,2.35 0 1,0 4.7,0a2.35,2.35 0 1,0 -4.7,0M620.95,96.43a2.35,2.35 0 1,0 4.7,0a2.35,2.35 0 1,0 -4.7,0M621.52,96.5a2.35,2.35 0 1,0 4.7,0a2.35,2.35 0 1,0 -4.7,0M622.09,96.58a2.35,2.35 0 1,0 4.7,0a2.35,2.35 0 1,0 -4.7,0M622.66,96.65a2.35,2.35 0 1,0 4.7,0a2.35,2.35 0 1,0 -4.7,0M623.23,96.73a2.35,2.35 0 1,0 4.7,0a2.35,2.35 0 1,0 -4.7,0M623.8,96.8a2.35,2.35 0 1,0 4.7,0a2.35,2.35 0 1,0 -4.7,0M624.38,96.87a2.35,2.35 0 1,0 4.7,0a2.35,2.35 0 1,0 -4.7,0M624.95,96.95a2.35,2.35 0 1,0 4.7,0a2.35,2.35 0 1,0 -4.7,0M625.52,97.02a2.35,2.35 0 1,0 4.7,0a2.35,2.35 0 1,0 -4.7,0M626.09,97.1a2.35,2.35 0 1,0 4.7,0a2.35,2.35 0 1,0 -4.7,0M626.66,97.17a2.35,2.35 0 1,0 4.7,0a2.35,2.35 0 1,0 -4.7,0M627.23,97.25a2.35,2.35 0 1,0 4.7,0a2.35,2.35 0 1,0 -4.7,0M627.8,97.32a2.35,2.35 0 1,0 4.7,0a2.35,2.35 0 1,0 -4.7,0M628.37,97.39a2.35,2.35 0 1,0 4.7,0a2.35,2.35 0 1,0 -4.7,0M628.95,97.47a2.35,2.35 0 1,0 4.7,0a2.35,2.35 0 1,0 -4.7,0M629.52,97.54a2.35,2.35 0 1,0 4.7,0a2.35,2.35 0 1,0 -4.7,0M630.09,97.62a2.35,2.35 0 1,0 4.7,0a2.35,2.35 0 1,0 -4.7,0M630.66,97.69a2.35,2.35 0 1,0 4.7,0a2.35,2.35 0 1,0 -4.7,0M631.23,97.77a2.35,2.35 0 1,0 4.7,0a2.35,2.35 0 1,0 -4.7,0M631.8,97.84a2.35,2.35 0 1,0 4.7,0a2.35,2.35 0 1,0 -4.7,0M632.37,97.91a2.35,2.35 0 1,0 4.7,0a2.35,2.35 0 1,0 -4.7,0M632.94,97.99a2.35,2.35 0 1,0 4.7,0a2.35,2.35 0 1,0 -4.7,0M633.52,98.06a2.35,2.35 0 1,0 4.7,0a2.35,2.35 0 1,0 -4.7,0M634.09,98.14a2.35,2.35 0 1,0 4.7,0a2.35,2.35 0 1,0 -4.7,0M634.66,98.21a2.35,2.35 0 1,0 4.7,0a2.35,2.35 0 1,0 -4.7,0M635.23,98.29a2.35,2.35 0 1,0 4.7,0a2.35,2.35 0 1,0 -4.7,0M635.8,98.36a2.35,2.35 0 1,0 4.7,0a2.35,2.35 0 1,0 -4.7,0M636.37,98.43a2.35,2.35 0 1,0 4.7,0a2.35,2.35 0 1,0 -4.7,0M636.94,98.51a2.35,2.35 0 1,0 4.7,0a2.35,2.35 0 1,0 -4.7,0M637.51,98.58a2.35,2.35 0 1,0 4.7,0a2.35,2.35 0 1,0 -4.7,0M638.09,98.66a2.35,2.35 0 1,0 4.7,0a2.35,2.35 0 1,0 -4.7,0M638.66,98.73a2.35,2.35 0 1,0 4.7,0a2.35,2.35 0 1,0 -4.7,0M639.23,98.8a2.35,2.35 0 1,0 4.7,0a2.35,2.35 0 1,0 -4.7,0M639.8,98.88a2.35,2.35 0 1,0 4.7,0a2.35,2.35 0 1,0 -4.7,0M640.37,98.95a2.35,2.35 0 1,0 4.7,0a2.35,2.35 0 1,0 -4.7,0M640.94,99.02a2.35,2.35 0 1,0 4.7,0a2.35,2.35 0 1,0 -4.7,0M641.51,99.1a2.35,2.35 0 1,0 4.7,0a2.35,2.35 0 1,0 -4.7,0M642.08,99.17a2.35,2.35 0 1,0 4.7,0a2.35,2.35 0 1,0 -4.7,0M642.66,99.24a2.35,2.35 0 1,0 4.7,0a2.35,2.35 0 1,0 -4.7,0M643.23,99.32a2.35,2.35 0 1,0 4.7,0a2.35,2.35 0 1,0 -4.7,0M643.8,99.39a2.35,2.35 0 1,0 4.7,0a2.35,2.35 0 1,0 -4.7,0M644.37,99.46a2.35,2.35 0 1,0 4.7,0a2.35,2.35 0 1,0 -4.7,0M644.94,99.54a2.35,2.35 0 1,0 4.7,0a2.35,2.35 0 1,0 -4.7,0M645.51,99.61a2.35,2.35 0 1,0 4.7,0a2.35,2.35 0 1,0 -4.7,0M646.08,99.68a2.35,2.35 0 1,0 4.7,0a2.35,2.35 0 1,0 -4.7,0M646.65,99.76a2.35,2.35 0 1,0 4.7,0a2.35,2.35 0 1,0 -4.7,0M647.23,99.83a2.35,2.35 0 1,0 4.7,0a2.35,2.35 0 1,0 -4.7,0M647.8,99.9a2.35,2.35 0 1,0 4.7,0a2.35,2.35 0 1,0 -4.7,0M648.37,99.98a2.35,2.35 0 1,0 4.7,0a2.35,2.35 0 1,0 -4.7,0M648.94,100.05a2.35,2.35 0 1,0 4.7,0a2.35,2.35 0 1,0 -4.7,0M649.51,100.12a2.35,2.35 0 1,0 4.7,0a2.35,2.35 0 1,0 -4.7,0M650.08,100.2a2.35,2.35 0 1,0 4.7,0a2.35,2.35 0 1,0 -4.7,0M650.65,100.27a2.35,2.35 0 1,0 4.7,0a2.35,2.35 0 1,0 -4.7,0M651.22,100.35a2.35,2.35 0 1,0 4.7,0a2.35,2.35 0 1,0 -4.7,0M651.8,100.42a2.35,2.35 0 1,0 4.7,0a2.35,2.35 0 1,0 -4.7,0M652.37,100.49a2.35,2.35 0 1,0 4.7,0a2.35,2.35 0 1,0 -4.7,0M652.94,100.57a2.35,2.35 0 1,0 4.7,0a2.35,2.35 0 1,0 -4.7,0M653.51,100.64a2.35,2.35 0 1,0 4.7,0a2.35,2.35 0 1,0 -4.7,0M654.08,100.71a2.35,2.35 0 1,0 4.7,0a2.35,2.35 0 1,0 -4.7,0M654.65,100.79a2.35,2.35 0 1,0 4.7,0a2.35,2.35 0 1,0 -4.7,0M655.22,100.86a2.35,2.35 0 1,0 4.7,0a2.35,2.35 0 1,0 -4.7,0M655.79,100.93a2.35,2.35 0 1,0 4.7,0a2.35,2.35 0 1,0 -4.7,0M656.37,101.01a2.35,2.35 0 1,0 4.7,0a2.35,2.35 0 1,0 -4.7,0M656.94,101.08a2.35,2.35 0 1,0 4.7,0a2.35,2.35 0 1,0 -4.7,0M657.51,101.15a2.35,2.35 0 1,0 4.7,0a2.35,2.35 0 1,0 -4.7,0M658.08,101.23a2.35,2.35 0 1,0 4.7,0a2.35,2.35 0 1,0 -4.7,0M658.65,101.3a2.35,2.35 0 1,0 4.7,0a2.35,2.35 0 1,0 -4.7,0" fill="#F7875A" stroke="none" stroke-width="0"/>
<polyline points="490.31,32.77 490.89,32.09 491.46,31.4 492.04,30.71 492.62,30.02 493.2,29.34 493.77,28.65 494.35,27.96 494.93,28.55 495.51,28.55 496.08,28.55 496.66,28.55 497.24,28.55 497.81,28.55 498.39,28.55 498.97,28.55 499.55,28.55 500.12,28.55 500.7,28.55 501.28,28.55 501.86,28.55 502.43,28.55 503.01,28.55 503.59,28.55 504.17,28.55 504.74,28.55 505.32,28.55 505.9,28.55 506.47,28.55 507.05,28.55 507.63,28.55 508.21,28.55 508.78,28.55 509.36,28.55 509.94,28.55 510.52,28.55 511.09,28.55 511.67,28.55 512.25,28.55 512.83,28.55 513.4,28.55 513.98,28.55 514.56,28.55 515.13,28.55 515.71,28.55 516.29,28.55 516.87,28.55 517.44,28.55 518.02,28.55 518.6,28.55 519.18,28.55 519.75,28.55 520.33,28.55 520.91,28.55 521.49,28.55 522.06,28.55 522.64,28.55 523.22,28.55 523.79,28.55 524.37,28.55 524.95,28.55 525.53,28.55 526.1,28.55 526.68,28.55 527.26,28.55 527.84,28.55 528.41,28.55 528.99,28.55 529.57,28.55 530.15,28.55 530.72,28.55 531.3,28.55 531.88,28.55 532.45,28.55 533.03,28.55 533.61,28.55 534.19,28.55 534.76,28.55 535.34,28.55 535.92,28.55 536.5,28.55 537.07,28.55 537.65,28.55 538.23,28.55 538.81,28.55 539.38,28.55 539.96,28.55 540.54,28.55 541.11,28.55 541.69,28.55 542.27,28.55 542.85,28.55 543.42,28.55 544,28.55 544.58,28.55 545.16,28.55 545.73,28.55 546.31,28.55 546.89,28.55 547.47,28.55 548.04,28.55 548.62,28.55 549.2,28.55 549.77,28.55 550.35,28.55 550.93,28.55 551.51,28.55 552.08,28.55 552.66,28.55 553.24,28.55 553.82,28.55 554.39,28.55 554.97,28.55 555.55,28.55 556.13,28.55 556.7,28.55 557.28,28.55 557.86,28.55 558.43,28.55 559.01,28.55 559.59,28.55 560.17,28.55 560.74,28.55 561.32,28.55 561.9,28.55 562.48,28.55 563.05,28.55 563.63,28.55 564.21,28.55 564.79,28.55 565.36,28.55 565.94,28.55 566.52,28.55 567.09,28.55 567.67,28.55 568.25,28.55 568.83,28.55 569.4,28.55 569.98,28.55 570.56,28.55 571.14,28.55 571.71,28.55 572.29,28.55 572.87,28.55 573.45,28.55 574.02,28.55 574.6,28.55 575.18,28.55 575.75,28.55 576.33,28.55 576.91,28.55 577.49,28.55 578.06,28.55 578.64,28.55 579.22,28.55 579.8,28.55 580.37,28.55 580.95,28.55 581.53,28.55 582.11,28.55 582.68,28.55 583.26,28.55 583.84,28.55 584.41,28.55 584.99,28.55 585.57,28.55 586.15,28.55 586.72,28.55 587.3,28.55 587.88,28.55 588.46,28.55 589.03,28.55 589.61,28.55 590.19,28.55 590.77,28.55 591.34,28.55 591.92,28.55 592.5,28.55 593.07,28.55 593.65,28.55 594.23,28.55 594.81,28.55 595.38,28.55 595.96,28.55 596.54,28.55 597.12,28.55 597.69,28.55 598.27,28.55 598.85,28.55 599.43,28.55 600,28.55 600.58,28.55 601.16,28.55 601.73,28.55 602.31,28.55 602.89,28.55 603.47,28.55 604.04,28.55 604.62,28.55 605.2,28.55 605.78,28.55 606.35,28.55 606.93,28.55 607.51,28.55 608.09,28.55 608.66,28.55 609.24,28.55 609.82,28.55 610.39,28.55 610.97,28.55 611.55,28.55 612.13,28.55 612.7,28.55 613.28,28.55 613.86,28.55 614.44,28.55 615.01,28.55 615.59,28.55 616.17,28.55 616.75,28.55 617.32,28.55 617.9,28.55 618.48,28.55 619.05,28.55 619.63,28.55 620.21,28.55 620.79,28.55 621.36,28.55 621.94,28.55 622.52,28.55 623.1,28.55 623.67,28.55 624.25,28.55 624.83,28.55 625.41,28.55 625.98,28.55 626.56,28.55 627.14,28.55 627.71,28.55 628.29,28.55 628.87,28.55 629.45,28.55 630.02,28.55 630.6,28.55 631.18,28.55 631.76,28.55 632.33,28.55 632.91,28.55 633.49,28.55 634.07,28.55 634.64,28.55 635.22,28.55 635.8,28.55 636.37,28.55 636.95,28.55 637.53,28.55 638.11,28.55 638.68,28.55 639.26,28.55 639.84,28.55 640.42,28.55 640.99,28.55 641.57,28.55 642.15,28.55 642.73,28.55 643.3,28.55 643.88,28.55 644.46,28.55 645.03,28.55 645.61,28.55 646.19,28.55 646.77,28.55 647.34,28.55 647.92,28.55 648.5,28.55 649.08,28.55 649.65,28.55 650.23,28.55 650.81,28.55 651.39,28.55 651.96,28.55 652.54,28.55 653.12,28.55 653.69,28.55 654.27,28.55 654.85,28.55 655.43,28.55 656,28.55 656.58,28.55 657.16,28.55 657.74,28.55 658.31,28.55 658.89,28.55 659.47,28.55 660.05,28.55 660.62,28.55 661.2,28.55" fill="none" stroke="#F9A07C" stroke-width="5.4" stroke-linejoin="round" stroke-linecap="round" />
<polyline points="488.58,25.6 489.15,34.44 489.73,40.33 490.31,32.77 490.89,32.09 491.46,31.4 492.04,30.71 492.62,30.02 493.2,29.34 493.77,28.65 494.35,27.96 494.93,29.51 495.51,28.25 496.08,27.77 496.66,28.95 497.24,29.59 497.81,28.6 498.39,28.17 498.97,27.69 499.55,29.51 500.12,29.57 500.7,28 501.28,28.18 501.86,27.35 502.43,27.78 503.01,28.63 503.59,28.77 504.17,26.53 504.74,28.78 505.32,29.17 505.9,29.44 506.47,28.48 507.05,28.44 507.63,28.82 508.21,28.6 508.78,28.34 509.36,28.01 509.94,27.69 510.52,28.39 511.09,29.96 511.67,28 512.25,29.67 512.83,28.68 513.4,29.71 513.98,28.55 514.56,29.16 515.13,28.38 515.71,25.96 516.29,28.59 516.87,27.89 517.44,29.59 518.02,28.78 518.6,28.03 519.18,28.62 519.75,28.26 520.33,28.47 520.91,29.34 521.49,28.11 522.06,29.19 522.64,27.08 523.22,28.95 523.79,28.01 524.37,28.55 524.95,27.8 525.53,29.02 526.1,27.77 526.68,28.65 527.26,27.56 527.84,28.06 528.41,28.44 528.99,29.16 529.57,27.95 530.15,28.18 530.72,27.26 531.3,28.85 531.88,28.11 532.45,28.15 533.03,28.33 533.61,28.39 534.19,28.41 534.76,29.02 535.34,29.35 535.92,28.86 536.5,28.09 537.07,27.36 537.65,27.78 538.23,27.72 538.81,27.94 539.38,28 539.96,28.41 540.54,27.94 541.11,27.16 541.69,28.81 542.27,22.66 542.85,31.99 543.42,28.36 544,27.79 544.58,27.86 545.16,29.44 545.73,26.64 546.31,27.15 546.89,28.41 547.47,27.96 548.04,28.45 548.62,29.24 549.2,28.64 549.77,28.26 550.35,27.67 550.93,27.99 551.51,28.5 552.08,27.49 552.66,23.15 553.24,15.29 553.82,31.99 554.39,28.78 554.97,29.96 555.55,29.26 556.13,28.36 556.7,28.14 557.28,27.33 557.86,29.34 558.43,28.55 559.01,28.04 559.59,28.67 560.17,30.41 560.74,27.92 561.32,23.15 561.9,27.76 562.48,21.68 563.05,31.01 563.63,28.38 564.21,26.59 564.79,28.06 565.36,28.46 565.94,27.33 566.52,28.61 567.09,27.09 567.67,29.09 568.25,28.92 568.83,27.98 569.4,27.43 569.98,28.04 570.56,28.31 571.14,29.98 571.71,29.11 572.29,29.03 572.87,28.97 573.45,28.09 574.02,28.81 574.6,27.93 575.18,28.49 575.75,28.81 576.33,28.46 576.91,28.21 577.49,27.88 578.06,28.93 578.64,28.73 579.22,29.62 579.8,27.29 580.37,27.41 580.95,28.69 581.53,28.93 582.11,29.52 582.68,28.42 583.26,28.39 583.84,26.84 584.41,28.36 584.99,29.16 585.57,30.47 586.15,27.44 586.72,28.4 587.3,29.81 587.88,28.41 588.46,29.81 589.03,25.82 589.61,27.67 590.19,28.1 590.77,28.69 591.34,30.23 591.92,28.65 592.5,29.77 593.07,28.08 593.65,30.23 594.23,29.26 594.81,27.59 595.38,27.26 595.96,29.48 596.54,29.76 597.12,27.86 597.69,27.88 598.27,29.33 598.85,29.1 599.43,29.1 600,29.48 600.58,29.08 601.16,27.57 601.73,28.01 602.31,26.93 602.89,28.62 603.47,28.66 604.04,29.32 604.62,28.65 605.2,29.58 605.78,29.95 606.35,28 606.93,27.42 607.51,27.89 608.09,27.5 608.66,28.35 609.24,29.11 609.82,28.48 610.39,28.84 610.97,29.42 611.55,29.88 612.13,29.71 612.7,28.55 613.28,28.43 613.86,28.92 614.44,27.43 615.01,28.41 615.59,28.09 616.17,27.59 616.75,29.19 617.32,30.1 617.9,27.96 618.48,29.09 619.05,27.52 619.63,28.28 620.21,27.76 620.79,27.95 621.36,30.18 621.94,27.98 622.52,29.08 623.1,29.14 623.67,28.89 624.25,27.95 624.83,27.86 625.41,27.76 625.98,29.85 626.56,29.01 627.14,30.42 627.71,28.63 628.29,28.08 628.87,29.15 629.45,28.36 630.02,28.37 630.6,24.13 631.18,29.2 631.76,29.2 632.33,29.15 632.91,27.17 633.49,27.69 634.07,28.65 634.64,28.37 635.22,28.46 635.8,28.39 636.37,25.11 636.95,28.81 637.53,29.54 638.11,29.05 638.68,27.25 639.26,28.13 639.84,28.5 640.42,28.72 640.99,28.5 641.57,28.27 642.15,29.06 642.73,28.4 643.3,28.36 643.88,29.14 644.46,29.17 645.03,29.33 645.61,29.39 646.19,27.85 646.77,30.4 647.34,28.76 647.92,29.03 648.5,29.04 649.08,28.47 649.65,27.66 650.23,28.49 650.81,28.66 651.39,29.03 651.96,28.65 652.54,37.39 653.12,13.82 653.69,16.77 654.27,34.44 654.85,20.69 655.43,29.64 656,27.69 656.58,28.27 657.16,28.74 657.74,27.4 658.31,29.07 658.89,27.96 659.47,27.92 660.05,29.76 660.62,29.77 661.2,29.28" fill="none" stroke="#F9A07C" stroke-width="0.6" stroke-linejoin="round" stroke-linecap="round" />
<path d="M488.86,32.77a1.45,1.45 0 1,0 2.9,0a1.45,1.45 0 1,0 -2.9,0M489.44,32.09a1.45,1.45 0 1,0 2.9,0a1.45,1.45 0 1,0 -2.9,0M490.01,31.4a1.45,1.45 0 1,0 2.9,0a1.45,1.45 0 1,0 -2.9,0M490.59,30.71a1.45,1.45 0 1,0 2.9,0a1.45,1.45 0 1,0 -2.9,0M491.17,30.02a1.45,1.45 0 1,0 2.9,0a1.45,1.45 0 1,0 -2.9,0M495.79,29.59a1.45,1.45 0 1,0 2.9,0a1.45,1.45 0 1,0 -2.9,0M498.67,29.57a1.45,1.45 0 1,0 2.9,0a1.45,1.45 0 1,0 -2.9,0M500.41,27.35a1.45,1.45 0 1,0 2.9,0a1.45,1.45 0 1,0 -2.9,0M502.72,26.53a1.45,1.45 0 1,0 2.9,0a1.45,1.45 0 1,0 -2.9,0M509.64,29.96a1.45,1.45 0 1,0 2.9,0a1.45,1.45 0 1,0 -2.9,0M510.8,29.67a1.45,1.45 0 1,0 2.9,0a1.45,1.45 0 1,0 -2.9,0M511.95,29.71a1.45,1.45 0 1,0 2.9,0a1.45,1.45 0 1,0 -2.9,0M514.26,25.96a1.45,1.45 0 1,0 2.9,0a1.45,1.45 0 1,0 -2.9,0M515.99,29.59a1.45,1.45 0 1,0 2.9,0a1.45,1.45 0 1,0 -2.9,0M521.19,27.08a1.45,1.45 0 1,0 2.9,0a1.45,1.45 0 1,0 -2.9,0M525.81,27.56a1.45,1.45 0 1,0 2.9,0a1.45,1.45 0 1,0 -2.9,0M529.27,27.26a1.45,1.45 0 1,0 2.9,0a1.45,1.45 0 1,0 -2.9,0M535.62,27.36a1.45,1.45 0 1,0 2.9,0a1.45,1.45 0 1,0 -2.9,0M539.66,27.16a1.45,1.45 0 1,0 2.9,0a1.45,1.45 0 1,0 -2.9,0M544.28,26.64a1.45,1.45 0 1,0 2.9,0a1.45,1.45 0 1,0 -2.9,0M544.86,27.15a1.45,1.45 0 1,0 2.9,0a1.45,1.45 0 1,0 -2.9,0M550.63,27.49a1.45,1.45 0 1,0 2.9,0a1.45,1.45 0 1,0 -2.9,0M553.52,29.96a1.45,1.45 0 1,0 2.9,0a1.45,1.45 0 1,0 -2.9,0M555.83,27.33a1.45,1.45 0 1,0 2.9,0a1.45,1.45 0 1,0 -2.9,0M558.72,30.41a1.45,1.45 0 1,0 2.9,0a1.45,1.45 0 1,0 -2.9,0M562.76,26.59a1.45,1.45 0 1,0 2.9,0a1.45,1.45 0 1,0 -2.9,0M564.49,27.33a1.45,1.45 0 1,0 2.9,0a1.45,1.45 0 1,0 -2.9,0M565.64,27.09a1.45,1.45 0 1,0 2.9,0a1.45,1.45 0 1,0 -2.9,0M567.95,27.43a1.45,1.45 0 1,0 2.9,0a1.45,1.45 0 1,0 -2.9,0M569.69,29.98a1.45,1.45 0 1,0 2.9,0a1.45,1.45 0 1,0 -2.9,0M577.77,29.62a1.45,1.45 0 1,0 2.9,0a1.45,1.45 0 1,0 -2.9,0M578.35,27.29a1.45,1.45 0 1,0 2.9,0a1.45,1.45 0 1,0 -2.9,0M578.92,27.41a1.45,1.45 0 1,0 2.9,0a1.45,1.45 0 1,0 -2.9,0M582.39,26.84a1.45,1.45 0 1,0 2.9,0a1.45,1.45 0 1,0 -2.9,0M584.12,30.47a1.45,1.45 0 1,0 2.9,0a1.45,1.45 0 1,0 -2.9,0M584.7,27.44a1.45,1.45 0 1,0 2.9,0a1.45,1.45 0 1,0 -2.9,0M585.85,29.81a1.45,1.45 0 1,0 2.9,0a1.45,1.45 0 1,0 -2.9,0M587.01,29.81a1.45,1.45 0 1,0 2.9,0a1.45,1.45 0 1,0 -2.9,0M587.58,25.82a1.45,1.45 0 1,0 2.9,0a1.45,1.45 0 1,0 -2.9,0M589.89,30.23a1.45,1.45 0 1,0 2.9,0a1.45,1.45 0 1,0 -2.9,0M591.05,29.77a1.45,1.45 0 1,0 2.9,0a1.45,1.45 0 1,0 -2.9,0M592.2,30.23a1.45,1.45 0 1,0 2.9,0a1.45,1.45 0 1,0 -2.9,0M593.93,27.26a1.45,1.45 0 1,0 2.9,0a1.45,1.45 0 1,0 -2.9,0M595.09,29.76a1.45,1.45 0 1,0 2.9,0a1.45,1.45 0 1,0 -2.9,0M599.71,27.57a1.45,1.45 0 1,0 2.9,0a1.45,1.45 0 1,0 -2.9,0M600.86,26.93a1.45,1.45 0 1,0 2.9,0a1.45,1.45 0 1,0 -2.9,0M603.75,29.58a1.45,1.45 0 1,0 2.9,0a1.45,1.45 0 1,0 -2.9,0M604.33,29.95a1.45,1.45 0 1,0 2.9,0a1.45,1.45 0 1,0 -2.9,0M605.48,27.42a1.45,1.45 0 1,0 2.9,0a1.45,1.45 0 1,0 -2.9,0M606.64,27.5a1.45,1.45 0 1,0 2.9,0a1.45,1.45 0 1,0 -2.9,0M610.1,29.88a1.45,1.45 0 1,0 2.9,0a1.45,1.45 0 1,0 -2.9,0M610.68,29.71a1.45,1.45 0 1,0 2.9,0a1.45,1.45 0 1,0 -2.9,0M612.99,27.43a1.45,1.45 0 1,0 2.9,0a1.45,1.45 0 1,0 -2.9,0M615.87,30.1a1.45,1.45 0 1,0 2.9,0a1.45,1.45 0 1,0 -2.9,0M617.6,27.52a1.45,1.45 0 1,0 2.9,0a1.45,1.45 0 1,0 -2.9,0M619.91,30.18a1.45,1.45 0 1,0 2.9,0a1.45,1.45 0 1,0 -2.9,0M624.53,29.85a1.45,1.45 0 1,0 2.9,0a1.45,1.45 0 1,0 -2.9,0M625.69,30.42a1.45,1.45 0 1,0 2.9,0a1.45,1.45 0 1,0 -2.9,0M631.46,27.17a1.45,1.45 0 1,0 2.9,0a1.45,1.45 0 1,0 -2.9,0M636.08,29.54a1.45,1.45 0 1,0 2.9,0a1.45,1.45 0 1,0 -2.9,0M637.23,27.25a1.45,1.45 0 1,0 2.9,0a1.45,1.45 0 1,0 -2.9,0M645.32,30.4a1.45,1.45 0 1,0 2.9,0a1.45,1.45 0 1,0 -2.9,0M653.98,29.64a1.45,1.45 0 1,0 2.9,0a1.45,1.45 0 1,0 -2.9,0M656.29,27.4a1.45,1.45 0 1,0 2.9,0a1.45,1.45 0 1,0 -2.9,0M658.6,29.76a1.45,1.45 0 1,0 2.9,0a1.45,1.45 0 1,0 -2.9,0M659.17,29.77a1.45,1.45 0 1,0 2.9,0a1.45,1.45 0 1,0 -2.9,0" fill="none" stroke="#F9A07C" stroke-width="0.9"/>
<path d="M487.13,25.6a1.45,1.45 0 1,0 2.9,0a1.45,1.45 0 1,0 -2.9,0M487.7,34.44a1.45,1.45 0 1,0 2.9,0a1.45,1.45 0 1,0 -2.9,0M488.28,40.33a1.45,1.45 0 1,0 2.9,0a1.45,1.45 0 1,0 -2.9,0M540.82,22.66a1.45,1.45 0 1,0 2.9,0a1.45,1.45 0 1,0 -2.9,0M541.4,31.99a1.45,1.45 0 1,0 2.9,0a1.45,1.45 0 1,0 -2.9,0M551.21,23.15a1.45,1.45 0 1,0 2.9,0a1.45,1.45 0 1,0 -2.9,0M551.79,15.29a1.45,1.45 0 1,0 2.9,0a1.45,1.45 0 1,0 -2.9,0M552.37,31.99a1.45,1.45 0 1,0 2.9,0a1.45,1.45 0 1,0 -2.9,0M559.87,23.15a1.45,1.45 0 1,0 2.9,0a1.45,1.45 0 1,0 -2.9,0M561.03,21.68a1.45,1.45 0 1,0 2.9,0a1.45,1.45 0 1,0 -2.9,0M561.6,31.01a1.45,1.45 0 1,0 2.9,0a1.45,1.45 0 1,0 -2.9,0M629.15,24.13a1.45,1.45 0 1,0 2.9,0a1.45,1.45 0 1,0 -2.9,0M634.92,25.11a1.45,1.45 0 1,0 2.9,0a1.45,1.45 0 1,0 -2.9,0M651.09,37.39a1.45,1.45 0 1,0 2.9,0a1.45,1.45 0 1,0 -2.9,0M651.67,13.82a1.45,1.45 0 1,0 2.9,0a1.45,1.45 0 1,0 -2.9,0M652.24,16.77a1.45,1.45 0 1,0 2.9,0a1.45,1.45 0 1,0 -2.9,0M652.82,34.44a1.45,1.45 0 1,0 2.9,0a1.45,1.45 0 1,0 -2.9,0M653.4,20.69a1.45,1.45 0 1,0 2.9,0a1.45,1.45 0 1,0 -2.9,0" fill="#fff" stroke="#F9A07C" stroke-width="1"/>
<ellipse cx="622" cy="28.2" rx="10" ry="5.8" fill="none" stroke="#C4C4C4" stroke-width="1.25" stroke-dasharray="2.6 1.5"/>
<polyline points="621.4,34 621.4,41 651,41" fill="none" stroke="#C4C4C4" stroke-width="1.4" stroke-linejoin="round" stroke-linecap="round" stroke-linecap="butt" stroke-linejoin="miter"/>
<polygon points="655.5,41 650.5,38.3 651.25,41 650.5,43.7" fill="#C4C4C4"/>
<ellipse cx="507.6" cy="86.5" rx="9.6" ry="5.5" fill="none" stroke="#C4C4C4" stroke-width="1.25" stroke-dasharray="2.6 1.5"/>
<polyline points="508.1,92 508.1,103.9 497,103.9" fill="none" stroke="#C4C4C4" stroke-width="1.4" stroke-linejoin="round" stroke-linecap="round" stroke-linecap="butt" stroke-linejoin="miter"/>
<polygon points="492.3,103.9 497.3,101.2 496.55,103.9 497.3,106.6" fill="#C4C4C4"/>
<line x1="488" y1="4.4" x2="661.2" y2="4.4" stroke="#444" stroke-width="1.1" />
<line x1="661.2" y1="4.4" x2="661.2" y2="144" stroke="#000" stroke-width="0.9" />
<line x1="488" y1="3.9" x2="488" y2="144" stroke="#666" stroke-width="1.5" />
<line x1="488" y1="144" x2="661.7" y2="144" stroke="#666" stroke-width="1.5" />
<line x1="485.2" y1="144" x2="488" y2="144" stroke="#000" stroke-width="0.8" />
<text x="483.8" y="146.05" font-size="5.5" font-weight="bold" text-anchor="end" fill="#000"  stroke="#000" stroke-width="0.3">100</text>
<line x1="486.5" y1="130.04" x2="488" y2="130.04" stroke="#000" stroke-width="0.8" />
<line x1="485.2" y1="116.08" x2="488" y2="116.08" stroke="#000" stroke-width="0.8" />
<text x="483.8" y="118.13" font-size="5.5" font-weight="bold" text-anchor="end" fill="#000"  stroke="#000" stroke-width="0.3">150</text>
<line x1="486.5" y1="102.12" x2="488" y2="102.12" stroke="#000" stroke-width="0.8" />
<line x1="485.2" y1="88.16" x2="488" y2="88.16" stroke="#000" stroke-width="0.8" />
<text x="483.8" y="90.21" font-size="5.5" font-weight="bold" text-anchor="end" fill="#000"  stroke="#000" stroke-width="0.3">200</text>
<line x1="486.5" y1="74.2" x2="488" y2="74.2" stroke="#000" stroke-width="0.8" />
<line x1="485.2" y1="60.24" x2="488" y2="60.24" stroke="#000" stroke-width="0.8" />
<text x="483.8" y="62.29" font-size="5.5" font-weight="bold" text-anchor="end" fill="#000"  stroke="#000" stroke-width="0.3">250</text>
<line x1="486.5" y1="46.28" x2="488" y2="46.28" stroke="#000" stroke-width="0.8" />
<line x1="485.2" y1="32.32" x2="488" y2="32.32" stroke="#000" stroke-width="0.8" />
<text x="483.8" y="34.37" font-size="5.5" font-weight="bold" text-anchor="end" fill="#000"  stroke="#000" stroke-width="0.3">300</text>
<line x1="486.5" y1="18.36" x2="488" y2="18.36" stroke="#000" stroke-width="0.8" />
<line x1="485.2" y1="4.4" x2="488" y2="4.4" stroke="#000" stroke-width="0.8" />
<text x="483.8" y="6.45" font-size="5.5" font-weight="bold" text-anchor="end" fill="#000"  stroke="#000" stroke-width="0.3">350</text>
<line x1="488" y1="144" x2="488" y2="146.6" stroke="#000" stroke-width="0.8" />
<text x="488" y="153.3" font-size="5.5" font-weight="bold" text-anchor="middle" fill="#000"  stroke="#000" stroke-width="0.3">0</text>
<line x1="502.43" y1="144" x2="502.43" y2="145.4" stroke="#000" stroke-width="0.8" />
<line x1="516.87" y1="144" x2="516.87" y2="146.6" stroke="#000" stroke-width="0.8" />
<text x="516.87" y="153.3" font-size="5.5" font-weight="bold" text-anchor="middle" fill="#000"  stroke="#000" stroke-width="0.3">50</text>
<line x1="531.3" y1="144" x2="531.3" y2="145.4" stroke="#000" stroke-width="0.8" />
<line x1="545.73" y1="144" x2="545.73" y2="146.6" stroke="#000" stroke-width="0.8" />
<text x="545.73" y="153.3" font-size="5.5" font-weight="bold" text-anchor="middle" fill="#000"  stroke="#000" stroke-width="0.3">100</text>
<line x1="560.17" y1="144" x2="560.17" y2="145.4" stroke="#000" stroke-width="0.8" />
<line x1="574.6" y1="144" x2="574.6" y2="146.6" stroke="#000" stroke-width="0.8" />
<text x="574.6" y="153.3" font-size="5.5" font-weight="bold" text-anchor="middle" fill="#000"  stroke="#000" stroke-width="0.3">150</text>
<line x1="589.03" y1="144" x2="589.03" y2="145.4" stroke="#000" stroke-width="0.8" />
<line x1="603.47" y1="144" x2="603.47" y2="146.6" stroke="#000" stroke-width="0.8" />
<text x="603.47" y="153.3" font-size="5.5" font-weight="bold" text-anchor="middle" fill="#000"  stroke="#000" stroke-width="0.3">200</text>
<line x1="617.9" y1="144" x2="617.9" y2="145.4" stroke="#000" stroke-width="0.8" />
<line x1="632.33" y1="144" x2="632.33" y2="146.6" stroke="#000" stroke-width="0.8" />
<text x="632.33" y="153.3" font-size="5.5" font-weight="bold" text-anchor="middle" fill="#000"  stroke="#000" stroke-width="0.3">250</text>
<line x1="646.77" y1="144" x2="646.77" y2="145.4" stroke="#000" stroke-width="0.8" />
<line x1="661.2" y1="144" x2="661.2" y2="146.6" stroke="#000" stroke-width="0.8" />
<text x="661.2" y="153.3" font-size="5.5" font-weight="bold" text-anchor="middle" fill="#000"  stroke="#000" stroke-width="0.3">300</text>
<line x1="661.2" y1="121.84" x2="664" y2="121.84" stroke="#000" stroke-width="0.8" />
<text x="665.4" y="123.89" font-size="5.5" font-weight="bold" text-anchor="start" fill="#000"  stroke="#000" stroke-width="0.3">90</text>
<line x1="661.2" y1="112.02" x2="662.7" y2="112.02" stroke="#000" stroke-width="0.8" />
<line x1="661.2" y1="102.2" x2="664" y2="102.2" stroke="#000" stroke-width="0.8" />
<text x="665.4" y="104.25" font-size="5.5" font-weight="bold" text-anchor="start" fill="#000"  stroke="#000" stroke-width="0.3">92</text>
<line x1="661.2" y1="92.38" x2="662.7" y2="92.38" stroke="#000" stroke-width="0.8" />
<line x1="661.2" y1="82.56" x2="664" y2="82.56" stroke="#000" stroke-width="0.8" />
<text x="665.4" y="84.61" font-size="5.5" font-weight="bold" text-anchor="start" fill="#000"  stroke="#000" stroke-width="0.3">94</text>
<line x1="661.2" y1="72.74" x2="662.7" y2="72.74" stroke="#000" stroke-width="0.8" />
<line x1="661.2" y1="62.92" x2="664" y2="62.92" stroke="#000" stroke-width="0.8" />
<text x="665.4" y="64.97" font-size="5.5" font-weight="bold" text-anchor="start" fill="#000"  stroke="#000" stroke-width="0.3">96</text>
<line x1="661.2" y1="53.1" x2="662.7" y2="53.1" stroke="#000" stroke-width="0.8" />
<line x1="661.2" y1="43.28" x2="664" y2="43.28" stroke="#000" stroke-width="0.8" />
<text x="665.4" y="45.33" font-size="5.5" font-weight="bold" text-anchor="start" fill="#000"  stroke="#000" stroke-width="0.3">98</text>
<line x1="661.2" y1="33.46" x2="662.7" y2="33.46" stroke="#000" stroke-width="0.8" />
<line x1="661.2" y1="23.64" x2="664" y2="23.64" stroke="#000" stroke-width="0.8" />
<text x="665.4" y="25.69" font-size="5.5" font-weight="bold" text-anchor="start" fill="#000"  stroke="#000" stroke-width="0.3">100</text>
<line x1="661.2" y1="13.82" x2="662.7" y2="13.82" stroke="#000" stroke-width="0.8" />
<line x1="661.2" y1="4" x2="664" y2="4" stroke="#000" stroke-width="0.8" />
<text x="665.4" y="6.05" font-size="5.5" font-weight="bold" text-anchor="start" fill="#000"  stroke="#000" stroke-width="0.3">102</text>
<line x1="661.2" y1="134.3" x2="664" y2="134.3" stroke="#000" stroke-width="0.8" />
<text x="665.4" y="136.35" font-size="5.5" font-weight="bold" text-anchor="start" fill="#000"  stroke="#000" stroke-width="0.3">78</text>
<polygon points="658.4,126 663,121.2 663,123 658.4,127.8" fill="#fff"/>
<line x1="658.2" y1="126" x2="663.2" y2="121" stroke="#222" stroke-width="0.9" />
<line x1="658.2" y1="127.9" x2="663.2" y2="122.9" stroke="#222" stroke-width="0.9" />
<text x="574.6" y="165.3" font-size="7.2" font-weight="bold" text-anchor="middle" fill="#000"  stroke="#000" stroke-width="0.22">Cycle number</text>
<text x="469.8" y="75.5" font-size="7.2" font-weight="bold" text-anchor="middle" fill="#000" transform="rotate(-90 469.8 75.5)"  stroke="#000" stroke-width="0.22">Capacity (mAh g<tspan dy="-2.4" font-size="4.6">-1</tspan><tspan dy="2.4">)</tspan></text>
<text x="684.2" y="74.2" font-size="7.2" font-weight="bold" text-anchor="middle" fill="#000" transform="rotate(-90 684.2 74.2)"  stroke="#000" stroke-width="0.22">Coulombic efficiency (%)</text>
<line x1="496" y1="134.6" x2="514" y2="134.6" stroke="#F7875A" stroke-width="1.1" />
<circle cx="505.1" cy="134.6" r="2.15" fill="#F7875A" stroke="none" stroke-width="0"/>
<line x1="519" y1="134.6" x2="535.9" y2="134.6" stroke="#F7875A" stroke-width="1.1" />
<circle cx="527.4" cy="134.6" r="1.75" fill="#fff" stroke="#F7875A" stroke-width="0.95"/>
<text x="539.8" y="137.2" font-size="7.2" font-weight="bold" text-anchor="start" fill="#000"  stroke="#000" stroke-width="0.22">E-LiFAS</text>
<text x="574.4" y="54.9" font-size="8.2" font-weight="bold" text-anchor="middle" fill="#000"  stroke="#000" stroke-width="0.22">Li (300 μm)||NCM811 (3 mg cm<tspan dy="-2.6" font-size="5.2">-2</tspan><tspan dy="2.6">), 3.0-4.5 V</tspan></text>
<text x="574.4" y="68.9" font-size="8.2" font-weight="bold" text-anchor="middle" fill="#000"  stroke="#000" stroke-width="0.22">1C charge/ 1C discharge, 60 <tspan font-size="7.2" dy="0.3">°</tspan><tspan dx="0.8" dy="-0.3">C</tspan></text>
<text x="572.8" y="82.8" font-size="8.2" font-weight="bold" text-anchor="middle" fill="#000"  stroke="#000" stroke-width="0.22">1C = 0.6 mA cm<tspan dy="-2.6" font-size="5.2">-1</tspan><tspan dy="2.6"></tspan></text>
<polyline points="46,198.2 46.1,198.59 46.24,199.11 46.4,199.74 46.57,200.43 46.76,201.15 46.96,201.86 47.15,202.52 47.33,203.1 47.51,203.6 47.68,204.06 47.86,204.48 48.04,204.89 48.22,205.3 48.41,205.71 48.6,206.14 48.8,206.6 49,207.1 49.21,207.63 49.43,208.19 49.65,208.74 49.87,209.3 50.09,209.83 50.31,210.34 50.53,210.8 50.75,211.22 50.97,211.61 51.19,211.97 51.42,212.31 51.64,212.64 51.87,212.96 52.1,213.28 52.33,213.6 52.57,213.92 52.8,214.24 53.04,214.56 53.28,214.86 53.53,215.17 53.79,215.47 54.05,215.76 54.33,216.05 54.63,216.34 54.93,216.64 55.24,216.93 55.57,217.21 55.9,217.49 56.24,217.75 56.58,218 56.93,218.22 57.29,218.42 57.64,218.6 58.01,218.76 58.38,218.91 58.76,219.05 59.16,219.17 59.57,219.29 60,219.41 60.45,219.51 60.93,219.6 61.43,219.67 61.94,219.74 62.46,219.81 62.98,219.88 63.49,219.95 64,220.04 64.49,220.14 64.98,220.24 65.47,220.34 65.96,220.45 66.45,220.56 66.95,220.68 67.47,220.81 68,220.95 68.55,221.09 69.13,221.24 69.73,221.39 70.33,221.55 70.93,221.73 71.53,221.91 72.11,222.12 72.66,222.35 73.2,222.61 73.73,222.89 74.24,223.19 74.75,223.51 75.24,223.84 75.73,224.16 76.2,224.49 76.66,224.8 77.1,225.1 77.51,225.4 77.9,225.7 78.29,226 78.68,226.31 79.09,226.61 79.52,226.93 80,227.25 80.51,227.58 81.05,227.92 81.62,228.27 82.2,228.62 82.81,228.97 83.42,229.33 84.04,229.69 84.66,230.05 85.29,230.41 85.92,230.77 86.56,231.14 87.2,231.51 87.87,231.88 88.55,232.25 89.26,232.62 90,232.99 90.77,233.36 91.57,233.74 92.4,234.12 93.25,234.5 94.1,234.88 94.96,235.26 95.82,235.63 96.66,236 97.48,236.35 98.27,236.69 99.04,237.02 99.83,237.35 100.63,237.68 101.47,238.03 102.37,238.4 103.33,238.8 104.39,239.24 105.54,239.71 106.76,240.21 108.01,240.72 109.26,241.24 110.48,241.74 111.62,242.21 112.66,242.65 113.57,243.05 114.36,243.42 115.08,243.76 115.76,244.09 116.46,244.42 117.2,244.75 118.03,245.09 118.99,245.45 120.09,245.83 121.29,246.23 122.56,246.63 123.89,247.04 125.25,247.44 126.62,247.84 127.99,248.23 129.32,248.6 130.65,248.95 132,249.28 133.36,249.59 134.72,249.9 136.07,250.21 137.41,250.53 138.72,250.85 139.99,251.19 141.21,251.55 142.38,251.91 143.51,252.28 144.64,252.66 145.76,253.04 146.9,253.43 148.09,253.81 149.32,254.2 150.62,254.59 151.97,254.98 153.35,255.38 154.76,255.78 156.17,256.17 157.58,256.57 158.97,256.96 160.32,257.35 161.65,257.73 162.96,258.11 164.26,258.49 165.55,258.87 166.84,259.24 168.11,259.62 169.39,259.99 170.65,260.36 171.93,260.73 173.22,261.11 174.52,261.49 175.8,261.87 177.07,262.24 178.29,262.6 179.47,262.96 180.59,263.3 181.65,263.63 182.68,263.96 183.67,264.28 184.62,264.59 185.52,264.89 186.39,265.19 187.21,265.47 187.99,265.75 188.71,266.02 189.38,266.27 190.01,266.52 190.59,266.76 191.14,266.99 191.67,267.22 192.17,267.43 192.65,267.64 193.11,267.83 193.54,268 193.94,268.16 194.31,268.31 194.66,268.47 195,268.64 195.33,268.82 195.65,269.04 195.97,269.27 196.27,269.5 196.55,269.74 196.83,270 197.09,270.28 197.33,270.59 197.57,270.95 197.78,271.35 197.99,271.8 198.17,272.29 198.34,272.82 198.5,273.38 198.64,273.97 198.78,274.59 198.92,275.23 199.05,275.9 199.18,276.58 199.3,277.27 199.41,277.98 199.51,278.72 199.61,279.5 199.71,280.34 199.81,281.23 199.92,282.2 200.03,283.28 200.14,284.47 200.25,285.74 200.36,287.06 200.47,288.38 200.58,289.66 200.69,290.89 200.78,292 200.88,293.03 200.97,294.01 201.06,294.95 201.14,295.85 201.22,296.7 201.3,297.51 201.38,298.28 201.45,299 201.52,299.69 201.59,300.35 201.66,300.96 201.73,301.54 201.79,302.06 201.84,302.51 201.88,302.9 201.92,303.2" fill="none" stroke="#F5784B" stroke-width="1.7" stroke-linejoin="round" stroke-linecap="round" />
<polyline points="46,299.7 46.01,297.38 46.01,294.13 46.02,290.24 46.03,286.01 46.05,281.74 46.07,277.73 46.1,274.29 46.13,271.7 46.14,269.96 46.11,268.79 46.06,268.05 46.03,267.63 46.05,267.42 46.14,267.29 46.34,267.12 46.67,266.8 47.13,266.41 47.69,266.1 48.34,265.85 49.07,265.64 49.88,265.44 50.76,265.23 51.69,264.99 52.67,264.7 53.68,264.36 54.74,264 55.86,263.63 57.04,263.24 58.3,262.83 59.65,262.42 61.1,261.99 62.66,261.55 64.39,261.09 66.29,260.61 68.31,260.11 70.41,259.61 72.55,259.1 74.66,258.59 76.72,258.1 78.66,257.63 80.53,257.17 82.37,256.73 84.18,256.29 85.95,255.86 87.7,255.43 89.4,255.02 91.05,254.61 92.66,254.2 94.23,253.8 95.76,253.39 97.25,253 98.7,252.61 100.11,252.23 101.46,251.86 102.76,251.52 103.99,251.19 105.08,250.92 105.99,250.71 106.78,250.54 107.56,250.37 108.38,250.18 109.35,249.93 110.52,249.6 111.99,249.16 113.78,248.6 115.81,247.94 118.03,247.2 120.4,246.41 122.86,245.58 125.37,244.72 127.87,243.86 130.32,243 132.83,242.12 135.49,241.17 138.23,240.19 140.98,239.2 143.65,238.22 146.18,237.29 148.5,236.42 150.52,235.65 152.21,234.99 153.61,234.41 154.8,233.91 155.84,233.44 156.81,232.99 157.78,232.54 158.81,232.06 159.99,231.52 161.27,230.93 162.56,230.32 163.88,229.69 165.22,229.04 166.58,228.39 167.96,227.75 169.36,227.11 170.79,226.48 172.29,225.85 173.88,225.19 175.52,224.52 177.17,223.86 178.78,223.23 180.32,222.64 181.73,222.1 182.99,221.65 184.07,221.28 185.04,220.98 185.89,220.74 186.67,220.54 187.37,220.37 188.04,220.22 188.68,220.06 189.32,219.9 189.94,219.74 190.5,219.61 191.02,219.5 191.51,219.4 191.97,219.29 192.42,219.17 192.87,219.03 193.32,218.85 193.77,218.64 194.21,218.41 194.65,218.15 195.07,217.89 195.48,217.61 195.88,217.32 196.27,217.04 196.65,216.75 196.99,216.5 197.27,216.29 197.52,216.09 197.78,215.88 198.05,215.62 198.39,215.29 198.8,214.86 199.32,214.3 199.97,213.59 200.73,212.76 201.57,211.83 202.46,210.82 203.38,209.77 204.29,208.7 205.17,207.63 205.98,206.6 206.78,205.53 207.6,204.35 208.43,203.13 209.23,201.92 209.98,200.77 210.66,199.73 211.22,198.85 211.65,198.2" fill="none" stroke="#F5784B" stroke-width="1.7" stroke-linejoin="round" stroke-linecap="round" />
<polyline points="46,198.9 46.1,199.23 46.23,199.68 46.39,200.21 46.57,200.81 46.76,201.42 46.95,202.04 47.14,202.63 47.32,203.16 47.5,203.63 47.67,204.08 47.85,204.51 48.03,204.94 48.21,205.36 48.39,205.79 48.58,206.24 48.78,206.72 48.98,207.23 49.19,207.77 49.4,208.33 49.62,208.9 49.84,209.46 50.06,210 50.28,210.52 50.5,210.99 50.72,211.42 50.94,211.82 51.15,212.19 51.37,212.54 51.6,212.87 51.82,213.2 52.05,213.53 52.28,213.87 52.52,214.2 52.75,214.53 52.99,214.85 53.23,215.17 53.47,215.48 53.73,215.79 53.99,216.1 54.27,216.4 54.56,216.7 54.86,217.01 55.17,217.32 55.49,217.62 55.82,217.91 56.16,218.18 56.5,218.44 56.85,218.68 57.2,218.89 57.55,219.09 57.91,219.27 58.28,219.43 58.66,219.58 59.05,219.73 59.46,219.86 59.89,220 60.34,220.12 60.82,220.23 61.31,220.33 61.82,220.42 62.33,220.51 62.85,220.59 63.36,220.69 63.86,220.8 64.35,220.91 64.84,221.02 65.32,221.14 65.8,221.26 66.29,221.38 66.79,221.51 67.3,221.64 67.83,221.79 68.38,221.94 68.96,222.09 69.55,222.24 70.14,222.4 70.74,222.57 71.33,222.76 71.91,222.96 72.46,223.19 72.99,223.45 73.51,223.73 74.03,224.03 74.53,224.35 75.02,224.68 75.5,225 75.97,225.33 76.43,225.64 76.86,225.94 77.27,226.24 77.66,226.54 78.04,226.84 78.43,227.15 78.83,227.45 79.26,227.77 79.74,228.09 80.25,228.42 80.78,228.76 81.35,229.11 81.93,229.46 82.52,229.81 83.13,230.17 83.75,230.53 84.37,230.89 84.99,231.25 85.61,231.61 86.24,231.98 86.89,232.35 87.55,232.72 88.23,233.09 88.93,233.46 89.66,233.83 90.42,234.2 91.22,234.58 92.04,234.96 92.88,235.34 93.73,235.72 94.59,236.1 95.44,236.47 96.27,236.84 97.08,237.19 97.86,237.53 98.64,237.86 99.41,238.19 100.21,238.52 101.05,238.87 101.93,239.24 102.89,239.64 103.94,240.08 105.09,240.55 106.3,241.05 107.54,241.56 108.78,242.08 109.98,242.58 111.12,243.05 112.15,243.49 113.05,243.89 113.84,244.26 114.55,244.6 115.23,244.93 115.92,245.26 116.65,245.59 117.48,245.93 118.43,246.29 119.52,246.67 120.71,247.07 121.97,247.47 123.29,247.88 124.64,248.28 126.01,248.68 127.36,249.07 128.69,249.44 130,249.79 131.34,250.12 132.69,250.43 134.04,250.74 135.38,251.05 136.71,251.37 138.01,251.69 139.27,252.03 140.48,252.39 141.64,252.75 142.77,253.12 143.88,253.5 144.99,253.88 146.13,254.27 147.3,254.65 148.53,255.04 149.82,255.43 151.16,255.82 152.53,256.22 153.93,256.62 155.33,257.01 156.72,257.41 158.1,257.8 159.44,258.19 160.76,258.57 162.06,258.95 163.36,259.33 164.64,259.71 165.91,260.08 167.18,260.46 168.44,260.83 169.7,261.2 170.97,261.57 172.25,261.95 173.53,262.33 174.81,262.7 176.06,263.08 177.28,263.44 178.44,263.8 179.55,264.14 180.61,264.47 181.63,264.8 182.61,265.12 183.55,265.43 184.45,265.73 185.31,266.03 186.13,266.31 186.9,266.59 187.62,266.86 188.28,267.11 188.9,267.36 189.48,267.6 190.03,267.83 190.55,268.06 191.05,268.27 191.53,268.48 191.98,268.67 192.41,268.84 192.8,269 193.17,269.15 193.52,269.31 193.86,269.48 194.18,269.66 194.5,269.88 194.81,270.11 195.11,270.34 195.4,270.58 195.67,270.84 195.93,271.12 196.17,271.43 196.4,271.79 196.62,272.19 196.82,272.64 197,273.13 197.17,273.66 197.33,274.22 197.47,274.81 197.61,275.43 197.74,276.07 197.88,276.74 198,277.42 198.12,278.11 198.23,278.82 198.33,279.56 198.43,280.34 198.53,281.18 198.63,282.07 198.74,283.04 198.85,284.12 198.96,285.31 199.07,286.58 199.18,287.9 199.29,289.22 199.4,290.5 199.5,291.73 199.6,292.84 199.69,293.87 199.78,294.85 199.87,295.79 199.95,296.69 200.03,297.54 200.11,298.35 200.19,299.12 200.26,299.84 200.33,300.53 200.4,301.19 200.47,301.8 200.53,302.38 200.59,302.9 200.64,303.35 200.69,303.74 200.72,304.04" fill="none" stroke="#FAAF96" stroke-width="1.7" stroke-linejoin="round" stroke-linecap="round" />
<polyline points="46,298.3 46.01,295.81 46.01,292.3 46.02,288.11 46.03,283.56 46.05,278.96 46.07,274.66 46.1,270.96 46.13,268.2 46.14,266.36 46.11,265.13 46.06,264.38 46.03,263.98 46.05,263.8 46.14,263.71 46.34,263.59 46.67,263.3 47.13,262.94 47.69,262.67 48.34,262.46 49.07,262.29 49.88,262.14 50.76,261.99 51.69,261.8 52.67,261.55 53.68,261.25 54.74,260.94 55.86,260.6 57.04,260.25 58.3,259.89 59.65,259.52 61.1,259.14 62.66,258.75 64.39,258.35 66.29,257.93 68.31,257.5 70.41,257.06 72.55,256.62 74.66,256.18 76.72,255.74 78.66,255.32 80.53,254.9 82.37,254.49 84.18,254.07 85.95,253.66 87.7,253.25 89.4,252.86 91.05,252.47 92.66,252.1 94.23,251.74 95.76,251.4 97.25,251.07 98.7,250.75 100.11,250.43 101.46,250.12 102.76,249.82 103.99,249.51 105.08,249.24 105.99,249.01 106.78,248.8 107.56,248.59 108.38,248.35 109.35,248.05 110.52,247.68 111.99,247.2 113.78,246.61 115.81,245.94 118.03,245.19 120.4,244.39 122.86,243.54 125.37,242.67 127.87,241.78 130.32,240.9 132.83,239.98 135.49,239 138.23,237.98 140.98,236.94 143.65,235.92 146.18,234.94 148.5,234.02 150.52,233.2 152.21,232.47 153.62,231.81 154.81,231.2 155.85,230.64 156.82,230.12 157.79,229.6 158.82,229.1 159.99,228.58 161.28,228.07 162.63,227.59 164.02,227.12 165.41,226.66 166.8,226.21 168.15,225.75 169.44,225.29 170.65,224.8 171.8,224.28 172.9,223.72 173.97,223.15 174.99,222.57 175.97,222.01 176.9,221.49 177.8,221.01 178.65,220.6 179.46,220.26 180.21,219.98 180.91,219.75 181.57,219.55 182.2,219.37 182.81,219.21 183.4,219.04 183.99,218.85 184.55,218.66 185.1,218.48 185.61,218.31 186.11,218.15 186.59,217.99 187.06,217.82 187.53,217.64 187.99,217.45 188.43,217.26 188.87,217.06 189.28,216.87 189.69,216.66 190.1,216.45 190.5,216.22 190.91,215.97 191.32,215.7 191.73,215.42 192.12,215.16 192.51,214.88 192.9,214.58 193.3,214.25 193.72,213.87 194.17,213.42 194.65,212.9 195.17,212.29 195.72,211.62 196.29,210.89 196.88,210.1 197.49,209.27 198.1,208.4 198.71,207.51 199.32,206.6 199.96,205.59 200.66,204.45 201.39,203.23 202.11,202.01 202.79,200.83 203.41,199.76 203.93,198.86 204.32,198.2" fill="none" stroke="#FAAF96" stroke-width="1.7" stroke-linejoin="round" stroke-linecap="round" />
<polyline points="46,201 46.01,201.54 46.03,202.27 46.05,203.14 46.07,204.11 46.1,205.12 46.13,206.14 46.16,207.11 46.2,208 46.24,208.84 46.28,209.69 46.32,210.54 46.36,211.37 46.42,212.17 46.48,212.94 46.56,213.65 46.67,214.3 46.78,214.88 46.89,215.4 47.02,215.86 47.15,216.29 47.32,216.69 47.51,217.06 47.73,217.43 48,217.8 48.31,218.16 48.66,218.49 49.04,218.81 49.46,219.11 49.9,219.4 50.36,219.69 50.84,219.97 51.33,220.25 51.84,220.53 52.36,220.79 52.9,221.05 53.46,221.3 54.04,221.55 54.66,221.81 55.31,222.07 56,222.35 56.71,222.63 57.45,222.91 58.21,223.2 59,223.49 59.83,223.79 60.72,224.11 61.66,224.44 62.66,224.8 63.73,225.16 64.85,225.5 66.02,225.85 67.25,226.22 68.52,226.63 69.85,227.11 71.23,227.65 72.66,228.3 74.14,229.04 75.64,229.86 77.19,230.76 78.8,231.71 80.47,232.72 82.22,233.78 84.06,234.87 86,236 88.08,237.22 90.34,238.56 92.7,239.99 95.13,241.44 97.57,242.86 99.99,244.22 102.32,245.45 104.53,246.5 106.57,247.35 108.5,248.02 110.34,248.58 112.15,249.06 113.97,249.51 115.86,249.98 117.85,250.53 119.99,251.19 122.3,251.97 124.73,252.8 127.26,253.69 129.86,254.61 132.49,255.55 135.13,256.49 137.75,257.42 140.32,258.33 142.93,259.2 145.63,260.05 148.37,260.9 151.09,261.74 153.73,262.6 156.24,263.49 158.54,264.42 160.59,265.4 162.37,266.42 163.93,267.46 165.31,268.53 166.54,269.63 167.66,270.77 168.71,271.96 169.72,273.2 170.72,274.5 171.7,275.89 172.62,277.39 173.47,278.96 174.26,280.56 174.98,282.17 175.65,283.75 176.25,285.26 176.79,286.68 177.24,288.01 177.61,289.31 177.9,290.56 178.14,291.76 178.34,292.93 178.51,294.06 178.68,295.15 178.85,296.2 179.03,297.24 179.19,298.29 179.33,299.32 179.45,300.3 179.55,301.2 179.65,302 179.72,302.68 179.79,303.2" fill="none" stroke="#D5DCEF" stroke-width="1.7" stroke-linejoin="round" stroke-linecap="round" />
<polyline points="46,298.3 46.01,295.51 46.01,291.58 46.02,286.88 46.03,281.78 46.05,276.65 46.07,271.84 46.1,267.74 46.13,264.7 46.09,262.72 45.94,261.46 45.74,260.76 45.58,260.45 45.51,260.4 45.62,260.43 45.98,260.4 46.67,260.15 47.68,259.8 48.97,259.54 50.49,259.35 52.2,259.18 54.05,259.01 55.99,258.8 57.99,258.51 60,258.12 62.09,257.61 64.35,257.01 66.72,256.35 69.16,255.64 71.63,254.91 74.06,254.18 76.42,253.47 78.66,252.8 80.78,252.18 82.82,251.58 84.8,250.99 86.75,250.41 88.68,249.82 90.63,249.21 92.62,248.58 94.66,247.9 96.76,247.18 98.9,246.43 101.06,245.66 103.24,244.86 105.44,244.05 107.63,243.23 109.82,242.41 111.99,241.6 114.16,240.79 116.33,239.98 118.49,239.16 120.66,238.34 122.83,237.51 124.99,236.67 127.16,235.82 129.32,234.95 131.52,234.06 133.77,233.15 136.03,232.21 138.28,231.27 140.5,230.34 142.65,229.4 144.71,228.49 146.66,227.6 148.5,226.71 150.29,225.8 152.01,224.89 153.66,223.99 155.22,223.13 156.69,222.33 158.06,221.59 159.32,220.95 160.45,220.42 161.44,220 162.32,219.66 163.11,219.38 163.85,219.11 164.56,218.83 165.26,218.52 165.99,218.15 166.72,217.74 167.43,217.34 168.11,216.92 168.78,216.49 169.43,216.02 170.07,215.51 170.7,214.94 171.32,214.3 171.94,213.59 172.55,212.82 173.15,212 173.74,211.13 174.32,210.22 174.88,209.27 175.44,208.3 175.99,207.3 176.55,206.2 177.13,204.96 177.71,203.64 178.28,202.31 178.81,201.04 179.28,199.88 179.68,198.92 179.99,198.2" fill="none" stroke="#D5DCEF" stroke-width="1.7" stroke-linejoin="round" stroke-linecap="round" />
<polyline points="46,202.4 46.01,203.15 46.02,204.13 46.04,205.3 46.05,206.6 46.07,207.99 46.09,209.42 46.11,210.84 46.13,212.2 46.15,213.6 46.14,215.13 46.14,216.73 46.14,218.32 46.15,219.86 46.18,221.26 46.24,222.46 46.33,223.4 46.45,224.04 46.58,224.42 46.72,224.61 46.89,224.67 47.09,224.65 47.34,224.63 47.64,224.66 48,224.8 48.42,225.02 48.88,225.26 49.4,225.51 49.95,225.76 50.56,226.03 51.21,226.31 51.92,226.6 52.67,226.9 53.48,227.2 54.36,227.5 55.29,227.81 56.27,228.12 57.28,228.47 58.31,228.84 59.35,229.24 60.4,229.7 61.45,230.21 62.51,230.76 63.58,231.35 64.68,231.97 65.8,232.62 66.95,233.28 68.12,233.94 69.33,234.6 70.59,235.27 71.89,235.97 73.23,236.68 74.6,237.4 75.97,238.12 77.34,238.83 78.68,239.53 80,240.2 81.25,240.84 82.44,241.46 83.6,242.06 84.75,242.65 85.94,243.24 87.19,243.84 88.53,244.46 90,245.1 91.59,245.77 93.29,246.48 95.07,247.2 96.92,247.93 98.81,248.65 100.72,249.36 102.64,250.05 104.53,250.7 106.38,251.3 108.21,251.84 110.04,252.35 111.9,252.84 113.8,253.35 115.76,253.9 117.82,254.5 119.99,255.18 122.37,255.95 124.97,256.8 127.71,257.71 130.5,258.65 133.24,259.6 135.85,260.55 138.24,261.46 140.32,262.32 142.07,263.12 143.56,263.87 144.84,264.59 145.99,265.3 147.06,266.02 148.1,266.77 149.2,267.56 150.39,268.41 151.68,269.31 153,270.25 154.34,271.22 155.68,272.22 156.99,273.25 158.26,274.31 159.46,275.4 160.59,276.53 161.65,277.72 162.68,278.97 163.66,280.28 164.59,281.61 165.46,282.93 166.27,284.24 167,285.49 167.65,286.68 168.21,287.79 168.66,288.85 169.03,289.86 169.33,290.85 169.6,291.82 169.84,292.8 170.07,293.79 170.32,294.8 170.58,295.89 170.82,297.08 171.05,298.3 171.25,299.51 171.44,300.65 171.61,301.68 171.74,302.55 171.85,303.2" fill="none" stroke="#9EAEDC" stroke-width="1.7" stroke-linejoin="round" stroke-linecap="round" />
<polyline points="46,298.3 46.01,295.51 46.01,291.6 46.02,286.92 46.03,281.83 46.05,276.7 46.07,271.89 46.1,267.77 46.13,264.7 46.09,262.67 45.94,261.34 45.74,260.54 45.58,260.15 45.51,259.99 45.62,259.92 45.98,259.79 46.67,259.45 47.68,259.01 48.97,258.66 50.49,258.37 52.2,258.11 54.05,257.85 55.99,257.55 57.99,257.18 60,256.72 62.09,256.15 64.35,255.49 66.72,254.78 69.16,254.02 71.63,253.25 74.06,252.48 76.42,251.74 78.66,251.05 80.78,250.41 82.82,249.8 84.8,249.22 86.75,248.64 88.68,248.06 90.63,247.46 92.62,246.82 94.66,246.15 96.76,245.44 98.9,244.7 101.06,243.94 103.24,243.15 105.44,242.35 107.63,241.53 109.82,240.7 111.99,239.85 114.16,238.99 116.33,238.12 118.49,237.23 120.66,236.33 122.83,235.4 124.99,234.46 127.16,233.49 129.32,232.5 131.52,231.47 133.77,230.41 136.03,229.32 138.28,228.21 140.5,227.09 142.65,225.97 144.71,224.85 146.66,223.75 148.5,222.64 150.29,221.52 152.01,220.39 153.66,219.27 155.22,218.15 156.69,217.06 158.06,216.01 159.32,215 160.45,214.06 161.43,213.19 162.3,212.37 163.08,211.57 163.82,210.75 164.52,209.91 165.24,209 165.99,208 166.79,206.84 167.63,205.52 168.48,204.1 169.3,202.66 170.08,201.28 170.77,200.03 171.35,198.98 171.79,198.2" fill="none" stroke="#9EAEDC" stroke-width="1.7" stroke-linejoin="round" stroke-linecap="round" />
<polyline points="46,203.1 46.01,204.09 46.02,205.43 46.04,207.03 46.06,208.79 46.08,210.63 46.09,212.45 46.11,214.17 46.13,215.7 46.14,217.12 46.14,218.54 46.13,219.95 46.12,221.3 46.12,222.56 46.15,223.71 46.21,224.7 46.3,225.5 46.42,226.07 46.55,226.41 46.69,226.58 46.87,226.64 47.08,226.64 47.33,226.65 47.63,226.72 48,226.9 48.43,227.18 48.91,227.49 49.44,227.82 50.02,228.17 50.64,228.54 51.29,228.92 51.97,229.31 52.67,229.7 53.38,230.09 54.11,230.48 54.87,230.87 55.67,231.27 56.5,231.7 57.38,232.16 58.33,232.66 59.33,233.2 60.42,233.8 61.58,234.45 62.81,235.15 64.08,235.87 65.39,236.61 66.71,237.35 68.03,238.09 69.33,238.8 70.64,239.5 71.97,240.22 73.31,240.93 74.66,241.64 76.02,242.35 77.36,243.05 78.69,243.73 80,244.4 81.25,245.04 82.44,245.66 83.6,246.26 84.75,246.85 85.94,247.44 87.19,248.04 88.53,248.66 90,249.3 91.59,249.97 93.29,250.66 95.07,251.36 96.92,252.07 98.81,252.78 100.72,253.5 102.64,254.21 104.53,254.9 106.45,255.59 108.45,256.3 110.49,257 112.54,257.7 114.54,258.38 116.48,259.05 118.31,259.68 119.99,260.29 121.51,260.84 122.9,261.34 124.18,261.8 125.39,262.24 126.55,262.69 127.71,263.17 128.89,263.69 130.12,264.28 131.4,264.93 132.67,265.61 133.95,266.32 135.23,267.07 136.51,267.85 137.78,268.66 139.05,269.5 140.32,270.37 141.6,271.27 142.89,272.21 144.19,273.17 145.49,274.17 146.76,275.2 148.01,276.26 149.22,277.36 150.39,278.49 151.53,279.67 152.65,280.9 153.76,282.17 154.83,283.48 155.86,284.8 156.82,286.12 157.71,287.42 158.52,288.71 159.25,290.02 159.9,291.37 160.48,292.75 161,294.11 161.47,295.43 161.88,296.67 162.25,297.8 162.59,298.79 162.87,299.64 163.08,300.39 163.23,301.05 163.34,301.62 163.42,302.12 163.48,302.54 163.53,302.9 163.59,303.2" fill="none" stroke="#7388C6" stroke-width="1.7" stroke-linejoin="round" stroke-linecap="round" />
<polyline points="46,298.3 46.01,295.52 46.01,291.61 46.02,286.94 46.03,281.87 46.05,276.75 46.07,271.94 46.1,267.8 46.13,264.7 46.09,262.62 45.94,261.23 45.74,260.36 45.58,259.88 45.51,259.63 45.62,259.47 45.98,259.25 46.67,258.82 47.68,258.29 48.97,257.85 50.49,257.46 52.2,257.11 54.05,256.74 55.99,256.35 57.99,255.88 60,255.32 62.09,254.65 64.35,253.89 66.72,253.06 69.16,252.2 71.63,251.33 74.06,250.47 76.42,249.64 78.66,248.88 80.84,248.16 83.01,247.44 85.15,246.74 87.25,246.07 89.27,245.42 91.19,244.8 93,244.23 94.66,243.7 96.16,243.24 97.49,242.84 98.71,242.49 99.83,242.18 100.89,241.87 101.91,241.56 102.94,241.22 103.99,240.83 104.99,240.44 105.87,240.07 106.68,239.7 107.49,239.31 108.37,238.87 109.37,238.37 110.56,237.77 111.99,237.05 113.71,236.21 115.66,235.26 117.79,234.22 120.06,233.11 122.39,231.94 124.75,230.74 127.08,229.52 129.32,228.3 131.58,227.04 133.92,225.7 136.31,224.32 138.68,222.91 140.99,221.51 143.18,220.14 145.19,218.82 146.99,217.59 148.53,216.47 149.86,215.44 151.03,214.47 152.07,213.53 153.04,212.58 153.99,211.6 154.96,210.55 155.99,209.4 157.12,208.07 158.31,206.55 159.53,204.93 160.72,203.29 161.84,201.71 162.84,200.28 163.68,199.08 164.32,198.2" fill="none" stroke="#7388C6" stroke-width="1.7" stroke-linejoin="round" stroke-linecap="round" />
<line x1="39.1" y1="181.3" x2="212.6" y2="181.3" stroke="#777" stroke-width="1.4" />
<line x1="212.6" y1="181.3" x2="212.6" y2="320.2" stroke="#333" stroke-width="1" />
<line x1="39.1" y1="180.8" x2="39.1" y2="320.7" stroke="#000" stroke-width="1" />
<line x1="39.1" y1="320.2" x2="213.1" y2="320.2" stroke="#000" stroke-width="1" />
<line x1="36.3" y1="303.2" x2="39.1" y2="303.2" stroke="#000" stroke-width="0.8" />
<text x="34.8" y="305.25" font-size="5.5" font-weight="bold" text-anchor="end" fill="#000"  stroke="#000" stroke-width="0.3">3.0</text>
<line x1="37.6" y1="285.7" x2="39.1" y2="285.7" stroke="#000" stroke-width="0.8" />
<line x1="36.3" y1="268.2" x2="39.1" y2="268.2" stroke="#000" stroke-width="0.8" />
<text x="34.8" y="270.25" font-size="5.5" font-weight="bold" text-anchor="end" fill="#000"  stroke="#000" stroke-width="0.3">3.5</text>
<line x1="37.6" y1="250.7" x2="39.1" y2="250.7" stroke="#000" stroke-width="0.8" />
<line x1="36.3" y1="233.2" x2="39.1" y2="233.2" stroke="#000" stroke-width="0.8" />
<text x="34.8" y="235.25" font-size="5.5" font-weight="bold" text-anchor="end" fill="#000"  stroke="#000" stroke-width="0.3">4.0</text>
<line x1="37.6" y1="215.7" x2="39.1" y2="215.7" stroke="#000" stroke-width="0.8" />
<line x1="36.3" y1="198.2" x2="39.1" y2="198.2" stroke="#000" stroke-width="0.8" />
<text x="34.8" y="200.25" font-size="5.5" font-weight="bold" text-anchor="end" fill="#000"  stroke="#000" stroke-width="0.3">4.5</text>
<line x1="46" y1="320.2" x2="46" y2="322.8" stroke="#000" stroke-width="0.8" />
<text x="46" y="329.6" font-size="5.5" font-weight="bold" text-anchor="middle" fill="#000"  stroke="#000" stroke-width="0.3">0</text>
<line x1="62.66" y1="320.2" x2="62.66" y2="321.6" stroke="#000" stroke-width="0.8" />
<line x1="79.33" y1="320.2" x2="79.33" y2="322.8" stroke="#000" stroke-width="0.8" />
<text x="79.33" y="329.6" font-size="5.5" font-weight="bold" text-anchor="middle" fill="#000"  stroke="#000" stroke-width="0.3">50</text>
<line x1="96" y1="320.2" x2="96" y2="321.6" stroke="#000" stroke-width="0.8" />
<line x1="112.66" y1="320.2" x2="112.66" y2="322.8" stroke="#000" stroke-width="0.8" />
<text x="112.66" y="329.6" font-size="5.5" font-weight="bold" text-anchor="middle" fill="#000"  stroke="#000" stroke-width="0.3">100</text>
<line x1="129.32" y1="320.2" x2="129.32" y2="321.6" stroke="#000" stroke-width="0.8" />
<line x1="145.99" y1="320.2" x2="145.99" y2="322.8" stroke="#000" stroke-width="0.8" />
<text x="145.99" y="329.6" font-size="5.5" font-weight="bold" text-anchor="middle" fill="#000"  stroke="#000" stroke-width="0.3">150</text>
<line x1="162.66" y1="320.2" x2="162.66" y2="321.6" stroke="#000" stroke-width="0.8" />
<line x1="179.32" y1="320.2" x2="179.32" y2="322.8" stroke="#000" stroke-width="0.8" />
<text x="179.32" y="329.6" font-size="5.5" font-weight="bold" text-anchor="middle" fill="#000"  stroke="#000" stroke-width="0.3">200</text>
<line x1="195.98" y1="320.2" x2="195.98" y2="321.6" stroke="#000" stroke-width="0.8" />
<line x1="212.65" y1="320.2" x2="212.65" y2="322.8" stroke="#000" stroke-width="0.8" />
<text x="212.65" y="329.6" font-size="5.5" font-weight="bold" text-anchor="middle" fill="#000"  stroke="#000" stroke-width="0.3">250</text>
<text x="125.9" y="342.4" font-size="7.2" font-weight="bold" text-anchor="middle" fill="#000"  stroke="#000" stroke-width="0.22">Capacity (mAh g<tspan dy="-2.4" font-size="4.6">-1</tspan><tspan dy="2.4">)</tspan></text>
<text x="18.6" y="246.4" font-size="7.2" font-weight="bold" text-anchor="middle" fill="#000" transform="rotate(-90 18.6 246.4)"  stroke="#000" stroke-width="0.22">Voltage (V)</text>
<text x="46.6" y="193.1" font-size="8.2" font-weight="bold" text-anchor="start" fill="#000"  stroke="#000" stroke-width="0.22">E-LiFAS, 4.5 V, 60 <tspan font-size="7.2" dy="0.3">°</tspan><tspan dx="0.8" dy="-0.3">C</tspan></text>
<line x1="54.8" y1="276.8" x2="72.9" y2="276.8" stroke="#F5784B" stroke-width="1.6" />
<text x="73.9" y="279.1" font-size="7.2" font-weight="bold" text-anchor="start" fill="#000"  stroke="#000" stroke-width="0.22">1st</text>
<line x1="54.8" y1="286.02" x2="72.9" y2="286.02" stroke="#FAAF96" stroke-width="1.6" />
<text x="73.9" y="288.32" font-size="7.2" font-weight="bold" text-anchor="start" fill="#000"  stroke="#000" stroke-width="0.22">2nd</text>
<line x1="54.8" y1="295.24" x2="72.9" y2="295.24" stroke="#D5DCEF" stroke-width="1.6" />
<text x="73.9" y="297.54" font-size="7.2" font-weight="bold" text-anchor="start" fill="#000"  stroke="#000" stroke-width="0.22">100th</text>
<line x1="54.8" y1="304.46" x2="72.9" y2="304.46" stroke="#9EAEDC" stroke-width="1.6" />
<text x="73.9" y="306.76" font-size="7.2" font-weight="bold" text-anchor="start" fill="#000"  stroke="#000" stroke-width="0.22">200th</text>
<line x1="54.8" y1="313.68" x2="72.9" y2="313.68" stroke="#7388C6" stroke-width="1.6" />
<text x="73.9" y="315.98" font-size="7.2" font-weight="bold" text-anchor="start" fill="#000"  stroke="#000" stroke-width="0.22">300th</text>
<polyline points="265.02,198.62 265.09,198.99 265.16,199.44 265.25,199.98 265.35,200.6 265.47,201.3 265.6,202.06 265.75,202.9 265.92,203.8 266.11,204.85 266.33,206.07 266.58,207.42 266.83,208.81 267.09,210.18 267.35,211.47 267.59,212.61 267.82,213.53 268.01,214.22 268.19,214.73 268.35,215.11 268.51,215.4 268.67,215.63 268.85,215.85 269.05,216.09 269.27,216.4 269.51,216.76 269.76,217.11 270.02,217.47 270.29,217.83 270.59,218.18 270.92,218.53 271.27,218.87 271.67,219.2 272.11,219.53 272.59,219.86 273.09,220.18 273.63,220.49 274.19,220.8 274.77,221.1 275.36,221.38 275.97,221.65 276.61,221.88 277.27,222.07 277.95,222.24 278.66,222.4 279.37,222.57 280.09,222.77 280.8,223.02 281.51,223.33 282.19,223.7 282.86,224.12 283.52,224.58 284.18,225.07 284.87,225.58 285.58,226.12 286.34,226.68 287.15,227.25 288.01,227.84 288.92,228.44 289.87,229.08 290.85,229.73 291.86,230.4 292.88,231.08 293.92,231.78 294.97,232.5 296.04,233.24 297.13,234.01 298.25,234.8 299.38,235.6 300.52,236.41 301.66,237.22 302.79,238.02 303.91,238.8 305.01,239.58 306.11,240.38 307.2,241.19 308.29,241.99 309.37,242.76 310.46,243.5 311.54,244.19 312.62,244.82 313.64,245.36 314.57,245.81 315.47,246.2 316.37,246.57 317.35,246.93 318.45,247.32 319.73,247.78 321.23,248.32 323.05,248.97 325.17,249.71 327.49,250.51 329.92,251.33 332.37,252.17 334.72,252.97 336.89,253.73 338.77,254.41 340.35,255 341.7,255.54 342.88,256.02 343.97,256.48 345.02,256.93 346.1,257.39 347.28,257.88 348.61,258.4 350.13,258.97 351.8,259.58 353.57,260.21 355.36,260.84 357.12,261.47 358.8,262.09 360.32,262.68 361.62,263.23 362.72,263.74 363.66,264.23 364.48,264.69 365.19,265.14 365.82,265.57 366.4,265.99 366.95,266.4 367.49,266.8 368,267.18 368.45,267.51 368.84,267.83 369.2,268.14 369.52,268.46 369.82,268.8 370.1,269.17 370.39,269.6 370.68,270.06 370.94,270.55 371.18,271.06 371.41,271.6 371.62,272.16 371.82,272.76 372,273.4 372.18,274.08 372.35,274.81 372.5,275.6 372.63,276.42 372.76,277.28 372.87,278.16 372.98,279.05 373.09,279.93 373.19,280.8 373.28,281.65 373.37,282.5 373.45,283.34 373.53,284.19 373.6,285.06 373.67,285.94 373.73,286.86 373.8,287.8 373.87,288.79 373.94,289.83 374.01,290.91 374.07,292 374.14,293.09 374.2,294.17 374.25,295.21 374.31,296.2 374.35,297.19 374.4,298.21 374.44,299.24 374.48,300.22 374.51,301.15 374.54,301.98 374.56,302.67 374.58,303.2" fill="none" stroke="#F69472" stroke-width="2.4" stroke-linejoin="round" stroke-linecap="round" />
<polyline points="264.8,264.7 264.8,258.4 264.79,258.36 264.69,258.31 264.57,258.25 264.48,258.18 264.48,258.1 264.64,257.99 265,257.86 265.64,257.7 266.55,257.51 267.69,257.29 269.03,257.05 270.52,256.79 272.14,256.51 273.87,256.21 275.66,255.91 277.48,255.6 279.4,255.28 281.45,254.93 283.62,254.57 285.86,254.2 288.15,253.83 290.45,253.46 292.74,253.09 294.97,252.73 297.17,252.39 299.38,252.07 301.59,251.76 303.8,251.45 306.02,251.13 308.23,250.79 310.43,250.41 312.62,250 314.81,249.57 316.98,249.13 319.15,248.67 321.32,248.19 323.48,247.67 325.65,247.09 327.82,246.45 330,245.73 332.22,244.9 334.51,243.95 336.81,242.92 339.11,241.84 341.37,240.76 343.56,239.69 345.65,238.68 347.6,237.75 349.42,236.89 351.15,236.07 352.79,235.27 354.36,234.51 355.85,233.78 357.28,233.09 358.66,232.43 360,231.8 361.26,231.24 362.41,230.76 363.48,230.34 364.51,229.94 365.51,229.53 366.53,229.1 367.59,228.6 368.72,228.02 369.95,227.31 371.26,226.49 372.61,225.6 373.98,224.69 375.31,223.79 376.58,222.95 377.75,222.23 378.77,221.65 379.64,221.23 380.38,220.94 381.02,220.74 381.59,220.6 382.13,220.52 382.65,220.44 383.2,220.36 383.8,220.25 384.44,220.13 385.08,220.06 385.71,220 386.35,219.95 387,219.88 387.65,219.78 388.32,219.63 389,219.41 389.72,219.12 390.48,218.76 391.26,218.35 392.04,217.91 392.81,217.46 393.54,217 394.22,216.54 394.81,216.12 395.32,215.72 395.75,215.33 396.14,214.95 396.48,214.56 396.8,214.17 397.11,213.77 397.43,213.35 397.77,212.9 398.12,212.43 398.45,211.95 398.78,211.45 399.11,210.94 399.44,210.42 399.79,209.88 400.16,209.33 400.56,208.77 401,208.19 401.46,207.6 401.94,207 402.44,206.38 402.94,205.75 403.46,205.11 403.97,204.46 404.48,203.8 405.01,203.09 405.59,202.31 406.19,201.5 406.79,200.69 407.35,199.92 407.86,199.22 408.29,198.64 408.61,198.2" fill="none" stroke="#F69472" stroke-width="2.4" stroke-linejoin="round" stroke-linecap="round" />
<polyline points="264.41,299.7 264.41,268.2 264.41,268.2 264.41,267.91 264.32,267.51 264.2,267.04 264.13,266.52 264.14,265.98 264.31,265.46 264.7,264.97 265.36,264.56 266.3,264.22 267.48,263.93 268.85,263.67 270.39,263.43 272.05,263.19 273.81,262.94 275.63,262.65 277.48,262.32 279.41,261.95 281.47,261.55 283.64,261.14 285.88,260.71 288.16,260.25 290.46,259.79 292.74,259.31 294.97,258.82 297.17,258.31 299.38,257.77 301.59,257.2 303.8,256.63 306.02,256.05 308.23,255.48 310.43,254.93 312.62,254.41 314.81,253.92 316.98,253.46 319.15,253.02 321.32,252.59 323.48,252.15 325.65,251.69 327.82,251.22 330,250.7 332.22,250.15 334.51,249.58 336.81,248.98 339.11,248.37 341.37,247.74 343.56,247.1 345.65,246.45 347.6,245.8 349.41,245.13 351.1,244.44 352.69,243.74 354.22,243.02 355.69,242.31 357.13,241.59 358.56,240.89 360,240.2 361.44,239.52 362.85,238.84 364.23,238.17 365.58,237.5 366.93,236.84 368.27,236.19 369.6,235.56 370.95,234.95 372.3,234.36 373.63,233.79 374.95,233.23 376.27,232.68 377.6,232.15 378.94,231.63 380.3,231.12 381.68,230.61 383.1,230.11 384.56,229.62 386.03,229.13 387.52,228.66 389.01,228.2 390.47,227.75 391.91,227.32 393.3,226.9 394.62,226.5 395.86,226.13 397.05,225.77 398.24,225.43 399.44,225.09 400.7,224.76 402.05,224.43 403.53,224.1 405.14,223.76 406.86,223.41 408.67,223.05 410.54,222.71 412.44,222.38 414.33,222.08 416.2,221.81 418,221.58 419.83,221.4 421.78,221.26 423.76,221.16 425.7,221.08 427.53,221.02 429.19,220.97 430.6,220.92 431.68,220.88 432.4,220.84 432.79,220.82 432.94,220.8 432.9,220.8 432.76,220.8 432.58,220.81 432.44,220.81 432.41,220.81" fill="none" stroke="#98A9DB" stroke-width="2.4" stroke-linejoin="round" stroke-linecap="round" />
<line x1="259.2" y1="181.3" x2="432.4" y2="181.3" stroke="#777" stroke-width="1.4" />
<line x1="432.4" y1="181.3" x2="432.4" y2="320.1" stroke="#444" stroke-width="1.2" />
<line x1="259.2" y1="180.8" x2="259.2" y2="320.6" stroke="#000" stroke-width="1" />
<line x1="259.2" y1="320.1" x2="432.9" y2="320.1" stroke="#000" stroke-width="1" />
<line x1="256.4" y1="303.2" x2="259.2" y2="303.2" stroke="#000" stroke-width="0.8" />
<text x="254.9" y="305.25" font-size="5.5" font-weight="bold" text-anchor="end" fill="#000"  stroke="#000" stroke-width="0.3">3.0</text>
<line x1="257.7" y1="285.7" x2="259.2" y2="285.7" stroke="#000" stroke-width="0.8" />
<line x1="256.4" y1="268.2" x2="259.2" y2="268.2" stroke="#000" stroke-width="0.8" />
<text x="254.9" y="270.25" font-size="5.5" font-weight="bold" text-anchor="end" fill="#000"  stroke="#000" stroke-width="0.3">3.5</text>
<line x1="257.7" y1="250.7" x2="259.2" y2="250.7" stroke="#000" stroke-width="0.8" />
<line x1="256.4" y1="233.2" x2="259.2" y2="233.2" stroke="#000" stroke-width="0.8" />
<text x="254.9" y="235.25" font-size="5.5" font-weight="bold" text-anchor="end" fill="#000"  stroke="#000" stroke-width="0.3">4.0</text>
<line x1="257.7" y1="215.7" x2="259.2" y2="215.7" stroke="#000" stroke-width="0.8" />
<line x1="256.4" y1="198.2" x2="259.2" y2="198.2" stroke="#000" stroke-width="0.8" />
<text x="254.9" y="200.25" font-size="5.5" font-weight="bold" text-anchor="end" fill="#000"  stroke="#000" stroke-width="0.3">4.5</text>
<line x1="264.8" y1="320.1" x2="264.8" y2="322.7" stroke="#000" stroke-width="0.8" />
<text x="264.8" y="329.6" font-size="5.5" font-weight="bold" text-anchor="middle" fill="#000"  stroke="#000" stroke-width="0.3">0</text>
<line x1="278.77" y1="320.1" x2="278.77" y2="321.5" stroke="#000" stroke-width="0.8" />
<line x1="292.74" y1="320.1" x2="292.74" y2="322.7" stroke="#000" stroke-width="0.8" />
<text x="292.74" y="329.6" font-size="5.5" font-weight="bold" text-anchor="middle" fill="#000"  stroke="#000" stroke-width="0.3">50</text>
<line x1="306.7" y1="320.1" x2="306.7" y2="321.5" stroke="#000" stroke-width="0.8" />
<line x1="320.67" y1="320.1" x2="320.67" y2="322.7" stroke="#000" stroke-width="0.8" />
<text x="320.67" y="329.6" font-size="5.5" font-weight="bold" text-anchor="middle" fill="#000"  stroke="#000" stroke-width="0.3">100</text>
<line x1="334.64" y1="320.1" x2="334.64" y2="321.5" stroke="#000" stroke-width="0.8" />
<line x1="348.61" y1="320.1" x2="348.61" y2="322.7" stroke="#000" stroke-width="0.8" />
<text x="348.61" y="329.6" font-size="5.5" font-weight="bold" text-anchor="middle" fill="#000"  stroke="#000" stroke-width="0.3">150</text>
<line x1="362.57" y1="320.1" x2="362.57" y2="321.5" stroke="#000" stroke-width="0.8" />
<line x1="376.54" y1="320.1" x2="376.54" y2="322.7" stroke="#000" stroke-width="0.8" />
<text x="376.54" y="329.6" font-size="5.5" font-weight="bold" text-anchor="middle" fill="#000"  stroke="#000" stroke-width="0.3">200</text>
<line x1="390.51" y1="320.1" x2="390.51" y2="321.5" stroke="#000" stroke-width="0.8" />
<line x1="404.48" y1="320.1" x2="404.48" y2="322.7" stroke="#000" stroke-width="0.8" />
<text x="404.48" y="329.6" font-size="5.5" font-weight="bold" text-anchor="middle" fill="#000"  stroke="#000" stroke-width="0.3">250</text>
<line x1="418.44" y1="320.1" x2="418.44" y2="321.5" stroke="#000" stroke-width="0.8" />
<line x1="432.41" y1="320.1" x2="432.41" y2="322.7" stroke="#000" stroke-width="0.8" />
<text x="432.41" y="329.6" font-size="5.5" font-weight="bold" text-anchor="middle" fill="#000"  stroke="#000" stroke-width="0.3">300</text>
<text x="345.8" y="342.4" font-size="7.2" font-weight="bold" text-anchor="middle" fill="#000"  stroke="#000" stroke-width="0.22">Capacity (mAh g<tspan dy="-2.4" font-size="4.6">-1</tspan><tspan dy="2.4">)</tspan></text>
<text x="238.6" y="250.5" font-size="7.2" font-weight="bold" text-anchor="middle" fill="#000" transform="rotate(-90 238.6 250.5)"  stroke="#000" stroke-width="0.22">Voltage (V)</text>
<text x="269.9" y="193" font-size="8.2" font-weight="bold" text-anchor="start" fill="#000"  stroke="#000" stroke-width="0.22">E-base, 4.5 V, 60 <tspan font-size="7.2" dy="0.3">°</tspan><tspan dx="0.8" dy="-0.3">C</tspan></text>
<line x1="271.6" y1="301.3" x2="289.4" y2="301.3" stroke="#F69472" stroke-width="2.4" />
<text x="290.8" y="303.6" font-size="7.2" font-weight="bold" text-anchor="start" fill="#000"  stroke="#000" stroke-width="0.22">1st</text>
<line x1="271.6" y1="310.1" x2="289.4" y2="310.1" stroke="#98A9DB" stroke-width="2.4" />
<text x="290.8" y="312.4" font-size="7.2" font-weight="bold" text-anchor="start" fill="#000"  stroke="#000" stroke-width="0.22">2nd</text>
<path d="M487.25,182.8a1.05,1.05 0 1,0 2.1,0a1.05,1.05 0 1,0 -2.1,0M487.31,186.25a1.05,1.05 0 1,0 2.1,0a1.05,1.05 0 1,0 -2.1,0M487.36,189.7a1.05,1.05 0 1,0 2.1,0a1.05,1.05 0 1,0 -2.1,0M487.42,193.15a1.05,1.05 0 1,0 2.1,0a1.05,1.05 0 1,0 -2.1,0M487.48,196.6a1.05,1.05 0 1,0 2.1,0a1.05,1.05 0 1,0 -2.1,0M487.55,200.05a1.05,1.05 0 1,0 2.1,0a1.05,1.05 0 1,0 -2.1,0M487.63,203.5a1.05,1.05 0 1,0 2.1,0a1.05,1.05 0 1,0 -2.1,0M487.71,206.95a1.05,1.05 0 1,0 2.1,0a1.05,1.05 0 1,0 -2.1,0M487.81,210.39a1.05,1.05 0 1,0 2.1,0a1.05,1.05 0 1,0 -2.1,0M487.91,213.84a1.05,1.05 0 1,0 2.1,0a1.05,1.05 0 1,0 -2.1,0M488.02,217.29a1.05,1.05 0 1,0 2.1,0a1.05,1.05 0 1,0 -2.1,0M488.13,220.74a1.05,1.05 0 1,0 2.1,0a1.05,1.05 0 1,0 -2.1,0M488.29,224.19a1.05,1.05 0 1,0 2.1,0a1.05,1.05 0 1,0 -2.1,0M488.55,227.63a1.05,1.05 0 1,0 2.1,0a1.05,1.05 0 1,0 -2.1,0M488.93,231.05a1.05,1.05 0 1,0 2.1,0a1.05,1.05 0 1,0 -2.1,0M489.46,234.46a1.05,1.05 0 1,0 2.1,0a1.05,1.05 0 1,0 -2.1,0M490.37,237.79a1.05,1.05 0 1,0 2.1,0a1.05,1.05 0 1,0 -2.1,0M491.89,240.88a1.05,1.05 0 1,0 2.1,0a1.05,1.05 0 1,0 -2.1,0M493.57,243.89a1.05,1.05 0 1,0 2.1,0a1.05,1.05 0 1,0 -2.1,0M495.72,246.58a1.05,1.05 0 1,0 2.1,0a1.05,1.05 0 1,0 -2.1,0M498.13,249.05a1.05,1.05 0 1,0 2.1,0a1.05,1.05 0 1,0 -2.1,0M500.85,251.16a1.05,1.05 0 1,0 2.1,0a1.05,1.05 0 1,0 -2.1,0M503.85,252.86a1.05,1.05 0 1,0 2.1,0a1.05,1.05 0 1,0 -2.1,0M506.87,254.52a1.05,1.05 0 1,0 2.1,0a1.05,1.05 0 1,0 -2.1,0M510.02,255.94a1.05,1.05 0 1,0 2.1,0a1.05,1.05 0 1,0 -2.1,0M513.25,257.14a1.05,1.05 0 1,0 2.1,0a1.05,1.05 0 1,0 -2.1,0M516.51,258.27a1.05,1.05 0 1,0 2.1,0a1.05,1.05 0 1,0 -2.1,0M519.75,259.45a1.05,1.05 0 1,0 2.1,0a1.05,1.05 0 1,0 -2.1,0M522.92,260.82a1.05,1.05 0 1,0 2.1,0a1.05,1.05 0 1,0 -2.1,0M526.19,261.9a1.05,1.05 0 1,0 2.1,0a1.05,1.05 0 1,0 -2.1,0M529.52,262.83a1.05,1.05 0 1,0 2.1,0a1.05,1.05 0 1,0 -2.1,0M532.85,263.72a1.05,1.05 0 1,0 2.1,0a1.05,1.05 0 1,0 -2.1,0M536.19,264.6a1.05,1.05 0 1,0 2.1,0a1.05,1.05 0 1,0 -2.1,0M539.53,265.45a1.05,1.05 0 1,0 2.1,0a1.05,1.05 0 1,0 -2.1,0M542.87,266.3a1.05,1.05 0 1,0 2.1,0a1.05,1.05 0 1,0 -2.1,0M546.22,267.12a1.05,1.05 0 1,0 2.1,0a1.05,1.05 0 1,0 -2.1,0M549.58,267.93a1.05,1.05 0 1,0 2.1,0a1.05,1.05 0 1,0 -2.1,0M552.94,268.71a1.05,1.05 0 1,0 2.1,0a1.05,1.05 0 1,0 -2.1,0M556.31,269.46a1.05,1.05 0 1,0 2.1,0a1.05,1.05 0 1,0 -2.1,0M559.68,270.17a1.05,1.05 0 1,0 2.1,0a1.05,1.05 0 1,0 -2.1,0M563.07,270.83a1.05,1.05 0 1,0 2.1,0a1.05,1.05 0 1,0 -2.1,0M566.46,271.46a1.05,1.05 0 1,0 2.1,0a1.05,1.05 0 1,0 -2.1,0M569.86,272.06a1.05,1.05 0 1,0 2.1,0a1.05,1.05 0 1,0 -2.1,0M573.26,272.64a1.05,1.05 0 1,0 2.1,0a1.05,1.05 0 1,0 -2.1,0M576.66,273.22a1.05,1.05 0 1,0 2.1,0a1.05,1.05 0 1,0 -2.1,0M580.06,273.79a1.05,1.05 0 1,0 2.1,0a1.05,1.05 0 1,0 -2.1,0M583.46,274.37a1.05,1.05 0 1,0 2.1,0a1.05,1.05 0 1,0 -2.1,0M586.86,274.96a1.05,1.05 0 1,0 2.1,0a1.05,1.05 0 1,0 -2.1,0M590.26,275.57a1.05,1.05 0 1,0 2.1,0a1.05,1.05 0 1,0 -2.1,0M593.65,276.19a1.05,1.05 0 1,0 2.1,0a1.05,1.05 0 1,0 -2.1,0M597.04,276.82a1.05,1.05 0 1,0 2.1,0a1.05,1.05 0 1,0 -2.1,0M600.44,277.43a1.05,1.05 0 1,0 2.1,0a1.05,1.05 0 1,0 -2.1,0M603.84,278.02a1.05,1.05 0 1,0 2.1,0a1.05,1.05 0 1,0 -2.1,0M607.24,278.6a1.05,1.05 0 1,0 2.1,0a1.05,1.05 0 1,0 -2.1,0M610.65,279.14a1.05,1.05 0 1,0 2.1,0a1.05,1.05 0 1,0 -2.1,0M614.06,279.66a1.05,1.05 0 1,0 2.1,0a1.05,1.05 0 1,0 -2.1,0M617.47,280.16a1.05,1.05 0 1,0 2.1,0a1.05,1.05 0 1,0 -2.1,0M620.89,280.64a1.05,1.05 0 1,0 2.1,0a1.05,1.05 0 1,0 -2.1,0M624.31,281.11a1.05,1.05 0 1,0 2.1,0a1.05,1.05 0 1,0 -2.1,0M627.72,281.57a1.05,1.05 0 1,0 2.1,0a1.05,1.05 0 1,0 -2.1,0M631.15,282.02a1.05,1.05 0 1,0 2.1,0a1.05,1.05 0 1,0 -2.1,0M634.57,282.46a1.05,1.05 0 1,0 2.1,0a1.05,1.05 0 1,0 -2.1,0M637.99,282.91a1.05,1.05 0 1,0 2.1,0a1.05,1.05 0 1,0 -2.1,0M641.41,283.35a1.05,1.05 0 1,0 2.1,0a1.05,1.05 0 1,0 -2.1,0M644.83,283.78a1.05,1.05 0 1,0 2.1,0a1.05,1.05 0 1,0 -2.1,0M648.25,284.22a1.05,1.05 0 1,0 2.1,0a1.05,1.05 0 1,0 -2.1,0M651.68,284.65a1.05,1.05 0 1,0 2.1,0a1.05,1.05 0 1,0 -2.1,0M655.1,285.09a1.05,1.05 0 1,0 2.1,0a1.05,1.05 0 1,0 -2.1,0M658.52,285.53a1.05,1.05 0 1,0 2.1,0a1.05,1.05 0 1,0 -2.1,0" fill="#7F93CC" stroke="none" stroke-width="0"/>
<path d="M487.25,182.8a1.05,1.05 0 1,0 2.1,0a1.05,1.05 0 1,0 -2.1,0M487.35,186.25a1.05,1.05 0 1,0 2.1,0a1.05,1.05 0 1,0 -2.1,0M487.44,189.7a1.05,1.05 0 1,0 2.1,0a1.05,1.05 0 1,0 -2.1,0M487.5,193.15a1.05,1.05 0 1,0 2.1,0a1.05,1.05 0 1,0 -2.1,0M487.56,196.6a1.05,1.05 0 1,0 2.1,0a1.05,1.05 0 1,0 -2.1,0M487.68,200.04a1.05,1.05 0 1,0 2.1,0a1.05,1.05 0 1,0 -2.1,0M488.24,203.44a1.05,1.05 0 1,0 2.1,0a1.05,1.05 0 1,0 -2.1,0M489.87,206.46a1.05,1.05 0 1,0 2.1,0a1.05,1.05 0 1,0 -2.1,0M491.83,209.3a1.05,1.05 0 1,0 2.1,0a1.05,1.05 0 1,0 -2.1,0M493.72,212.18a1.05,1.05 0 1,0 2.1,0a1.05,1.05 0 1,0 -2.1,0M495.89,214.87a1.05,1.05 0 1,0 2.1,0a1.05,1.05 0 1,0 -2.1,0M498.17,217.45a1.05,1.05 0 1,0 2.1,0a1.05,1.05 0 1,0 -2.1,0M500.5,220a1.05,1.05 0 1,0 2.1,0a1.05,1.05 0 1,0 -2.1,0M502.91,222.46a1.05,1.05 0 1,0 2.1,0a1.05,1.05 0 1,0 -2.1,0M505.39,224.86a1.05,1.05 0 1,0 2.1,0a1.05,1.05 0 1,0 -2.1,0M508,227.12a1.05,1.05 0 1,0 2.1,0a1.05,1.05 0 1,0 -2.1,0M510.7,229.27a1.05,1.05 0 1,0 2.1,0a1.05,1.05 0 1,0 -2.1,0M513.53,231.24a1.05,1.05 0 1,0 2.1,0a1.05,1.05 0 1,0 -2.1,0M516.52,232.96a1.05,1.05 0 1,0 2.1,0a1.05,1.05 0 1,0 -2.1,0M519.6,234.51a1.05,1.05 0 1,0 2.1,0a1.05,1.05 0 1,0 -2.1,0M522.73,235.97a1.05,1.05 0 1,0 2.1,0a1.05,1.05 0 1,0 -2.1,0M525.96,237.16a1.05,1.05 0 1,0 2.1,0a1.05,1.05 0 1,0 -2.1,0M529.18,238.41a1.05,1.05 0 1,0 2.1,0a1.05,1.05 0 1,0 -2.1,0M532.34,239.8a1.05,1.05 0 1,0 2.1,0a1.05,1.05 0 1,0 -2.1,0M535.51,241.15a1.05,1.05 0 1,0 2.1,0a1.05,1.05 0 1,0 -2.1,0M538.72,242.41a1.05,1.05 0 1,0 2.1,0a1.05,1.05 0 1,0 -2.1,0M541.96,243.6a1.05,1.05 0 1,0 2.1,0a1.05,1.05 0 1,0 -2.1,0M545.21,244.75a1.05,1.05 0 1,0 2.1,0a1.05,1.05 0 1,0 -2.1,0M548.48,245.87a1.05,1.05 0 1,0 2.1,0a1.05,1.05 0 1,0 -2.1,0M551.75,246.97a1.05,1.05 0 1,0 2.1,0a1.05,1.05 0 1,0 -2.1,0M555.02,248.06a1.05,1.05 0 1,0 2.1,0a1.05,1.05 0 1,0 -2.1,0M558.29,249.15a1.05,1.05 0 1,0 2.1,0a1.05,1.05 0 1,0 -2.1,0M561.56,250.25a1.05,1.05 0 1,0 2.1,0a1.05,1.05 0 1,0 -2.1,0M564.83,251.35a1.05,1.05 0 1,0 2.1,0a1.05,1.05 0 1,0 -2.1,0M568.1,252.45a1.05,1.05 0 1,0 2.1,0a1.05,1.05 0 1,0 -2.1,0M571.38,253.54a1.05,1.05 0 1,0 2.1,0a1.05,1.05 0 1,0 -2.1,0M574.66,254.61a1.05,1.05 0 1,0 2.1,0a1.05,1.05 0 1,0 -2.1,0M577.95,255.65a1.05,1.05 0 1,0 2.1,0a1.05,1.05 0 1,0 -2.1,0M581.25,256.65a1.05,1.05 0 1,0 2.1,0a1.05,1.05 0 1,0 -2.1,0M584.56,257.61a1.05,1.05 0 1,0 2.1,0a1.05,1.05 0 1,0 -2.1,0M587.89,258.51a1.05,1.05 0 1,0 2.1,0a1.05,1.05 0 1,0 -2.1,0M591.24,259.36a1.05,1.05 0 1,0 2.1,0a1.05,1.05 0 1,0 -2.1,0M594.59,260.16a1.05,1.05 0 1,0 2.1,0a1.05,1.05 0 1,0 -2.1,0M597.95,260.93a1.05,1.05 0 1,0 2.1,0a1.05,1.05 0 1,0 -2.1,0M601.32,261.66a1.05,1.05 0 1,0 2.1,0a1.05,1.05 0 1,0 -2.1,0M604.7,262.37a1.05,1.05 0 1,0 2.1,0a1.05,1.05 0 1,0 -2.1,0M608.08,263.06a1.05,1.05 0 1,0 2.1,0a1.05,1.05 0 1,0 -2.1,0M611.47,263.72a1.05,1.05 0 1,0 2.1,0a1.05,1.05 0 1,0 -2.1,0M614.85,264.38a1.05,1.05 0 1,0 2.1,0a1.05,1.05 0 1,0 -2.1,0M618.25,265.01a1.05,1.05 0 1,0 2.1,0a1.05,1.05 0 1,0 -2.1,0M621.65,265.59a1.05,1.05 0 1,0 2.1,0a1.05,1.05 0 1,0 -2.1,0M625.05,266.14a1.05,1.05 0 1,0 2.1,0a1.05,1.05 0 1,0 -2.1,0M628.46,266.66a1.05,1.05 0 1,0 2.1,0a1.05,1.05 0 1,0 -2.1,0M631.88,267.16a1.05,1.05 0 1,0 2.1,0a1.05,1.05 0 1,0 -2.1,0M635.29,267.66a1.05,1.05 0 1,0 2.1,0a1.05,1.05 0 1,0 -2.1,0M638.7,268.16a1.05,1.05 0 1,0 2.1,0a1.05,1.05 0 1,0 -2.1,0M642.12,268.67a1.05,1.05 0 1,0 2.1,0a1.05,1.05 0 1,0 -2.1,0M645.53,269.17a1.05,1.05 0 1,0 2.1,0a1.05,1.05 0 1,0 -2.1,0M648.94,269.67a1.05,1.05 0 1,0 2.1,0a1.05,1.05 0 1,0 -2.1,0M652.36,270.15a1.05,1.05 0 1,0 2.1,0a1.05,1.05 0 1,0 -2.1,0M655.78,270.63a1.05,1.05 0 1,0 2.1,0a1.05,1.05 0 1,0 -2.1,0" fill="#F4814F" stroke="none" stroke-width="0"/>
<line x1="487.7" y1="182.5" x2="660.5" y2="182.5" stroke="#777" stroke-width="1.5" />
<line x1="660.5" y1="182.5" x2="660.5" y2="322.4" stroke="#777" stroke-width="1.5" />
<line x1="487.7" y1="182" x2="487.7" y2="322.9" stroke="#666" stroke-width="1.3" />
<line x1="487.7" y1="322.4" x2="661" y2="322.4" stroke="#000" stroke-width="1" />
<line x1="484.9" y1="322.4" x2="487.7" y2="322.4" stroke="#000" stroke-width="0.8" />
<text x="483.4" y="324.45" font-size="5.5" font-weight="bold" text-anchor="end" fill="#000"  stroke="#000" stroke-width="0.3">4.15</text>
<line x1="486.2" y1="299.05" x2="487.7" y2="299.05" stroke="#000" stroke-width="0.8" />
<line x1="484.9" y1="275.7" x2="487.7" y2="275.7" stroke="#000" stroke-width="0.8" />
<text x="483.4" y="277.75" font-size="5.5" font-weight="bold" text-anchor="end" fill="#000"  stroke="#000" stroke-width="0.3">4.20</text>
<line x1="486.2" y1="252.35" x2="487.7" y2="252.35" stroke="#000" stroke-width="0.8" />
<line x1="484.9" y1="229" x2="487.7" y2="229" stroke="#000" stroke-width="0.8" />
<text x="483.4" y="231.05" font-size="5.5" font-weight="bold" text-anchor="end" fill="#000"  stroke="#000" stroke-width="0.3">4.25</text>
<line x1="486.2" y1="205.65" x2="487.7" y2="205.65" stroke="#000" stroke-width="0.8" />
<line x1="484.9" y1="182.3" x2="487.7" y2="182.3" stroke="#000" stroke-width="0.8" />
<text x="483.4" y="184.35" font-size="5.5" font-weight="bold" text-anchor="end" fill="#000"  stroke="#000" stroke-width="0.3">4.30</text>
<line x1="487.7" y1="322.4" x2="487.7" y2="325" stroke="#000" stroke-width="0.8" />
<text x="487.7" y="331.4" font-size="5.5" font-weight="bold" text-anchor="middle" fill="#000"  stroke="#000" stroke-width="0.3">0</text>
<line x1="502.02" y1="322.4" x2="502.02" y2="323.8" stroke="#000" stroke-width="0.8" />
<line x1="516.33" y1="322.4" x2="516.33" y2="325" stroke="#000" stroke-width="0.8" />
<text x="516.33" y="331.4" font-size="5.5" font-weight="bold" text-anchor="middle" fill="#000"  stroke="#000" stroke-width="0.3">5</text>
<line x1="530.65" y1="322.4" x2="530.65" y2="323.8" stroke="#000" stroke-width="0.8" />
<line x1="544.97" y1="322.4" x2="544.97" y2="325" stroke="#000" stroke-width="0.8" />
<text x="544.97" y="331.4" font-size="5.5" font-weight="bold" text-anchor="middle" fill="#000"  stroke="#000" stroke-width="0.3">10</text>
<line x1="559.28" y1="322.4" x2="559.28" y2="323.8" stroke="#000" stroke-width="0.8" />
<line x1="573.6" y1="322.4" x2="573.6" y2="325" stroke="#000" stroke-width="0.8" />
<text x="573.6" y="331.4" font-size="5.5" font-weight="bold" text-anchor="middle" fill="#000"  stroke="#000" stroke-width="0.3">15</text>
<line x1="587.92" y1="322.4" x2="587.92" y2="323.8" stroke="#000" stroke-width="0.8" />
<line x1="602.23" y1="322.4" x2="602.23" y2="325" stroke="#000" stroke-width="0.8" />
<text x="602.23" y="331.4" font-size="5.5" font-weight="bold" text-anchor="middle" fill="#000"  stroke="#000" stroke-width="0.3">20</text>
<line x1="616.55" y1="322.4" x2="616.55" y2="323.8" stroke="#000" stroke-width="0.8" />
<line x1="630.87" y1="322.4" x2="630.87" y2="325" stroke="#000" stroke-width="0.8" />
<text x="630.87" y="331.4" font-size="5.5" font-weight="bold" text-anchor="middle" fill="#000"  stroke="#000" stroke-width="0.3">25</text>
<line x1="645.18" y1="322.4" x2="645.18" y2="323.8" stroke="#000" stroke-width="0.8" />
<line x1="659.5" y1="322.4" x2="659.5" y2="325" stroke="#000" stroke-width="0.8" />
<text x="659.5" y="331.4" font-size="5.5" font-weight="bold" text-anchor="middle" fill="#000"  stroke="#000" stroke-width="0.3">30</text>
<text x="574.5" y="343.4" font-size="7.2" font-weight="bold" text-anchor="middle" fill="#000"  stroke="#000" stroke-width="0.22">Time (h)</text>
<text x="463.8" y="249" font-size="7.2" font-weight="bold" text-anchor="middle" fill="#000" transform="rotate(-90 463.8 249)"  stroke="#000" stroke-width="0.22">Voltage (V)</text>
<text x="524.8" y="211" font-size="8.2" font-weight="bold" text-anchor="start" fill="#000"  stroke="#000" stroke-width="0.22">60 <tspan font-size="7.2" dy="0.3">°</tspan><tspan dx="0.8" dy="-0.3">C</tspan></text>
<circle cx="593.6" cy="191" r="1.05" fill="#F4814F" stroke="none" stroke-width="0"/>
<circle cx="593.6" cy="199.8" r="1.05" fill="#7F93CC" stroke="none" stroke-width="0"/>
<circle cx="597.35" cy="191" r="1.05" fill="#F4814F" stroke="none" stroke-width="0"/>
<circle cx="597.35" cy="199.8" r="1.05" fill="#7F93CC" stroke="none" stroke-width="0"/>
<circle cx="601.1" cy="191" r="1.05" fill="#F4814F" stroke="none" stroke-width="0"/>
<circle cx="601.1" cy="199.8" r="1.05" fill="#7F93CC" stroke="none" stroke-width="0"/>
<circle cx="604.85" cy="191" r="1.05" fill="#F4814F" stroke="none" stroke-width="0"/>
<circle cx="604.85" cy="199.8" r="1.05" fill="#7F93CC" stroke="none" stroke-width="0"/>
<circle cx="608.6" cy="191" r="1.05" fill="#F4814F" stroke="none" stroke-width="0"/>
<circle cx="608.6" cy="199.8" r="1.05" fill="#7F93CC" stroke="none" stroke-width="0"/>
<text x="612" y="193.8" font-size="7.32" font-weight="bold" text-anchor="start" fill="#000"  stroke="#000" stroke-width="0.22">E-LiFAS-4.3v</text>
<text x="612" y="202.8" font-size="7.32" font-weight="bold" text-anchor="start" fill="#000"  stroke="#000" stroke-width="0.22">E-base-4.3v</text>
</svg>
</body></html>
